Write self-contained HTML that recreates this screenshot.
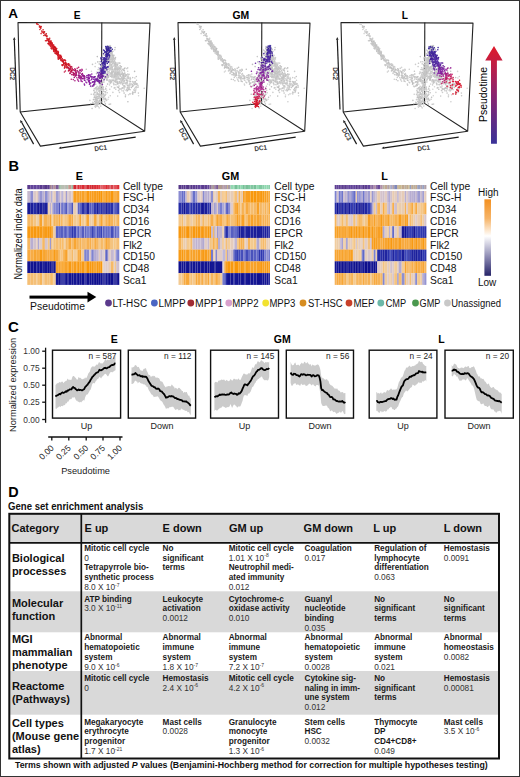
<!DOCTYPE html>
<html><head><meta charset="utf-8"><title>Figure</title>
<style>
html,body{margin:0;padding:0;background:#fff;width:520px;height:777px;overflow:hidden;}
svg{display:block;font-family:"Liberation Sans",sans-serif;}
</style></head>
<body>
<svg width="520" height="777" viewBox="0 0 520 777">
<rect x="0" y="0" width="520" height="777" fill="#fff"/>
<text x="8.3" y="18.2" font-size="13.5" fill="#000" font-weight="bold">A</text>
<text x="77.2" y="18.8" font-size="10.2" fill="#000" text-anchor="middle" font-weight="bold">E</text>
<text x="240.8" y="18.9" font-size="10.4" fill="#000" text-anchor="middle" font-weight="bold">GM</text>
<text x="404.8" y="18.9" font-size="10.2" fill="#000" text-anchor="middle" font-weight="bold">L</text>
<polyline points="20.2,112 18,22.5 150,23.1 144.7,131.3 40.4,146.1 20.2,112 101.5,103.4 144.7,131.3" fill="none" stroke="#222" stroke-width="1.1" stroke-linejoin="round"/>
<line x1="101.8" y1="22.5" x2="101.5" y2="103.4" stroke="#222" stroke-width="1.1"/>
<line x1="14.3" y1="39.9" x2="17" y2="109.4" stroke="#1a1a1a" stroke-width="1.2"/>
<polygon points="14.2,37.1 13,39.9 15.6,39.8" fill="#1a1a1a"/>
<text x="10.4" y="73.7" font-size="6.8" fill="#333" text-anchor="middle" font-weight="bold" textLength="13" lengthAdjust="spacingAndGlyphs" transform="rotate(90 10.4 73.7)">DC2</text>
<line x1="21.6" y1="122.3" x2="33.6" y2="144.1" stroke="#1a1a1a" stroke-width="1.2"/>
<polygon points="20.2,119.9 20.4,123 22.7,121.7" fill="#1a1a1a"/>
<text x="23.4" y="136.5" font-size="6.8" fill="#333" text-anchor="middle" font-weight="bold" textLength="13" lengthAdjust="spacingAndGlyphs" transform="rotate(61 23.4 134.5)">DC3</text>
<line x1="61.3" y1="147.8" x2="135.7" y2="137.2" stroke="#1a1a1a" stroke-width="1.2"/>
<polygon points="58.5,148.2 61.5,149.1 61.1,146.5" fill="#1a1a1a"/>
<text x="100.6" y="150.4" font-size="6.8" fill="#333" text-anchor="middle" font-weight="bold" textLength="12.6" lengthAdjust="spacingAndGlyphs" transform="rotate(-8 100.6 148)">DC1</text>
<polyline points="180.2,112 178,22.5 310,23.1 304.7,131.3 200.4,146.1 180.2,112 261.5,103.4 304.7,131.3" fill="none" stroke="#222" stroke-width="1.1" stroke-linejoin="round"/>
<line x1="261.8" y1="22.5" x2="261.5" y2="103.4" stroke="#222" stroke-width="1.1"/>
<line x1="174.3" y1="39.9" x2="177" y2="109.4" stroke="#1a1a1a" stroke-width="1.2"/>
<polygon points="174.2,37.1 173,39.9 175.6,39.8" fill="#1a1a1a"/>
<text x="170.4" y="73.7" font-size="6.8" fill="#333" text-anchor="middle" font-weight="bold" textLength="13" lengthAdjust="spacingAndGlyphs" transform="rotate(90 170.4 73.7)">DC2</text>
<line x1="181.6" y1="122.3" x2="193.6" y2="144.1" stroke="#1a1a1a" stroke-width="1.2"/>
<polygon points="180.2,119.9 180.4,123 182.7,121.7" fill="#1a1a1a"/>
<text x="183.4" y="136.5" font-size="6.8" fill="#333" text-anchor="middle" font-weight="bold" textLength="13" lengthAdjust="spacingAndGlyphs" transform="rotate(61 183.4 134.5)">DC3</text>
<line x1="221.3" y1="147.8" x2="295.7" y2="137.2" stroke="#1a1a1a" stroke-width="1.2"/>
<polygon points="218.5,148.2 221.5,149.1 221.1,146.5" fill="#1a1a1a"/>
<text x="260.6" y="150.4" font-size="6.8" fill="#333" text-anchor="middle" font-weight="bold" textLength="12.6" lengthAdjust="spacingAndGlyphs" transform="rotate(-8 260.6 148)">DC1</text>
<polyline points="343.2,112 341,22.5 473,23.1 467.7,131.3 363.4,146.1 343.2,112 424.5,103.4 467.7,131.3" fill="none" stroke="#222" stroke-width="1.1" stroke-linejoin="round"/>
<line x1="424.8" y1="22.5" x2="424.5" y2="103.4" stroke="#222" stroke-width="1.1"/>
<line x1="337.3" y1="39.9" x2="340" y2="109.4" stroke="#1a1a1a" stroke-width="1.2"/>
<polygon points="337.2,37.1 336,39.9 338.6,39.8" fill="#1a1a1a"/>
<text x="333.4" y="73.7" font-size="6.8" fill="#333" text-anchor="middle" font-weight="bold" textLength="13" lengthAdjust="spacingAndGlyphs" transform="rotate(90 333.4 73.7)">DC2</text>
<line x1="344.6" y1="122.3" x2="356.6" y2="144.1" stroke="#1a1a1a" stroke-width="1.2"/>
<polygon points="343.2,119.9 343.4,123 345.7,121.7" fill="#1a1a1a"/>
<text x="346.4" y="136.5" font-size="6.8" fill="#333" text-anchor="middle" font-weight="bold" textLength="13" lengthAdjust="spacingAndGlyphs" transform="rotate(61 346.4 134.5)">DC3</text>
<line x1="384.3" y1="147.8" x2="458.7" y2="137.2" stroke="#1a1a1a" stroke-width="1.2"/>
<polygon points="381.5,148.2 384.5,149.1 384.1,146.5" fill="#1a1a1a"/>
<text x="423.6" y="150.4" font-size="6.8" fill="#333" text-anchor="middle" font-weight="bold" textLength="12.6" lengthAdjust="spacingAndGlyphs" transform="rotate(-8 423.6 148)">DC1</text>
<path d="M258.2 94.6h0M428.9 58.7h0M110.3 57.4h0M265 62h0M108.4 51.3h0M108.4 46.1h0M263.2 71.9h0M284.1 70.5h0M272.2 79.3h0M108.2 50.1h0M117.5 70h0M268.8 52.6h0M433.8 67.7h0M96.8 89.5h0M240.3 70h0M97.4 88.5h0M425.7 89.2h0M432.2 65.8h0M430.9 80.2h0M110.5 56.6h0M274.1 72.2h0M296 83.4h0M99.7 92.5h0M108 67.1h0M418.1 78.7h0M379.9 52.8h0M211.8 44.7h0M377.9 52.9h0M91.2 94.3h0M421.2 98.1h0M448.5 83.7h0M277.6 71.5h0M422.3 77.4h0M425.8 63.2h0M430.8 57.5h0M119 86.1h0M115 64.9h0M386.1 61.3h0M403.7 70.5h0M287.2 77.5h0M283.4 91h0M105.1 95.5h0M424 75.3h0M138.2 87.1h0M428.8 67h0M426.8 69h0M426.5 58.2h0M223.1 61.3h0M220.5 56.9h0M266.4 48.1h0M267.2 54.8h0M119.9 67.5h0M417.2 97.2h0M225.6 62.4h0M276.6 77.4h0M431.6 46.8h0M287.2 82.3h0M294 81.8h0M101 84.4h0M425.5 71.7h0M236.3 74.9h0M379.2 52.4h0M385.7 61.6h0M133.6 83.4h0M392.7 69.9h0M98.6 89.7h0M260.1 99.6h0M433.1 65.3h0M437.7 68.1h0M407.7 77.2h0M284.5 71.1h0M412.5 84.3h0M425.5 71.7h0M377.4 49.5h0M437.6 77h0M446.3 78.8h0M98.5 89.3h0M120.9 68h0M436.4 80.5h0M123.8 80.7h0M423.9 73.8h0M115.6 71.1h0M458 92.4h0M427.3 66.2h0M435.4 69.4h0M422.7 78.1h0M115.1 77.1h0M425.8 82.3h0M123.2 81.9h0M230.6 68.6h0M287.3 83.7h0M420.6 96.9h0M103.5 71.1h0M272.8 58.1h0M111.6 82h0M428.9 68h0M249.9 100.4h0M109.5 51.8h0M94.9 97.4h0M433.4 53.7h0M273 75.8h0M413.7 103.8h0M431.9 68.6h0M120.9 76.5h0M113.8 57.2h0M117.3 87h0M437.9 63.5h0M264.7 60.9h0M283.2 85.5h0M415.1 76.9h0M273.1 58.6h0M119.2 74.8h0M283.9 87.4h0M209.7 38.2h0M435.5 80.6h0M271.8 74.6h0M223.6 62.5h0M110 57.4h0M266.7 90.2h0M433.7 50.9h0M424.5 74.3h0M267.6 53.6h0M114.3 81.2h0M415 78.7h0M420.5 98.6h0M269.6 79.7h0M379.7 48.5h0M228.4 63.8h0M430.7 55.8h0M126.7 84h0M231.7 66.7h0M134.2 90.4h0M274.3 81.2h0M283.8 77.2h0M432.7 80.2h0M434.1 80.2h0M133.1 82.7h0M103.3 91.4h0M112.1 55.9h0M217.8 52.7h0M410.2 75.5h0M217.9 51.2h0M287.4 85.7h0M423.1 74.1h0M449.9 68.6h0M129 85.8h0M236.4 72.3h0M272.7 61.2h0M269.3 61.1h0M114.9 80.9h0M268.2 53.5h0M442.4 89.6h0M273.9 84.8h0M427.9 73.1h0M267.1 67.7h0M122.9 77.8h0M284.7 82.7h0M105.7 76.4h0M394.6 74.6h0M264.8 71.5h0M221.5 60.5h0M271.8 52.7h0M119.6 70.7h0M271.5 65h0M297.9 85.3h0M104.6 59.5h0M270.2 48.3h0M438.5 74.7h0M422.1 75.3h0M201.1 33.6h0M135.9 84.4h0M98.5 94h0M279.7 74h0M225.3 63.9h0M264 67.8h0M450.7 90.4h0M372 41.8h0M118.5 76.5h0M437.9 80.9h0M97.1 103.3h0M104.9 71.7h0M411.6 81.3h0M203.8 32.9h0M417.7 80h0M203.9 35.5h0M276 65.9h0M107.2 77.5h0M426.8 97h0M268.7 48.1h0M445.4 84.2h0M230.2 73.2h0M250.7 76.7h0M421.4 80.4h0M368.5 40.8h0M420.2 92.5h0M95.8 84.3h0M104.9 91.5h0M108.7 49.7h0M376.9 47h0M423.1 78.3h0M105.3 63.1h0M117.6 71.5h0M101.3 90.6h0M387.9 67.6h0M426.4 62.5h0M261.5 71.7h0M284.3 80.4h0M112.7 71h0M420.9 94.2h0M444.3 74.5h0M259.2 72.4h0M107.1 60.2h0M273.9 77.9h0M232.8 72.2h0M427.4 95.2h0M130.1 77.5h0M216.8 51.7h0M427.7 60.1h0M95.7 87.8h0M216.9 54.2h0M251.8 74.1h0M421.6 74h0M107.2 67.9h0M397.7 70.6h0M281.8 73.2h0M276.2 79.5h0M113.6 66h0M272.1 55.9h0M384.3 57h0M436.9 77.9h0M286.1 90.5h0M236.3 73.2h0M115.8 89.3h0M99.4 96.5h0M133.7 83.6h0M398.6 70.6h0M422.6 81h0M264 68h0M423.9 94.4h0M380.4 53.8h0M287.7 80.9h0M239 77.4h0M115.8 69.7h0M435.4 71.1h0M242.4 73.5h0M275.8 69.7h0M98.3 89.8h0M263 94.3h0M275.9 76.2h0M113.8 63.1h0M422.9 88h0M425.7 68.2h0M269.5 62.9h0M120.1 74.3h0M107.8 49.7h0M230 73.4h0M127.3 83.7h0M403.7 78.9h0M380.7 53.8h0M413.7 76.7h0M107.4 68h0M102.6 101.7h0M400.6 79.2h0M108.9 68.6h0M442.7 74h0M384.3 56.9h0M430.5 50.1h0M426.9 98.4h0M102.6 72.4h0M104.9 78.2h0M389 63.9h0M372.5 39.8h0M436 75.8h0M261.4 72.2h0M110.1 48.6h0M267.8 66.9h0M423.5 97.9h0M380.3 53.7h0M380.8 53.3h0M110.7 62.4h0M258.5 82.9h0M225.6 64h0M111.3 51.8h0M257.7 61.9h0M220.1 58.4h0M271.1 50.9h0M222.5 65.1h0M265.3 64.1h0M432.2 50.9h0M430.6 76.4h0M263.6 71.4h0M437.1 72.2h0M428.8 52.8h0M261.7 64.3h0M410.2 79.7h0M435.5 63.2h0M262.6 71h0M266.2 47h0M106.3 55.6h0M238.6 81.2h0M112.5 71.3h0M118.5 71.8h0M112.6 54.6h0M117.2 81.2h0M102.7 89.2h0M424.6 74.8h0M426.8 65.4h0M98.4 80.4h0M261.1 71.6h0M417 94.1h0M98.1 104h0M252.1 76.9h0M432.6 64.6h0M113.8 77.4h0M227.1 64.4h0M272.2 73.9h0M98.9 97.9h0M122.5 78.7h0M136.1 87.4h0M115.9 80.5h0M271.1 73.3h0M250.5 86.1h0M407.8 78.2h0M92.8 102.3h0M275.7 66.5h0M219.7 58h0M123.7 70h0M127.2 88.8h0M248.7 77h0M439.4 65.5h0M389 64.7h0M226.8 64.2h0M418.1 66.6h0M270.5 56.6h0M290.1 89.8h0M117.2 67.8h0M433.6 81.8h0M417.7 101.6h0M429.4 48.1h0M269.1 54.7h0M422.4 100.8h0M116.6 76.4h0M119.8 72.6h0M126.4 75h0M271.2 73.3h0M121 82.9h0M267.8 58.2h0M428.7 52.2h0M428.7 51.7h0M419.5 87.6h0M383.5 56.9h0M415.4 82.2h0M433.2 83.2h0M274.3 73.2h0M244.4 78.8h0M97.7 103.7h0M114.9 87.6h0M292.8 92h0M257.5 80.8h0M442.1 74h0M426.8 63.8h0M292.7 81.5h0M430.3 72.7h0M123.4 91h0M123.2 77.7h0M261.8 69.5h0M219 58.7h0M437.6 65h0M102.3 95h0M111.2 73.3h0M293.9 89.5h0M133.2 85.5h0M278.1 77.7h0M264.9 72.6h0M417.7 81.7h0M436.8 71.8h0M430 61.6h0M435.4 72.5h0M424 84.4h0M137.1 83.8h0M425 83.4h0M101.7 83.5h0M270 53.6h0M430 67.3h0M110.3 81.6h0M446.8 80.7h0M256.7 100.4h0M266 54.7h0M280.4 66.1h0M98.2 98.1h0M223.2 65h0M270.6 81.8h0M425.5 72.3h0M404 77.2h0M268.3 59.5h0M121.5 80.5h0M112.3 66.8h0M109.3 59.1h0M263.3 91.4h0M216.8 53.3h0M422.3 82.5h0M103 97.7h0M257.3 56.6h0M223 61.8h0M96.3 105.2h0M273.8 58.8h0M97 104.6h0M98.1 69.6h0M106 74h0M293.6 83.4h0M390.6 67.5h0M378.6 50.4h0M423.5 76.6h0M279.2 79.2h0M115.2 84.6h0M261.3 61.4h0M438.1 72.3h0M266.7 63.4h0M427.5 59.3h0M95.6 97.9h0M278 78.4h0M277.9 76.3h0M208.7 40.1h0M268.9 52h0M243 75.2h0M125 68h0M431.6 56.4h0M378.5 47.3h0M118.1 77.7h0M124.3 80.4h0M448.4 96.8h0M419.1 99.4h0M266.6 53.2h0M259.3 82.5h0M106.2 47h0M425.4 67.3h0M271.9 58h0M110.6 104.1h0M279 73.4h0M105.7 88.3h0M266.3 73.8h0M435 52.2h0M270.4 80.2h0M105.5 66.8h0M423.8 86.7h0M227.6 67.5h0M121.7 78h0M428.4 65.1h0M427.7 101.9h0M262.6 101.7h0M434.6 82h0M253 81.7h0M275.1 47.6h0M423.3 84h0M433 45.5h0M268.7 61.7h0M144.2 88.3h0M425.4 65.7h0M109.3 58.6h0M95.2 99.3h0M110.1 65.3h0M268.7 59.6h0M254.7 81.7h0M110.5 53.6h0M393.9 67.8h0M108.1 56.5h0M389.3 66h0M418.1 81.2h0M233.3 73.1h0M432.1 57.8h0M378.6 49.4h0M103.2 88.1h0M263 72.4h0M276.2 73.4h0M392.7 65.2h0M118.8 73.2h0M381.5 54.6h0M270.7 62.4h0M280.9 76.5h0M101.7 95.2h0M263.8 97h0M379.8 51.7h0M243.4 77h0M266.9 48.6h0M380.2 53.2h0M108 50.2h0M248.5 78.8h0M131 83.5h0M424.1 59.1h0M388.4 71h0M110.9 61.8h0M432.5 59h0M399.3 73.2h0M437.4 75.3h0M121.2 88.9h0M117.9 76.3h0M387.9 60.6h0M374.8 46.2h0M429.3 73.8h0M445.2 80.2h0M203.1 29.7h0M416.5 94.2h0M280.1 75.3h0M217.4 53.8h0M374 44h0M431.7 75.4h0M431.2 57.9h0M124.3 73.3h0M264.7 60.1h0M107.9 54.8h0M273.8 57.2h0M439.6 77.4h0M233.9 74.8h0M123.2 85.5h0M97.3 100.4h0M99.2 81h0M257.5 79h0M434.1 74.4h0M225.8 63.2h0M427.9 72.6h0M107.1 69.1h0M269.7 80.2h0M117 82.1h0M367.5 31.9h0M272.3 67.9h0M123.4 73.7h0M431.6 76.9h0M106.3 73.8h0M420.1 86.4h0M425 88.1h0M219.6 58.2h0M430.9 50.4h0M427 57.7h0M427.2 77h0M434 76.5h0M126.5 89.6h0M399 75.7h0M229.7 65.2h0M115.4 59h0M119.8 81.8h0M278.1 67.1h0M424.3 90.6h0M393.1 66.7h0M434.1 51.5h0M267.6 55.3h0M97.1 89.4h0M263.7 73.1h0M110.1 73.5h0M386.2 65h0M270.4 59.8h0M120 82.1h0M425.1 92.9h0M392.6 68.7h0M262.4 76h0M229.7 69.9h0M430 55.3h0M422.9 101h0M293.3 92.7h0M424.3 81.1h0M417.4 77.2h0M103.7 75.5h0M272.8 61.8h0M107.2 54.5h0M283.5 81.4h0M423.5 88h0M125.2 76.2h0M424.6 74.5h0M231.5 70.6h0M119.6 88.5h0M262.6 72h0M431.7 48.5h0M373.1 41h0M115.5 74.7h0M108.7 48.5h0M108.1 48.3h0M108 55.9h0M275.7 70.9h0M389.8 64.2h0M430.1 69.1h0M118.5 90.6h0M264.5 64.2h0M260.8 86.7h0M230.4 68.5h0M277.6 65.1h0M244.8 76.6h0M422.6 75.7h0M122.8 75h0M258.5 81.5h0M247.2 77.7h0M442.4 88.6h0M211.1 48.3h0M417.6 83.9h0M424.9 96.4h0M289 88.3h0M431.2 62.3h0M435.5 71.3h0M107.2 92.7h0M381.3 52.7h0M283.4 79.4h0M228.5 70.9h0M278.4 74.1h0M111.5 61.2h0M129.5 89.3h0M432.1 68.5h0M268.5 57.1h0M100.8 106.1h0M218 53.5h0M265.8 52.8h0M222.7 60.2h0M273.9 79.9h0M121.6 77.4h0M428.1 78.1h0M422.6 93.1h0M115.1 72.3h0M368 34.3h0M435.5 72.3h0M108.4 50.6h0M98.7 87.4h0M116 79.3h0M112 72h0M109 81.7h0M134.9 78h0M417.3 95.3h0M121.7 82.6h0M258.2 75.9h0M433 47.2h0M108.5 60h0M111.3 47.8h0M421 96.5h0M427.2 78.8h0M129 78.7h0M366.1 31.5h0M261.9 96.4h0M419 105.9h0M234.7 73.8h0M436.9 70.8h0M426.1 71.9h0M279.9 67.5h0M434.8 77.2h0M420.4 104.2h0M272.6 62.9h0M261.1 59.1h0M136.8 87.6h0M391.4 67.5h0M421.5 89.3h0M444.7 78h0M234.3 77.4h0M459.3 84h0M282.8 75h0M267.2 92.7h0M273.5 69.2h0M116.2 68.2h0M274.8 72.6h0M427.7 60.9h0M275 65.8h0M429.2 63.2h0M99.2 63.9h0M229.6 65.1h0M392.5 70.1h0M211 42.7h0M137.9 85.3h0M199.5 27.1h0M284 83.5h0M114.1 63.1h0M110.4 53.7h0M434.4 61.5h0M429.4 54h0M432 68h0M102.5 88.2h0M271.9 75.7h0M138.4 93.1h0M99.7 94.4h0M420.9 77h0M126.9 79.6h0M248.8 75.6h0M107 75h0M116.1 64.2h0M281.1 69.1h0M113.6 57.6h0M98.5 103.4h0M276.6 76.4h0M224.4 68.1h0M431.4 46.1h0M294.2 90.4h0M427.4 99.7h0M276.7 74.3h0M417.2 82.1h0M251 76.3h0M446.5 81.4h0M416.9 90.4h0M393.4 71.9h0M423.7 83.9h0M112.5 72.3h0M279.4 82.6h0M249 81.8h0M440.9 75.2h0M431.1 49.7h0M117.5 76.8h0M100.9 94.4h0M296.3 84h0M382.1 55.9h0M240.7 70.5h0M98.2 98.1h0M288.8 87.1h0M110.7 48.6h0M285.4 96.8h0M296.1 87.4h0M206.8 36.6h0M107.3 59.5h0M257.7 72.8h0M431.3 57.5h0M425.4 84.5h0M119 73.4h0M381.1 56h0M249.5 84.3h0M277.7 83.9h0M136.5 80.3h0M361.1 24.5h0M292.7 92.4h0M132.7 77.6h0M114.7 68.1h0M424.2 85.5h0M121.5 70.8h0M434.9 68.2h0M105.2 71.4h0M210.6 43h0M426.9 73h0M274.8 74.2h0M109.2 52.8h0M290.5 78.8h0M430.5 49.7h0M93.9 103.4h0M449.3 82.9h0M373.2 44.4h0M259.8 91h0M278.5 72.7h0M421.2 103h0M425.6 101.7h0M116 66.9h0M268.1 46.9h0M258.6 89.7h0M96.5 87.6h0M261.6 74.5h0M425.3 78h0M440.7 83.9h0M118.5 73h0M264.6 52.1h0M100.4 86.4h0M418.2 100h0M118.5 67.3h0M389.1 65.7h0M103.9 58.9h0M235.8 72.1h0M373.9 42.2h0M109.1 68.5h0M233.3 79.6h0M406.4 77h0M274.2 88h0M439.6 76.4h0M429.3 49h0M279.1 78h0M96.3 99.1h0M226.1 65.7h0M268.3 52h0M431.1 75.6h0M126.9 68.6h0M445.8 83h0M97.2 92.5h0M418.3 79.8h0M111.3 66.3h0M429.1 56.7h0M247.2 79.7h0M110.3 55.3h0M103.2 68h0M111.2 54.7h0M421.5 76.2h0M391.8 70.3h0M261.9 67.8h0M376.7 51.5h0" stroke="#c9c9c9" stroke-width="1.6" stroke-linecap="round" fill="none"/>
<path d="M244.6 85.1h0M426.4 59.6h0M122.8 88.5h0M219.4 55.8h0M429.5 70.8h0M270.6 104.1h0M117.8 71.6h0M263.4 76.2h0M282.9 69.4h0M282.6 83.8h0M279.1 69.2h0M113.3 56.2h0M107.6 67.3h0M265.6 59.1h0M431.2 53.5h0M428.4 76.9h0M96.9 105.6h0M295.2 82.9h0M272.8 59.8h0M215.6 49.4h0M283.8 77.3h0M114.1 55.4h0M132.3 93.6h0M426.1 89.8h0M425.5 73.6h0M420.1 103.3h0M100.8 65.1h0M425.9 94h0M434.9 74.5h0M224.4 72h0M292.3 93.6h0M113.3 77.1h0M263.2 73.5h0M387 59.8h0M414 76.3h0M101.2 89h0M373.8 43.3h0M387.9 60h0M430 56.5h0M426 72.4h0M117.6 79.5h0M409.9 75.7h0M100.8 69.8h0M99.4 101.7h0M432.1 50.7h0M382.3 56.5h0M387.7 65.9h0M289.5 89.3h0M423 95.2h0M426.7 75.5h0M284.8 73.1h0M98.4 91.3h0M277.5 68.9h0M216.9 52.8h0M112.2 79.3h0M230.2 67.1h0M211.5 43.6h0M212.2 47.7h0M276.9 68.6h0M411.5 78.8h0M437.8 72.6h0M417.4 81.4h0M431 67.1h0M113.5 69.2h0M260.6 64.8h0M282.5 74h0M97.3 88.6h0M401.6 67.4h0M261.3 72.6h0M260.7 73.9h0M421.5 82.9h0M138.6 95.8h0M447.1 70.5h0M441.3 87.4h0M244.3 84.1h0M111.4 61.1h0M269.3 59.1h0M427.5 64.2h0M111.1 51.5h0M449.1 90.5h0M263.5 71.9h0M269.3 51.2h0M418.9 99.2h0M458.9 89.9h0M268.6 48.8h0M110.8 67.7h0M408.8 82h0M265.3 98.4h0M425.4 72.9h0M113.2 76.9h0M277.2 81.2h0M253.3 81.7h0M447.7 85.8h0M266.6 79.8h0M441.7 67.3h0M106.4 78.5h0M267.6 67.3h0M262.3 77.8h0M117.7 74.6h0M265.4 94.2h0M426.1 59.8h0M122.9 81.8h0M99.6 93.1h0M267.6 84.1h0M263.4 69.5h0M98.4 88.7h0M99.9 101h0M269.5 55.7h0M220.1 56.7h0M265 58.8h0M218.3 52.7h0M432.4 56.1h0M421.4 106.6h0M274.6 77h0M426.4 69.8h0M112.4 71.1h0M282.7 76.1h0M412.1 78.4h0M405.7 75.1h0M258.9 104.4h0M399.7 75.3h0M381.9 55.3h0M379.6 52.5h0M445.9 81.8h0M107.6 78.9h0M432.8 51.4h0M421.2 103.3h0M237.9 71.7h0M430 75h0M101.9 96.4h0M242.8 75.5h0M106 69.9h0M235.6 70.6h0M279.2 81.5h0M374.2 41.1h0M417.7 92h0M428.5 68.1h0M265.7 52.2h0M292.8 94.1h0M431.8 52.6h0M426.4 69.4h0M385.7 60.2h0M242 76.2h0M108.3 77.2h0M123.7 78.9h0M252.3 86.1h0M276.5 79.2h0M424.8 69.5h0M386.6 62.5h0M446.2 85.5h0M430.3 56.8h0M258.6 74h0M101.6 86.1h0M388.8 63.2h0M431.7 50.9h0M281.5 70.8h0M423.5 82.6h0M387.9 63h0M285.5 75.5h0M127.8 78.5h0M273.4 76.4h0M287.1 90.9h0M102.1 57.5h0M104.9 58.9h0M110.5 55.7h0M430.9 50h0M134 81.8h0M274.9 58.6h0M387.4 68.1h0M95.8 92.2h0M212.1 42.9h0M269.1 80.7h0M129.8 87h0M271.5 57.2h0M430.5 50.6h0M271.1 74.4h0M266.7 49.9h0M100 73.4h0M419.3 99.1h0M94.7 96.5h0M388.9 63.9h0M403.6 76.1h0M125.3 75.7h0M118.1 67.1h0M103.9 73h0M282.4 74h0M105.2 68.5h0M412 81.8h0M233.6 75.1h0M277 63h0M432.8 61h0M434.5 86.7h0M280.1 69.1h0M258.9 97.9h0M120.9 89.2h0M268.1 99.2h0M420.4 100.3h0M95.5 63.3h0M420.7 61.9h0M287.2 88.8h0M401 80.2h0M259.6 93.1h0M97.6 96.9h0M231 66.6h0M216.5 50.8h0M260.8 106.1h0M268.1 56.5h0M108.7 50.9h0M128.6 94.7h0M426.5 80.6h0M418.1 106.3h0M123.4 79.4h0M426.6 71.4h0M435.1 75.3h0M287.3 87.6h0M377.6 47h0M429.4 56.3h0M110.4 51.5h0M94.3 88.5h0M271.9 59.8h0M413 83.6h0M287.4 81h0M282.4 84.2h0M425.6 72h0M425.4 75.6h0M135.9 89.9h0M445.4 88.1h0M106.2 77.8h0M442.2 74.8h0M115.6 78.9h0M103.6 72.1h0M264.9 63.2h0M404.2 78.8h0M389.3 64.7h0M429.6 79.8h0M264.1 64h0M432.3 55.5h0M125.5 75.5h0M267.6 73.6h0M107.5 71.1h0M374.5 43.6h0M405.2 81.6h0M434.2 81.4h0M108.1 75.6h0M217.7 52.9h0M105.1 70.6h0M274.1 55.4h0M120.3 78.6h0M274.7 68.1h0M426.6 72.1h0M428.4 65.2h0M438.1 74.4h0M122.8 83h0M371.7 40.1h0M431.4 51.9h0M429.9 69.8h0M98.9 104.4h0M457.6 71.4h0M109.6 79.7h0M375.7 47.5h0M429 55.8h0M278.8 83.6h0M419.4 103.4h0M108.1 99.2h0M109.1 61.3h0M118.1 78.4h0M207.8 40.2h0M278.5 63h0M434.7 62.3h0M422.6 91.3h0M423.8 106.1h0M111.5 57.2h0M109.5 55.6h0M266.3 68h0M212.6 44.6h0M459.8 87.6h0M263.9 63.4h0M116.4 67.6h0M113.1 59.5h0M445.7 77.4h0M438.2 67h0M279.6 63h0M422.5 101.9h0M282.4 87.9h0M273.8 77.4h0M111.9 68.2h0M444.6 77.4h0M100.5 87.8h0M265.4 65.1h0M430.9 58.3h0M273.7 83.6h0M425.5 63.9h0M239.7 78.1h0M419.8 79.4h0M425.8 71.1h0M116.2 71.4h0M211 44h0M280.3 78.6h0M111.8 52.4h0M102.4 67.3h0M268.4 53.3h0M133.9 82.8h0M108.7 59.6h0M97.5 93.1h0M236.8 77.7h0M263.3 63h0M114.8 72.6h0M441.1 67.1h0M101.4 78h0M241.2 78.8h0M262.5 73.6h0M237.2 70.5h0M432.7 70.2h0M109.4 51.8h0M282.4 88.1h0M285.5 95h0M421.6 75.5h0M430.3 80h0M429.4 48.1h0M450.4 81h0M271.9 52h0M102.9 94h0M264.4 50.7h0M213.7 51.5h0M224 59.8h0M262.6 71.7h0M219.2 56.1h0M96 94.2h0M430.5 49.5h0M267.5 54.6h0M296.2 84.2h0M442.7 78.9h0M414.5 79.6h0M117.2 74.1h0M363.6 27.6h0M265.9 68h0M427 82.1h0M420.2 93.4h0M274.1 75h0M101.8 73.8h0M268.7 50.3h0M100.9 73.8h0M267 55.3h0M241.7 74.4h0M431.5 54.9h0M106.6 53.2h0M372.6 42h0M295.2 82.1h0M233.6 72.8h0M114.6 70h0M428.7 61.5h0M265.7 76.4h0M453.5 78.8h0M421 104.3h0M376.7 47.8h0M421.9 88.2h0M418.9 95.5h0M114.7 61.5h0M210.8 43.3h0M426.5 93.9h0M284.2 88.9h0M264.3 66.2h0M229.5 70.1h0M425.5 62.5h0M264 57.7h0M104.9 66.5h0M260 78.5h0M259.2 63.9h0M99 90.1h0M263.4 59.6h0M280.2 76.3h0M121.9 90.7h0M275.1 74.4h0M213.5 45.9h0M214.9 52.9h0M430.5 53.8h0M241.1 80.3h0M107.4 46.5h0M424.5 67h0M98.6 67.7h0M99.2 107.9h0M410.1 77.6h0M423.4 86h0M103.5 80.6h0M264.4 99.7h0M391.4 63.8h0M246.9 77.2h0M275.6 68.8h0M419.3 88.8h0M377.3 46.6h0M264.7 71.4h0M243.9 75.9h0M113 75.8h0M269.1 50.7h0M277.8 71.6h0M389.5 65.6h0M430.6 84.1h0M215.5 53.6h0M429.8 50.6h0M132.3 85.3h0M112.4 71.8h0M431.7 61.7h0M399.4 72.3h0M98.4 106.6h0M426.2 68h0M269.2 65.8h0M102.3 82.8h0M398.6 71.9h0M262.8 63.2h0M266.4 78.5h0M133.9 89.5h0M423.9 74.5h0M440.1 83h0M434.1 50.9h0M265.4 60.5h0M426.2 94.3h0M270.9 61.8h0M271.1 68.9h0M266.4 56.3h0M438.2 84.6h0M246.9 75.7h0M448.3 76h0M451.6 94.7h0M208 39.6h0M263.4 62.7h0M257.3 81.2h0M439.2 68.2h0M280.1 74.3h0M123.6 90.8h0M106.4 53.7h0M127.7 71.3h0M438.6 81.2h0M281.5 80.5h0M426.1 62.3h0M265.4 76.9h0M418.8 84.3h0M374.7 43.6h0M112.7 76.9h0M422.7 77.7h0M424.4 78h0M429.9 77.4h0M426.7 62.3h0M101.6 85.3h0M121.3 81.8h0M116 66.9h0M425 70.5h0M280.9 89.2h0M272.2 72.3h0M277.2 67.8h0M433.1 59.1h0M430.6 61.7h0M423 73.4h0M413.5 86.1h0M435.9 92.4h0M134.5 84.8h0M229.6 68.7h0M426.2 68.2h0M97.5 94.5h0M286.2 74.9h0M268.7 75.4h0M104.4 99.7h0M218.3 56.7h0M94.7 92h0M422.5 96.6h0M210.5 43.9h0M244.3 76h0M424.5 70.8h0M385.3 58.9h0M375.6 44.6h0M288.5 89.3h0M270.4 64h0M266.9 59.1h0M277.2 74.7h0M96 105.9h0M206.9 35.8h0M444.8 78.2h0M111.1 80.2h0M111 72.7h0M282.2 80.2h0M265.6 99.1h0M249.8 80.5h0M124.5 71.1h0M282.9 77.8h0M292.2 84.5h0M112.2 72.3h0M270.4 49.6h0M108.6 46.8h0M275.6 62.5h0M262.5 71.7h0M225.4 71h0M421.6 67.7h0M423.8 69.8h0M399.3 74.9h0M95.3 104.4h0M282.9 81.8h0M111.1 73.3h0M267.7 60.3h0M440.2 81.2h0M261.5 70.8h0M117.5 72.5h0M269.9 54.9h0M281.3 82h0M116.1 69.9h0M411.7 80.3h0M100.5 82.6h0M370.8 40.2h0M281.2 88.9h0M432.8 89.2h0M235.6 71.9h0M261.3 81.1h0M418.2 99.3h0M280 82.1h0M269.9 74.8h0M260.6 103.4h0M436.5 62.1h0M467.2 88.3h0M421.2 75.9h0M448 76.7h0M428.1 67.9h0M272.3 66.8h0M241 77.8h0M264.7 61.6h0M231.6 74.6h0M432.9 51.3h0M294.5 84.8h0M209.2 43.4h0M113.3 83h0M136.5 87.6h0M276.5 84.7h0M430.3 74.7h0M124.7 82.7h0M276.4 65.5h0M395.2 68.2h0M113.2 56.3h0M432.4 51.8h0M438.9 76.2h0M380.4 52.5h0M116.5 84.7h0M435.2 79.3h0M450.7 80.9h0M435.3 55.6h0M107.9 50.7h0M259.7 92.5h0M127.2 77.5h0M91.2 86.7h0M107.5 52.9h0M106.1 60.6h0M427 69.8h0M427.4 66.6h0M242.7 75.1h0M387 63.6h0M113.9 74.5h0M437.7 69h0M423.2 68.3h0M430.2 54.8h0M397.4 73.9h0M369.7 40.2h0M102.2 82h0M288.9 87.3h0M423.5 72.8h0M112.1 59h0M122.8 73.5h0M117.2 65.9h0M135.2 82.1h0M103.2 94.3h0M388.6 64h0M137.9 85.8h0M108.6 97.3h0M133.3 92.7h0M422.2 107.9h0M124 83.5h0M434 47.8h0M239.8 77.6h0M210.2 44.4h0M242.6 78.6h0M280.5 79.9h0M94.3 95.3h0M275.8 75.8h0M434.2 73.3h0M270.8 67.7h0M283.8 80.7h0M118 76.5h0M99.1 75.3h0M108.2 69.5h0M442.6 78.7h0M267.5 52.9h0M386.7 63.9h0M119.4 89.6h0M420.3 100.4h0M106.4 86.3h0M109.3 58.4h0M400.2 70.5h0M296.9 84.8h0M386 61.8h0M212.7 47.5h0M440.9 76.3h0M277.6 79.5h0M427.9 58.9h0M109.6 84.9h0M270 52.2h0M127.1 90.9h0M427.4 78.2h0M106.7 90.2h0M424.2 62.8h0M429.1 60.6h0M108.2 66.7h0M241.3 77.3h0M96.6 90.3h0M105.7 48.6h0M257.3 88.6h0M95.9 99.2h0M285 76.7h0M119.1 69.2h0M268.5 59h0M279.7 63.3h0M220.3 55.9h0M91.4 71.2h0M271.7 72.2h0M96.2 105.5h0M271.2 54.7h0M269.4 56.1h0M423.3 90h0M129.5 83.4h0M126 75.9h0M364.1 33.6h0M422.4 101.7h0M373.9 44.7h0M395.8 74.7h0M103.8 75.1h0M249.1 78.4h0M110.5 45.9h0M97.9 94.2h0M105.7 61.5h0M411.7 77h0M410.2 77.7h0M420.5 94.5h0M278.8 73.2h0M266.9 77.4h0M270.3 95.8h0M433.2 82.7h0M420.1 103.1h0M420.5 80.8h0M109.1 80.7h0M440.5 68.9h0M234.8 68.7h0M96.5 91h0M107.7 60.3h0M228.2 64.8h0M106.6 79.8h0M363.8 28.3h0M424.3 61.4h0M428.3 63.7h0M425.3 77.8h0M271.5 62.3h0M275.6 66.6h0M286.3 82.9h0M426.7 61.7h0M215.2 48.2h0M271.1 55h0M221.3 57h0M252.1 108.5h0M122.6 83.8h0M120.6 74.1h0M375.9 45.3h0M102.5 70h0M263.5 93.9h0M223.7 63.9h0M265.8 46.5h0M243.4 75.6h0M262.4 84.5h0M114.6 65h0M108.2 73.1h0M371 39.6h0M435 71.5h0M112.3 67.9h0M430.2 67.9h0M257.9 94.2h0M121.1 69.1h0M221.4 56.6h0M109.7 80.2h0M434.5 61.2h0M109 68h0M119.2 79.2h0M432.7 57.3h0M433.3 95.8h0M109.2 65.8h0M418.2 76.8h0M406 75.2h0M447.7 82.7h0M98.5 82.9h0M418.5 107.3h0M445.2 79.3h0M277.4 73.4h0M427.9 63.2h0M442.1 78h0M226.5 65.6h0M114.9 63.5h0M96.6 101.7h0M290.1 77.5h0M424.9 86.2h0M109.9 54.9h0M417.7 96.5h0M427.6 59.5h0M100.1 99.6h0M260.5 69h0M377.5 51.1h0M444.3 82h0M423.3 100.1h0M280.6 78.8h0M278.7 74.5h0M279.1 74h0M378.2 48.2h0M113 64.7h0M401.6 81.2h0M259.7 78.1h0M446.6 90.8h0M403.3 73h0M383.4 58.2h0M416.8 84.3h0M214.3 47.1h0M259.7 77.7h0M106 48.4h0M104.6 60.3h0M419.7 100.4h0M95.7 105.1h0M428.6 59.1h0M432.5 55.7h0M211.8 43.7h0M263.1 89.8h0M433 57.4h0M425.1 57.5h0M264.4 66.6h0M417.3 88.5h0M254.3 95.3h0M419 94.2h0M261.6 73.1h0M134.4 84.2h0M234.7 70.6h0M298.6 95.8h0M116.6 77.4h0M429.7 59.8h0M435.2 72.3h0M428.2 71.4h0M421.6 79.2h0M100.1 78h0M288.6 94.7h0M371.1 39.3h0M267.2 54.5h0M293.7 83.6h0M438.1 77.1h0M430 55.1h0M94.3 92.1h0M109.7 46.2h0M424.7 95.2h0M102.2 71.2h0M430.2 49.9h0M268.9 69.5h0" stroke="#d4d4d4" stroke-width="1.6" stroke-linecap="round" fill="none"/>
<path d="M99 88.4h0M275.7 73.2h0M265.7 89.1h0M413 74.8h0M235.4 75.4h0M249.7 83.8h0M296.8 87.6h0M427.5 66.1h0M420.2 77.9h0M101.9 67.8h0M387.9 66.6h0M285 68h0M437.8 74.2h0M115.3 82h0M210.1 41h0M429.4 86.3h0M112.4 59.6h0M267.5 49.7h0M119.7 74h0M118 68.9h0M270.6 81h0M123.3 78.8h0M111.6 53.4h0M100 95.2h0M431.7 48.1h0M226.4 67.6h0M423.5 87.8h0M430.6 67.3h0M407.5 80.2h0M425.2 74.7h0M421.1 98.8h0M426.4 60.1h0M126.3 80.6h0M273.5 62.1h0M418.8 103.3h0M112.5 56.4h0M362.5 26.1h0M445.6 83.8h0M423.9 101.8h0M431.2 49h0M428.4 103.9h0M123.4 75.3h0M128.7 89.3h0M273.8 71.8h0M265.8 67h0M118.7 74.5h0M278.5 90.6h0M101.1 66.1h0M136 83.4h0M420.5 79h0M223.5 60.2h0M216 50.3h0M394.3 71.1h0M420.1 105.9h0M394 66.6h0M372.1 43.7h0M397.7 73.8h0M419.3 79.9h0M108.5 57.1h0M233.7 73.6h0M204.5 31.9h0M115.8 72.3h0M93.9 90.4h0M262.3 78h0M418.8 92.2h0M130.6 81.6h0M122.4 87.9h0M270 47.2h0M135 92.4h0M263.2 68.2h0M117.1 83h0M255.7 87.8h0M435.4 71.8h0M276.2 71.4h0M259 90.1h0M271.5 86.7h0M427.6 58.8h0M254.2 82.1h0M434.5 65h0M110.1 53h0M98.9 76.5h0M269.8 64.8h0M419.6 90.3h0M283.7 70h0M215.6 50.4h0M282.3 72.3h0M375.7 47.1h0M109.5 59h0M431.6 97.3h0M411.9 80.3h0M210.7 41.6h0M295.4 91.3h0M100.3 100.1h0M277.1 82.3h0M426.2 71.9h0M265.6 99.8h0M418.6 97.9h0M116.9 69.3h0M255.1 66.6h0M259.3 77.4h0M421.6 89.7h0M117.3 82.2h0M375.6 45.3h0M111.1 74.4h0M105.7 99.3h0M100.7 102.4h0M119.7 63.3h0M113.1 55.5h0M102.2 75.6h0M421.2 94.6h0M422.8 69.8h0M296.5 87.6h0M398.2 75.9h0M430.5 61h0M107.5 61h0M266.9 53.2h0M406.4 75.6h0M135.2 81.7h0M432.2 52.8h0M283.4 75.3h0M268.8 49.9h0M428.4 92h0M103 67.1h0M412.5 82.6h0M130 93.9h0M393.4 68.5h0M107.7 76h0M93.4 99.8h0M242.3 70.1h0M268 55.9h0M275.3 82h0M433.1 50.3h0M102 83.4h0M100.8 86.7h0M432.4 51.1h0M273.3 83h0M397.8 68.7h0M433.5 53.6h0M427.6 60.3h0M425.6 67.8h0M427 75.9h0M101.6 74.8h0M425.5 70h0M402 73.9h0M113.6 71.4h0M285.3 75.7h0M267.9 50.4h0M260.7 77.4h0M266.8 50.6h0M420.2 96.6h0M98.1 98.8h0M443.4 75.4h0M124.1 70.5h0M275.6 81.8h0M424.6 72.8h0M282.8 73.7h0M263.7 62.5h0M109.2 104.3h0M217.3 54.5h0M260.7 102.4h0M272.8 60h0M421.6 87.6h0M430.7 60.3h0M392.4 69.9h0M279.6 88.5h0M273.4 80.5h0M429.6 52.1h0M374 42.9h0M251.2 94.3h0M432.3 58.6h0M424.9 57.4h0M372.8 43.4h0M412.1 81.5h0M445.8 73.7h0M446.8 77.2h0M371 39.2h0M123.8 75.3h0M422.6 86.1h0M206.3 33.9h0M430.1 60.2h0M441.9 83h0M110.1 59.1h0M379.6 51h0M263.1 59.8h0M273 64.7h0M110.5 53.1h0M264.7 101.9h0M122.2 80.2h0M430.8 47h0M123.1 77.2h0M376.5 45.9h0M421.5 103.4h0M278.5 73h0M429.5 76.2h0M424.1 71.6h0M266.6 50.8h0M293.9 82.8h0M429.7 49.9h0M252.5 64.4h0M106.6 61h0M273 61.3h0M224.9 67.6h0M426.4 76.2h0M273.1 59.5h0M433.3 81.6h0M424.3 72.6h0M258.1 94.2h0M93.5 94.2h0M378.1 47.9h0M221.2 57.6h0M371.1 40h0M132.7 92.4h0M379.4 49.2h0M94.8 92.7h0M239 73.9h0M440.5 76.8h0M382.6 55.2h0M417.3 92.1h0M106.7 59.9h0M451.5 89.3h0M452.8 87h0M254.4 77.2h0M371.5 41.7h0M244.8 78.2h0M104.3 55.2h0M216.3 48.7h0M132.8 94.1h0M118.3 87.4h0M376.6 50.7h0M420 72h0M127.9 101.7h0M424.7 64.3h0M109.6 64.6h0M414.8 77.1h0M277.5 64.2h0M428.7 70.6h0M109.8 52.9h0M432.3 52.1h0M395 69.9h0M427.9 57.9h0M261 70.8h0M369.8 36.6h0M128.4 77h0M275.8 63.7h0M269.1 49.3h0M424.1 66.1h0M420.4 102.1h0M261.6 97.2h0M102.8 82.3h0M381 53.5h0M264.5 66.1h0M423.1 78h0M217.7 53.8h0M268.6 97.3h0M256.7 79.9h0M270.8 67.6h0M417.8 82.3h0M396.7 73.6h0M384.5 60.5h0M270.9 82.7h0M269.5 55.6h0M382.4 55.8h0M233.6 69.9h0M272.4 72.5h0M447.5 71.1h0M428.5 91.9h0M398.4 75.4h0M274.8 49.7h0M112.2 73.9h0M379.8 53.3h0M430.9 54.8h0M282.7 77.4h0M112.6 61h0M285.2 76.2h0M366.8 32.9h0M270.2 82.7h0M95.1 106.3h0M277.5 72.5h0M231.5 71.9h0M422.9 70h0M96.1 99.4h0M115 69.3h0M261.8 73.8h0M266 55.8h0M374.1 48.3h0M271.9 74.5h0M274.7 72.5h0M117.2 64.7h0M426.7 73.1h0M419.3 97.2h0M425.3 82.8h0M430.6 78.9h0M263.4 62.5h0M276.4 67.6h0M116.9 68.4h0M229.8 69.7h0M281.4 80.6h0M269.3 47.1h0M213.6 50.7h0M432 49.4h0M258.6 75.5h0M206.7 40.2h0M110.2 59.1h0M222.3 58.9h0M225.9 63.9h0M109.2 50.9h0M86.3 69.3h0M269.8 51.4h0M244.7 77.2h0M267.3 74.7h0M103.7 89.6h0M283.8 76.1h0M389.9 67.8h0M272.1 57h0M426.5 71.1h0M430.2 53.7h0M380.7 55.4h0M277.7 83.8h0M112.9 51.3h0M99.6 86.1h0M450.3 83.7h0M441.1 78.4h0M292.7 86.3h0M391.3 68.5h0M263.2 67.4h0M430.5 60.2h0M205.5 40.8h0M253.6 79.3h0M364.2 26.6h0M419 101.3h0M97.1 103.1h0M110.7 68h0M404 77.8h0M390.5 67h0M402 71.9h0M267.4 46.5h0M272 67.8h0M108.5 53.2h0M107.6 84.1h0M246.3 69.3h0M98 96.5h0M371.7 41.6h0M270.2 56.1h0M426.9 63.3h0M275.6 81.2h0M381.3 59.2h0M265.2 71.4h0M122.3 79.7h0M429.1 59.6h0M123.8 76.1h0M266.6 52.2h0M247.1 77.6h0M426.4 69.5h0M428.6 99.8h0M96.3 97.2h0M430.2 47.3h0M378.6 51.3h0M268.8 52.1h0M421.1 94.2h0M111.2 81.4h0M286.7 84h0M395.8 72.2h0M271 76.5h0M268.2 66.7h0M441.1 68.7h0M265.5 91.9h0M122.7 76.1h0M260.1 82.6h0M109.6 61.7h0M258.7 80.6h0M94.7 101.6h0M237.2 68.2h0M455.2 84.5h0M214.6 47h0M424.6 86.1h0M265.8 94.3h0M428.8 56.8h0M113.2 57.1h0M203.4 33h0M275.6 71.1h0M426.5 53.7h0M416.7 84.8h0M272.6 61h0M267.2 67.9h0M381.4 52.1h0M116.5 68.4h0M112 67.8h0M430.6 75.9h0M424.2 89.5h0M109.6 59.7h0M123.8 78.8h0M256.2 95h0M211.9 49h0M112 52.2h0M257.4 79.1h0M109.3 47.1h0M420 104.6h0M219.1 55.9h0M425.2 70.1h0M270.1 50.3h0M262.6 67.8h0M289 85.8h0M269 81.7h0M118.4 73.3h0M269.1 57.8h0M127.4 85.7h0M379 50.3h0M284.8 73.6h0M108.3 52h0M295.2 90.3h0M432.9 68.5h0M266.6 61h0M210.9 46.7h0M418.9 102.4h0M432.8 50.6h0M426.5 71.9h0M117.7 83.8h0M109 49.4h0M266 48.4h0M396.9 74.8h0M285.5 83.7h0M113.1 61.7h0M277.1 83h0M289.8 87h0M376.7 45h0M390.4 67.2h0M277 82.1h0M100.6 103.4h0M269.3 58.4h0M111.7 62.3h0M214.3 46.6h0M429.8 61.5h0M260.5 97.9h0M444.2 88.9h0M417.9 97.4h0M425.7 70.3h0M105.4 65.2h0M431.1 48.3h0M117.1 82.3h0M125.4 96.8h0M111.8 74.6h0M425.2 82h0M283.7 78.9h0M208.7 41.6h0M96.2 102.6h0M121.4 66.8h0M100.3 90h0M422.3 94.5h0M426.7 62.5h0M278.7 67.3h0M366.9 35.5h0M401.8 77.7h0M426.1 65.6h0M263.7 96.1h0M366.4 33h0M362.5 27.1h0M212.9 45.8h0M272.5 56.4h0M427.8 71.5h0M112.3 55.6h0M123.9 78.5h0M210.4 46.1h0M282.3 79.7h0M114.8 74.2h0M228.3 68.5h0M266.7 57.9h0M277.3 87h0M100.5 97.9h0M266.3 55.6h0M453.7 84.9h0M272.7 71h0M431 71.5h0M271.9 68.2h0M107.6 73.6h0M281.8 78.2h0M423.8 65.1h0M112.5 63.2h0M278 76.5h0M253.9 99.2h0M122.8 73.7h0M275.7 71.3h0M421.7 87.4h0M265.1 59.8h0M128.9 87.3h0M216.4 49.2h0M395.5 69.9h0M400.9 71.7h0M383.1 56.7h0M421.8 101.3h0M241 77.2h0M381.3 56.7h0M120.1 75.3h0M112.5 63.4h0M106.4 52.4h0M426.2 67.4h0M262.7 68.2h0M101.9 86.2h0M429.2 54.6h0M128.8 87.1h0M394.5 71.9h0M422.2 72.4h0M445.4 87.9h0M105.5 91.9h0M104 69.8h0M266.8 55.7h0M274.7 69h0M421.1 69.6h0M427.7 71.4h0M298.4 93.1h0M271.5 64.6h0M267.6 78.9h0M114.6 77h0M444.5 80.5h0M97.3 56.6h0M108.6 76.9h0M274.1 63.1h0M412.7 83.8h0M123.9 74.4h0M111.3 73h0M376.9 49.4h0M437.6 70h0M270.2 59.1h0M426 97.7h0M278.1 68.7h0M429.8 61.2h0M224.9 63h0M446 83.7h0M452.5 89.3h0M427.3 96.1h0M294.9 78h0M277.5 76.8h0M134.6 71.4h0M263 99.8h0M426.2 73.5h0M115.6 65.2h0M428.8 94.3h0M125.5 95h0M266 52.1h0M104.5 59.3h0M212.6 45.3h0M432.1 54.7h0M438.8 89.3h0M231.5 70.8h0M102.1 92.9h0M266.6 52.1h0M423.7 73.9h0M218.5 54.6h0M436.2 76.9h0M199.9 29.5h0M207 38.6h0M440.5 72.5h0M216.3 52.3h0M421.2 98.1h0M428.3 98.4h0M393.4 68.7h0M255.1 81.2h0M294.8 88.5h0M423.7 77.5h0M102.1 64.7h0M270.5 55.7h0M100 98.1h0M385.1 64.9h0M435.2 73.9h0M262.2 70.1h0M405.8 75.5h0M283.8 77.8h0M429.9 48.6h0M208.5 41.7h0M260.7 77.5h0M228.4 67.5h0M429 54.7h0M417.2 76.8h0M437.9 87.6h0M282.5 73.3h0M114.8 76.8h0M269.6 54.4h0M132.2 84.5h0M380.9 52.1h0M226 63.9h0M422.8 80.5h0M127.2 82.3h0M428 62h0M272 72h0M428.1 66.6h0M109.5 52h0M251.5 79.6h0M416.3 81.7h0M221.4 60.1h0M373.1 42.3h0M271.8 77.2h0M216.1 50h0M215.1 47.9h0M428.3 69h0M284.4 68.6h0M277.2 65.9h0M216.7 48.5h0M96.5 73.6h0M131.5 87.4h0M372.1 44.7h0M127.7 90.4h0M279 86.1h0M385 60.6h0M419 79.8h0M259.8 80.5h0M114.7 69h0M248.9 80.3h0M287.7 71.3h0M406.2 78.8h0M212 47.7h0M272.5 63.4h0M272.3 49.2h0M262.4 72.9h0M271.6 82h0M422.2 81h0M404.7 74.4h0M438.9 80.5h0M106.8 79.9h0M419.7 79.9h0M209 41.8h0M260.6 76.1h0M426.2 88.1h0M105.3 63.7h0M279.2 74.8h0M432.3 72.1h0M277.2 74.1h0M124.4 68.6h0M427.9 91.5h0M256.3 79.9h0M104.2 77h0M267.1 53.3h0M388.6 62.4h0M373.7 41.6h0M129.1 85.1h0M261.5 74.3h0M100.1 82.6h0M435.3 49.2h0M281 82.9h0M275.9 80.5h0M96.8 79.4h0M117.5 68.9h0M117.5 64.2h0M217.8 53.3h0M253.8 77.5h0M262.4 63.4h0M100.5 72.8h0M113.5 62.1h0M107.5 53.8h0M431.2 61.7h0M113.8 58.8h0M425.4 63.4h0M427.1 79.7h0M95.9 102.4h0M449.4 75h0M293.2 85.5h0M438.8 75.8h0M226.3 64.7h0M432.2 104.3h0M117.4 72.9h0M109.3 61.1h0M273.2 76.9h0M433.5 68.5h0M117.7 83.9h0M119.7 68.5h0M93.9 99.2h0M94.3 85.4h0M425.8 97.3h0M431 50.2h0M449.3 80.6h0M100.7 68h0M427.5 62.8h0M113.8 71.8h0M430.7 52.6h0M259.5 96.6h0M258.8 101.3h0M391.5 65.5h0M278.3 87.4h0M426.1 68.4h0M111.8 52.7h0M428.3 52h0M268.7 49.7h0M257.2 92.5h0M375.2 44.5h0M372.9 45.1h0M108.2 55.2h0M443.4 66.1h0M401.8 72.8h0M125.3 76h0M279.8 71.7h0M258.2 103.3h0M112 58.6h0M279.4 89.6h0M260.8 58h0M402.7 78.1h0M94.2 97.2h0M424.6 85.3h0M107 53.4h0M215.5 47.3h0M265.1 67.9h0M421.9 97.9h0M379.1 50h0M200.3 26.6h0M258.5 103.4h0M99.4 100.8h0M261.9 57.4h0M215 47.7h0M118.1 68.7h0M276.2 68.2h0M375.1 43.6h0M438.6 66.6h0M425.7 69.7h0M243.2 78.8h0M107.7 59.6h0M260 95.2h0M447.2 78.3h0M265.7 48.6h0M222.1 64.9h0M257.3 79.2h0M136.3 84h0M429.8 79.9h0M124.1 93.1h0M231.3 71.1h0M431.9 69.5h0M455.3 85.3h0M132.7 86.3h0M116.7 74.3h0M426.1 67h0M434 72.7h0M448.6 74.5h0M271.3 47.8h0M419.2 95h0M287.7 67.9h0M256.3 99.1h0M433.5 76.3h0M110.4 64h0M385.4 65.6h0M248.7 80.3h0M122.9 69.4h0M259.2 107.9h0M414.8 74.1h0M425.6 72.4h0M98.2 103h0M454 83.5h0M217.9 51.8h0M261.5 67h0M115.8 63.7h0M98.6 79.2h0" stroke="#bdbdbd" stroke-width="1.6" stroke-linecap="round" fill="none"/>
<path d="M435.5 76.7h0M428.4 60.5h0M435 67.8h0M431.2 66.7h0M368.3 35.4h0M415.3 86.1h0M420.7 72.8h0M249.5 82.6h0M260.5 76.6h0M98.6 87.6h0M394.7 66.7h0M244.5 80.2h0M100.9 101.8h0M119.4 82.6h0M281.3 81.8h0M268 71.5h0M263.9 63.3h0M431.7 50.3h0M449.5 89.6h0M283.4 73.7h0M269.2 104.3h0M280.4 75.4h0M116.9 75.9h0M265.7 70.6h0M433.5 53.1h0M286.9 79.6h0M381.1 58.1h0M423.2 88.4h0M426.4 69.2h0M406.9 75.9h0M110.8 76.3h0M270.1 53h0M254.6 83.9h0M136.2 84.2h0M289.1 85.1h0M295.9 89.9h0M373.9 46.7h0M107.3 80h0M382.7 58h0M281.7 82.6h0M383.3 55.9h0M420.4 79.1h0M420.4 88.5h0M271.4 61.1h0M397.3 77.4h0M248.6 81.3h0M208.1 40h0M106.8 61.5h0M421.8 95.9h0M287.8 78.5h0M296.5 80.3h0M283.3 78.8h0M264.9 71.7h0M257.5 79.9h0M275.6 65.2h0M263.2 94.3h0M212.1 43.6h0M432.1 49.3h0M239.6 70.2h0M250 75.7h0M254.7 80h0M122.5 74h0M423.6 88.4h0M416.4 99.8h0M429.9 53.2h0M262.8 97.3h0M107.9 80.2h0M272.5 80.6h0M287.9 101.7h0M441.5 72.7h0M283.6 90.8h0M428.7 89.1h0M284.2 78.3h0M101.1 79h0M375 47.7h0M273.1 61.7h0M402.6 70.2h0M135.4 91.3h0M105.4 92h0M205 34.3h0M423 98.1h0M461.4 93.1h0M422.7 94.4h0M382.6 57.5h0M110.3 95.8h0M112.2 53.7h0M396.6 69.9h0M455.3 93.6h0M428.3 64.1h0M436.8 77.4h0M278.1 78.4h0M248.7 77.8h0M396.6 75.1h0M429.6 50.8h0M108.8 52.1h0M114.1 63.2h0M266.9 51.8h0M427.3 60h0M112.2 73.9h0M115.3 77.9h0M254.8 82.3h0M273.3 77.1h0M266.7 59.8h0M281.9 90.7h0M225.5 63.3h0M374.8 43.7h0M271.6 53.4h0M435.2 53.7h0M424.7 70.5h0M422.3 61.7h0M434.9 75.7h0M264.9 57.9h0M428.2 68.5h0M419.2 105.5h0M267.3 46.2h0M420.9 104h0M273.3 56.2h0M209.8 43.4h0M425.5 88.2h0M121.7 70.8h0M433.4 51.5h0M200.8 28.3h0M407.3 84.1h0M113.1 58.6h0M439.5 78.1h0M406.6 75.7h0M446.9 87.4h0M208 39.2h0M411.9 77.4h0M426.4 87h0M110.4 50.4h0M376.5 48.5h0M106.6 52.2h0M387.4 72h0M287.7 85.4h0M111.5 62.3h0M443.9 76.5h0M244.9 80.2h0M457.9 78h0M266.3 61.7h0M96.7 100.4h0M129.7 84.7h0M407.8 76.6h0M362.9 29.5h0M432.8 52.9h0M108.4 51.9h0M453.1 89.8h0M405.4 73.5h0M384 60.2h0M426.5 62.4h0M222 60.6h0M109.1 59.6h0M230 69.2h0M273.1 55.5h0M415.5 64.4h0M106.5 70.8h0M286.5 89.6h0M433.6 104.1h0M424.6 97.2h0M220.4 58.2h0M106.1 59.6h0M115.7 71.3h0M232 69.9h0M262.7 70.3h0M288.2 78.1h0M384.4 56.6h0M215.3 48.1h0M251.8 77.1h0M135.2 90.3h0M257.3 100.4h0M297.9 85.8h0M437.3 81.2h0M387 63.8h0M97.1 86.4h0M111.5 69.9h0M111.7 65.6h0M274.9 63.5h0M260.2 68.3h0M442.7 63.3h0M376 47.5h0M271.8 52.4h0M272.1 75.3h0M273.8 63.1h0M219.6 57.5h0M209.1 43.7h0M221 60.2h0M130.1 79.7h0M421.5 102.8h0M106.1 69.1h0M422.2 63.9h0M283.9 78.5h0M237.6 79.2h0M285 86.9h0M271.1 80.2h0M429.3 47.3h0M421.9 104.4h0M283.2 81.9h0M425.9 76h0M446.4 91h0M450.2 77.5h0M105.7 70.6h0M132.7 81.5h0M211.8 46.2h0M227.4 67.2h0M253.4 85h0M440 82.1h0M260.1 74.1h0M119.8 71.7h0M428.7 88.3h0M265.3 61.1h0M264.5 67h0M381.3 57.8h0M121.4 80.6h0M275.2 84.6h0M415.1 108.5h0M430.5 71.1h0M369.5 36.4h0M111.9 52h0M111.6 59h0M287.7 74h0M269.4 55.4h0M266.9 69.8h0M100.5 88h0M275 69.3h0M420.3 79.2h0M123.8 77.3h0M219.8 56.4h0M384.2 57.6h0M114.7 72.5h0M423.6 103.4h0M106.6 100.4h0M110.4 65.9h0M110.5 68.5h0M268.2 62.3h0M429 74h0M129.1 74.4h0M267.6 75.9h0M424.7 83.5h0M103.8 69h0M109.9 51.3h0M259.9 83.3h0M451.2 78.1h0M435 72h0M110.6 49.4h0M409.3 69.3h0M422 90.1h0M289.5 83.4h0M113.7 83.6h0M280.5 83.7h0M436.3 83h0M110.4 53.7h0M421.5 81.5h0M112.6 62.9h0M129.6 81.4h0M210.9 44.7h0M110.4 80.2h0M426 94.3h0M394.5 70.8h0M117 63h0M108.4 53.3h0M393 73.4h0M273.6 71.4h0M230.1 66.7h0M102.5 91.9h0M294.6 71.4h0M277.7 74.6h0M108.2 57.9h0M122.5 73.3h0M119.1 74h0M122.4 88.1h0M275.5 57.6h0M230.9 67.8h0M120 71.7h0M286.9 68.6h0M105.3 98.4h0M430.1 54.9h0M384.3 60.7h0M267.3 59.5h0M125.6 74.5h0M404.1 80.3h0M407.4 78.8h0M450.7 85.4h0M424.2 89h0M259.6 81h0M275.5 74.7h0M430.4 56.6h0M279.7 78.9h0M209.5 39.8h0M261.3 90.6h0M261.6 74.8h0M105.6 99.8h0M97 72h0M304.2 88.3h0M421.5 94h0M412.8 80.5h0M270.7 50.9h0M106.7 63.4h0M104.2 78.8h0M112.9 92.4h0M273.6 57.6h0M109.2 51.7h0M373.6 43h0M283.8 78.8h0M418.3 104.4h0M198.1 24.5h0M426.6 50.1h0M112.8 61.8h0M199.5 26.1h0M96.3 88.8h0M430.3 63.5h0M423.4 86.4h0M118.7 67.3h0M263.6 50.1h0M393.2 67.1h0M423.7 77.4h0M99.9 88h0M102.5 62.5h0M419.6 101.7h0M431.5 53.2h0M266.4 48.1h0M253.7 84.8h0M436.9 74.5h0M450.2 88.8h0M119.4 88.6h0M376.4 49.3h0M218.1 56h0M135.3 87.5h0M215.4 48h0M292.7 77.6h0M229.4 69.9h0M103.8 74.4h0M224.9 60.6h0M423.6 76.1h0M123.9 87.4h0M278.5 76.5h0M450.9 101.7h0M281.6 77.4h0M107.6 55.3h0M107.2 49.9h0M111.1 68.9h0M433.8 76.3h0M421.8 74.5h0M101.2 85.5h0M282.8 73.5h0M120.4 66.1h0M110 45.5h0M103.4 60.1h0M109.4 55.4h0M112.8 59.8h0M228.8 70.3h0M113.4 76.4h0M135.2 82.9h0M430.6 73.6h0M393.2 73.2h0M275.8 89.3h0M267.5 49.5h0M377.7 51.2h0M128.1 75.8h0M122.7 77.4h0M444.3 81.8h0M113.9 79.9h0M110.8 67.6h0M252 78.7h0M266.4 86.3h0M216.6 51h0M269.1 68.5h0M109.8 64.8h0M411.7 77.8h0M276.1 69.9h0M276 66.9h0M112.5 76.7h0M426.9 63.4h0M107 61.6h0M105.4 94.2h0M419.9 105.6h0M99.8 91h0M426.7 96.1h0M429.3 61.7h0M392.8 69.7h0M272.5 72.3h0M118.8 83.6h0M253.8 84.3h0M420.4 88.9h0M127.5 76.4h0M431.5 60h0M254.7 96.5h0M429.7 90.2h0M97.4 100.3h0M411.8 75.6h0M270.3 81.6h0M269.4 53h0M110.4 56.3h0M288.1 75.8h0M366.1 29.7h0M113.9 77.9h0M380.9 51.8h0M283.9 74.4h0M126.3 82.9h0M442.5 92.4h0M105.3 69h0M255.3 79.8h0M210.1 42.3h0M394.5 70.6h0M266.4 53.7h0M266.3 47.3h0M221.4 57.5h0M107.8 57.5h0M405.3 70.1h0M269.6 84.9h0M440.3 82.2h0M373.5 44.4h0M441.5 73h0M388.3 63.9h0M127.8 74.4h0M249.1 78.4h0M379.3 48.7h0M116 65.9h0M110.6 69.3h0M373.6 45.3h0M373.4 46.1h0M120.5 83.7h0M111.5 86.7h0M286.4 75h0M389.5 63.6h0M117.9 75.2h0M274.6 70h0M102.4 65.7h0M134.8 88.5h0M282.2 79.3h0M89.9 100.4h0M416.9 99.2h0M238 80.2h0M432.6 84.9h0M262.5 63.9h0M101.6 97.2h0M217.7 55.4h0M427.7 61.9h0M110.7 54.4h0M426.8 75.1h0M213 47.5h0M380.7 52.9h0M94.7 103.8h0M433.1 73.5h0M115.6 71h0M221.3 60.7h0M257.9 104h0M272.7 76.9h0M432 81.7h0M263.1 67h0M431.6 48.8h0M201.8 31.1h0M109.8 58.3h0M106.2 63.2h0M420.1 89.4h0M428.1 70.6h0M430.9 66.9h0M99.3 61.7h0M247.2 75.5h0M418.7 105.1h0M274.6 65h0M262 70.5h0M443.9 68h0M427.9 78.2h0M435.7 71h0M219.3 56.5h0M105.1 78.1h0M257.9 77h0M424.6 70.9h0M117.7 70.9h0M210.5 44.4h0M436.3 77.1h0M108.4 66.4h0M111.1 55h0M109.8 89.2h0M422.4 90.9h0M440.7 83.8h0M230.4 71.9h0M386.2 61.1h0M428.4 94.2h0M220.3 58.6h0M235.4 69.6h0M98.8 95.9h0M284.7 85.8h0M447.5 81.1h0M111.9 74.5h0M294.4 84.2h0M94 94.1h0M109.1 66.6h0M432.1 80.7h0M107.3 72.7h0M269.4 51.1h0M370.7 38.9h0M130.7 84.9h0M248.9 77.4h0M102.6 72h0M119.6 63h0M230.4 68.7h0M396.6 72.8h0M433.4 80.2h0M262.4 75.6h0M394.3 79.2h0M431.4 51.3h0M274.9 80.9h0M429.3 68h0M267.7 54.7h0M377.3 47.1h0M218 52.9h0M275.3 77.9h0M275.6 71h0M360.1 24.1h0M254.2 76.8h0M97.4 88.9h0M116.5 78.1h0M98.2 103.3h0M118.5 63h0M416.8 77.5h0M426.9 58.9h0M286.2 82.7h0M108.3 57.5h0M112.1 57h0M380.9 51.2h0M270.7 54.4h0M218.9 55.3h0M263.7 62.3h0M263 97.7h0M207.6 38.6h0M295 92.4h0M272.1 59h0M120.3 68.9h0M110.6 81.8h0M365.2 32.2h0M106.9 51.8h0M109.9 74.8h0M431.2 69.5h0M426.9 53.6h0M115.7 70.9h0M420.7 79.4h0M438.3 82h0M441 76.5h0M214.1 50.7h0M99.5 101.9h0M268.3 48.5h0M136.3 86.9h0M422.8 91h0M430.7 59.6h0M278.4 73.3h0M426 70.3h0M212.2 44.5h0M278.4 73.3h0M250 74.8h0M95.5 107.3h0M420.7 103.7h0M440.7 74.6h0M436.6 71.4h0M423.1 81.4h0M105.8 94.3h0M213.7 45h0M258.5 76.2h0M440.1 82.3h0M263.5 58.2h0M270.2 83.2h0M116.5 79.2h0M430.6 53.6h0M419.5 73.6h0M107.7 52.6h0M266.8 61.2h0M265.8 56.8h0M273.2 56.3h0M450.1 90.9h0M259.6 75.7h0M274.8 76.8h0M370 38.6h0M107.6 76.4h0M95.9 95.5h0M224.4 63.6h0M423.7 68h0M279.5 92.4h0M420.2 81.5h0M109.7 70.2h0M254.4 81.4h0M371 43.6h0M218.4 52.1h0M264.1 79.7h0M371.9 43.9h0M127.4 81h0M402.2 76.7h0M427.1 64h0M132.8 92h0M443.5 79.9h0M100.3 84h0M224 63.8h0M261.6 70.9h0M289.7 84.7h0M220.7 55.4h0M428.8 46.5h0M277.7 70.9h0M123.5 81.4h0M425.6 71.7h0M435.7 76.9h0M270.5 76.3h0M380.3 54.5h0M427.9 71.7h0M448 86.9h0M97.4 104.2h0M239.2 76.7h0M272.6 54.6h0M284.3 73.3h0M111.8 77.2h0M263.5 69h0M391.2 64.8h0M437.7 72.5h0M429.9 59.1h0M295.9 84.4h0M288.4 77h0M436.9 79.9h0M108.9 69.5h0M431.4 66.4h0M290 93.9h0M265.3 52h0M267 56.5h0M399.1 73.2h0M114.1 75h0M221.3 56.9h0M239.5 75.5h0M422 88.4h0M116.4 65.5h0M238.6 75.4h0M421.9 76.5h0M433.3 47.2h0M213.9 49.4h0M124.2 88.9h0M270.8 76.3h0M112.7 61.2h0M374 42.7h0M212.2 47.9h0M126.1 90.5h0M213.7 47.8h0M266.4 52.4h0M364.8 31.1h0M414.2 94.3h0M117.7 96.1h0M441.1 77.7h0M206.5 40.8h0M119.5 92.4h0M287.5 76.4h0M422.4 96.5h0M424 70.8h0M277.2 64.7h0M262.1 92.9h0M263.4 69.4h0M262.5 72.3h0M279.4 88.6h0M272.9 92.4h0M432.1 59.6h0M426.4 62.7h0M384.4 57.5h0M279.8 72.6h0M433.2 48.3h0M103.7 96.1h0M228.9 64.1h0M447 83.5h0M120.6 78.8h0M429.6 100.4h0M399.1 73.5h0M267.9 50h0M127.7 74h0M96.2 95h0M228.5 65.5h0M266.3 49h0M265.4 103.9h0M120.5 79.9h0M377.1 50.7h0M440.7 96.1h0M403.3 70h0M213.9 47h0M240.6 76.1h0M424.8 76.4h0M234.4 73.9h0M423.8 58h0M419.5 91h0M249.1 81.5h0M426.3 97.7h0M459.3 76.5h0M431.4 50.6h0M430.7 76h0M383.3 58.6h0M104 75.9h0M425.4 76h0M424.6 73.1h0M203.1 31.5h0M443.5 83.7h0M270.1 50.9h0M452.5 83.4h0M113.9 70.8h0M266.7 67.6h0M95.1 66.6h0M391.9 64.1h0M295.2 81.7h0M272.4 71.8h0M99.4 84h0M422.4 84h0M429 52.1h0M208.1 39.3h0M385.5 65.1h0M103.9 98.4h0M433.1 50.9h0M289.1 74.4h0M433.8 67.6h0M99.8 69.8h0M239.2 76.7h0M253 86.1h0M281.3 74.5h0M115.6 66.6h0M404.3 71.2h0M427.6 52.1h0M275.2 67h0M123.8 77.2h0M215.4 47.6h0M100.4 86h0M402.8 77.6h0M114.1 72.2h0M433.3 57.4h0M264.3 60h0M127.7 67.9h0M276.9 69.3h0M116.9 68.6h0M212.9 45.3h0M426.7 89.6h0M245.8 82h0M451.9 87.3h0M103.8 65.4h0M108.3 59.5h0M421.7 80.6h0M427.4 50.7h0M374.8 44.7h0" stroke="#cdcdcd" stroke-width="1.6" stroke-linecap="round" fill="none"/>
<path d="M416.4 85h0M99.3 94.5h0M275.1 72.3h0M214.4 49.5h0M267.3 56.8h0M423.5 69h0M267.2 77.5h0M102.1 77h0M455.7 77.6h0M209.6 42h0M111.4 61.5h0M207.7 38.9h0M431.2 73.1h0M252.4 82.2h0M427 68h0M121.3 82h0M97.2 93.4h0M430 53.4h0M431.3 77.2h0M416 81.7h0M412.9 100.4h0M420.3 56.6h0M107.6 61.7h0M208 43.6h0M427.8 61h0M271.6 59h0M277.9 75.2h0M211.4 45.3h0M275.4 59h0M383.7 55.4h0M451.7 89.3h0M401.6 75.4h0M284.1 86.4h0M106.5 76.2h0M97.4 102.1h0M90.7 103.8h0M286 75.9h0M402 77.4h0M267.7 55.8h0M424.1 79h0M265.7 51.7h0M378 47.7h0M296.3 76.5h0M236.1 73.2h0M97.2 77.9h0M232.5 69.9h0M447.2 88.9h0M267.8 47h0M124.7 85.8h0M239 71.9h0M127.3 87.6h0M375.2 47.7h0M115.6 62.5h0M433.3 55.3h0M398.8 72.1h0M114.6 60.9h0M261 75.3h0M218.3 57.8h0M275.1 77.1h0M114.1 59.1h0M432.2 51.7h0M359.7 23.6h0M110.2 56.1h0M217.3 53.7h0M105.4 103.9h0M291 83.5h0M236.1 73.5h0M447.3 80.4h0M293.1 82.7h0M111.5 65h0M95.8 99h0M402.2 76.7h0M420 106.1h0M429.1 69.1h0M267.5 50.6h0M119.6 78.7h0M241.9 69.3h0M442.2 81.5h0M292.3 85.3h0M213.5 48.5h0M436.7 83.6h0M426.8 74.4h0M211.2 41.1h0M108.2 61.7h0M433.7 48.6h0M423.1 82.6h0M433.9 82.7h0M431.2 50.1h0M107.1 54.9h0M222.7 61.6h0M434.1 73.3h0M122.2 79.3h0M405.6 78.6h0M263.7 61.7h0M425.2 71.2h0M407.6 85.1h0M276.9 75.9h0M104.4 95.2h0M107.6 75.9h0M217.2 53.2h0M261.8 76.4h0M430.2 55.4h0M423.8 85.1h0M424.9 67.8h0M384.4 60.1h0M120.1 69.1h0M267 55.1h0M260.3 100.1h0M113 61.3h0M433.4 56.3h0M414.4 71.2h0M102 88.1h0M270.7 68h0M272.9 51.3h0M269.3 52.1h0M265.5 68.1h0M431.1 46.9h0M419.5 79.2h0M413.8 83.1h0M209.1 44.7h0M421.3 89.8h0M103.9 53.6h0M98.9 88.2h0M437.8 76.8h0M111.5 64.6h0M114.2 88h0M236.3 74.3h0M274.4 75.3h0M96 97.1h0M106.9 77.4h0M111.7 72.2h0M400.2 68.2h0M97.5 94.1h0M290.6 81.6h0M124.8 73.6h0M253.4 77.5h0M424.4 72.2h0M431.5 59h0M101.2 89.5h0M431 50.2h0M285.6 74.5h0M219.6 55.2h0M274.1 63.2h0M250.7 103.8h0M214.7 51.2h0M217.2 52.3h0M390.1 64.4h0M201.2 26.6h0M281.7 78h0M121.8 73.2h0M404.9 69.3h0M290.7 84.9h0M213.4 49.3h0M211.7 43.6h0M423.1 99.6h0M98 104.3h0M264.9 73.1h0M210.9 42.2h0M450.7 74h0M417.7 103.8h0M418.1 88.9h0M274.7 64.5h0M369.5 40.8h0M108 71.5h0M422.7 92.5h0M114.9 58.6h0M250.8 83.1h0M111.9 59.8h0M114.4 75.3h0M398.5 75.1h0M421.4 91.3h0M113.9 84.8h0M405 76.2h0M412.1 78.4h0M419.7 100h0M271.5 69.9h0M276 66.9h0M282.8 83h0M107.5 50.1h0M270.5 68.5h0M298.2 87.1h0M269.7 70.2h0M103 94.3h0M92.1 108.5h0M263.8 69h0M120.1 65.7h0M423 78.5h0M118.3 69.8h0M122.4 74h0M261.7 70.5h0M263 70.3h0M127.7 85.4h0M248.5 74.8h0M260.9 74.5h0M441 78.4h0M119.1 78h0M97.1 105.9h0M279.6 70.7h0M389.4 67.6h0M99.4 90.9h0M438.6 81.8h0M397.9 80.7h0M392.6 65.1h0M224.7 65.9h0M130.5 78.8h0M255.9 102.4h0M242.2 81.6h0M272.2 73.9h0M426.5 69h0M255.9 95.5h0M407.9 80.2h0M280.6 74.1h0M217.9 52.1h0M264.3 55.2h0M126.2 74.9h0M297.1 83.8h0M115.7 66.5h0M112.4 69.4h0M260.1 81.4h0M419.6 79.4h0M278.5 71.8h0M111.9 75.7h0M267.2 55.4h0M278 68.9h0M110 52.2h0M383.9 59.3h0M115 65.8h0M375.1 42.9h0M267.2 51.1h0M267.9 66.9h0M109.7 57.3h0M430.9 50.7h0M378.4 48h0M409.7 82.7h0M95.8 103.3h0M372.7 38.2h0M100.2 88.4h0M100.8 85.1h0M430.7 54.7h0M108.9 52h0M375.9 45.8h0M263.1 68.4h0M208.9 43.9h0M103.4 87h0M393.6 68.6h0M268.1 49.7h0M373.5 43.9h0M425.3 95h0M407.3 76h0M419.2 102.6h0M211 42.9h0M231.3 79.2h0M268.3 58.5h0M119.7 78.9h0M109.5 62.9h0M232.2 68.2h0M226.3 66h0M277.4 72.9h0M136.9 84.8h0M425.6 71h0M429.7 67.6h0M262.8 71.1h0M373.1 43.9h0M115.9 76.2h0M445.8 88.5h0M443 82.1h0M269.3 55.5h0M432.6 61.7h0M263.5 53.7h0M382.6 58.2h0M272.4 69.4h0M393 69.2h0M423.6 64.8h0M258.5 102.8h0M254.7 92h0M266.5 70.8h0M101.7 64.3h0M224 63.6h0M432.1 66.6h0M271 47.8h0M439 79.3h0M272 58.6h0M284.5 81.1h0M380.8 52.7h0M96.7 100h0M269.6 59.7h0M224.9 60h0M440.3 87h0M225.5 60.6h0M107.4 56.6h0M404.3 77.3h0M212.7 47.1h0M114.7 64.5h0M236 75.7h0M432.4 59.8h0M448.5 95h0M399.3 74.3h0M117.2 74.7h0M294.6 84.1h0M256.5 79.2h0M271.7 65.6h0M379.3 52.3h0M240.7 78.9h0M425.2 75.6h0M266.4 54h0M428.3 63.1h0M266.6 100.4h0M426.3 63h0M282.5 78.7h0M261.2 85.5h0M422.9 83.3h0M109.9 68.5h0M262.9 76h0M260.9 101.8h0M120.2 76.3h0M409.9 77.2h0M258.2 98.1h0M372.2 43.4h0M434.7 72.2h0M107.9 58.3h0M114.9 65.9h0M103 99.8h0M126.2 82.7h0M424.8 73.8h0M109.3 72.1h0M430.4 68h0M278.3 69.8h0M264.5 62.8h0M120.4 75.4h0M232.8 74.7h0M265.7 62h0M134.6 84.1h0M423.7 102.4h0M289 78.7h0M440.2 74.1h0M424.6 72.5h0M427.9 66.5h0M427.7 61.6h0M375.2 47.9h0M117.6 65.1h0M369.3 33.9h0M272.5 76.7h0M240.3 73h0M102.2 74.7h0M118.5 72.7h0M256 79.8h0M417.8 92.7h0M243.6 75.7h0M114.7 63.4h0M104 82.1h0M103.1 89.8h0M265.1 66.6h0M259.4 77.7h0M428 58.8h0M210.1 43.9h0M433.5 45.9h0M115.6 81.2h0M431.3 48.5h0M262.7 69.7h0M112.5 80.6h0M109.4 53h0M263.1 71.9h0M222.4 65.6h0M443.9 89.2h0M109.4 59.8h0M440.2 74.7h0M396.3 73.1h0M107.2 53.7h0M382.2 56.1h0M288.7 89.3h0M115.7 73.2h0M279.7 68.5h0M106.1 56.7h0M287.8 74.4h0M279.6 78.7h0M259 88.4h0M101.6 72.5h0M256.6 79.4h0M110.2 82.7h0M420.6 103.5h0M220.9 59.3h0M102.8 97.3h0M438.3 77.9h0M206.5 36.4h0M287.7 90.4h0M436.9 84.8h0M414.2 86.7h0M281.4 66.8h0M98.1 94.2h0M420.3 81.2h0M274.7 63.4h0M452 85.8h0M268.2 55.2h0M449.7 84h0M369.9 35.8h0M216.2 52.4h0M418.8 99h0M104.3 96.1h0M103.8 97h0M378.3 48.1h0M439.5 79.2h0M107.9 47.6h0M108.7 75.4h0M96 101.3h0M269.5 52h0M447.3 73.3h0M117.4 73.4h0M289.6 81.4h0M97.5 98.6h0M432.7 46.2h0M103 72.4h0M124.2 78.3h0M107.2 47.3h0M264.4 95.2h0M234.9 80.7h0M262.5 71.7h0M108.3 58.5h0M105.6 99.1h0M427.5 67h0M256 94.2h0M282.8 88.5h0M404.2 81.2h0M424.5 71.7h0M271.4 61.5h0M98.5 102.8h0M274.7 61.5h0M456.9 82.8h0M278.9 83h0M432.7 47h0M276 79.3h0M104.7 101.9h0M238.8 77.7h0M280.3 68.9h0M402.5 75.5h0M271 72.7h0M100.7 83.9h0M268 50.2h0M269.8 89.2h0M264.7 61.9h0M268.9 68.6h0M118 78.4h0M269.1 52.4h0M98.8 101.3h0M101.2 62.8h0M363.3 26.6h0M422.4 77.7h0M110 53.6h0M107.5 54.6h0M224.9 66.6h0M92.5 64.4h0M269.8 58.3h0M270.4 65.9h0M125.9 78.9h0M95.1 88.9h0M125.5 83.7h0M241.2 81.2h0M112 71.5h0M444 82.9h0M109.1 52.4h0M439 66.9h0M197.1 24.1h0M378.5 53.6h0M380.2 52.3h0M116.2 73.4h0M285.9 78.9h0M260.1 78.3h0M396.3 79.6h0M114.8 49.7h0M430.8 66.9h0M267.3 80h0M108.5 51h0M218.3 59.2h0M109.8 61h0M274.1 59.1h0M442 86.1h0M261.7 95.2h0M426 67.1h0M430.3 46.2h0M291.5 87.4h0M110.4 59.8h0M276.1 64.2h0M275.8 72.3h0M212.4 46.6h0M235.2 75.9h0M115.8 75.8h0M441.5 90.6h0M97.9 104h0M375.4 46.6h0M416.6 79.3h0M418.5 63.3h0M226.5 63.6h0M265.3 69h0M383.1 58.4h0M461.6 95.8h0M284.1 93.1h0M110.4 49.6h0M435.2 73.9h0M433.6 49.4h0M223.2 61.1h0M430.2 51.1h0M270.4 53.7h0M388.5 60.6h0M283 83.7h0M273.6 66h0M112.8 58.1h0M429.7 57.9h0M253.4 99.8h0M103.5 93.9h0M202.2 32.2h0M374.9 49h0M419.8 89.5h0M430.2 77.5h0M370.6 38.6h0M124.8 73.1h0M264.8 61h0M97 106.1h0M97.7 61.9h0M112.4 72.5h0M278.5 67.3h0M417.3 85.4h0M250 83.6h0M419.3 105.2h0M128.5 89.3h0M426.3 91.4h0M246.7 82.7h0M268.2 49h0M381 52.9h0M273.9 70.8h0M118.4 73.3h0M116.2 79.5h0M115.6 68.8h0M419.9 100.5h0M267.7 76h0M273.2 57.1h0M136.3 76.5h0M205.3 35.4h0M257.7 103.7h0M101.5 67h0M100.6 88.4h0M110.2 83.2h0M420.3 88.6h0M272.4 59.6h0M226.9 67.8h0M416 86.1h0M215.6 51.3h0M99.9 70h0M99.7 78.1h0M428.1 59.8h0M270.1 73.5h0M263.8 63.8h0M429.4 78.5h0M226 64.7h0M269.8 50.6h0M437.2 88h0M443.3 78.6h0M236.7 75.3h0M218.1 58.1h0M265.7 99.3h0M446.8 78.8h0M421.4 88.7h0M430.2 92.7h0M386.5 60.2h0M433.6 81h0M99.6 91.3h0M266 74h0M110.6 81h0M428.7 62h0M267.4 68h0M438.7 70.9h0M285.3 76h0M435.3 67.9h0M124.5 81.1h0M447.1 93.1h0M379.9 54.2h0M438.6 78.9h0M107.5 60.2h0M276.9 68.4h0M110.3 47.2h0M271.3 73h0M455.7 92.4h0M415.8 102.3h0M425.5 91.9h0M429.2 77.8h0M275.6 78.9h0M217.4 52.5h0M214.5 51.1h0M427 67.8h0M115.6 81.8h0M421.1 104h0M442.4 82.6h0M105.7 89.1h0M275 64.9h0M96.9 100.5h0M130.1 89.8h0M277.3 82.2h0M277.7 96.1h0M265.9 58.7h0M107.1 67.7h0M129 88.3h0M108.6 56.4h0M273.9 74.5h0M276.5 78.1h0M109.3 51.2h0M115.1 47.6h0M290.1 79.7h0M97.2 96.6h0M277.5 70h0M391.5 70.9h0M267.9 47.6h0M276.5 68.4h0M269.5 51.8h0M296.3 86.9h0M261.6 72.8h0M265.1 95.5h0M200.6 27.6h0M112.8 60h0M279.8 81.8h0M210.6 45.3h0M430.1 53.3h0M280.1 65.7h0M127.7 80.9h0M263.1 62.3h0M283.8 75.3h0M103.4 69.8h0M235.5 75.1h0M115.5 57.6h0M124.1 86.4h0M444.9 90.7h0M431.8 49.9h0M122.4 84.2h0M106.8 55.7h0M283.2 77.7h0M442.8 72.6h0M263.1 65.6h0M428.6 99.1h0M429.7 59.9h0M258.8 74.5h0M125 86.9h0M387.4 63.6h0M399.8 77.7h0M411.5 74.8h0M439.7 74.3h0M118.9 83h0M111 76.5h0M107.8 58.2h0M416.9 103.4h0M439.5 84.7h0M271.3 66.3h0M274.9 87.6h0M382 58.7h0M123.8 77.8h0M398.4 69.6h0M118.4 74.1h0M418.7 87.8h0M98.2 94.6h0M430.1 67.7h0M271.2 81.4h0M241.3 71.2h0M260.8 65.1h0M263.4 69.2h0M269.3 72.1h0M274.6 60.9h0M268.5 51h0M255.2 76.8h0M121.8 78.2h0M425.1 64.7h0M454.5 87.4h0M109.7 47h0M264.6 58.8h0M431.1 99.2h0M439.2 71.4h0M238.8 72.8h0M413 75.7h0M436.4 76.4h0M109.6 54.4h0M442.6 88.5h0M432.9 74.8h0M95.2 100h0M270.1 48.6h0M433.4 50.4h0M209.9 45.1h0M280.9 68h0M428.3 61.1h0M388.5 63.3h0M450.7 71.3h0M420.5 93.1h0M107 67.3h0M112.1 75.3h0M419 97.1h0M104.4 78.2h0M121.3 74.5h0M457.4 84.2h0M111.9 58h0M420.5 94.1h0M196.7 23.6h0M96.4 103.4h0M99.5 96.6h0M263.9 98.4h0M113.4 80.5h0M429 69.9h0M216.6 52.5h0M425.1 77h0M125 76.7h0M269.1 61.3h0M103.3 97.7h0M128.2 78.1h0M420.5 79.9h0M438 69.3h0M238.6 67.4h0M286.3 80.6h0M257.7 79.4h0M123 83.7h0M97.6 103.5h0M268.5 54.9h0M430.8 49.7h0M416.4 77.5h0M457.8 88.5h0M114.3 73.2h0M443.6 74.1h0M271.3 51.8h0M255.1 78.7h0M451.8 87.1h0M432.6 79.7h0M281.7 70.8h0M428.5 66.8h0M115.1 74.4h0M378.4 47.6h0M267.6 76.4h0M263.2 88.1h0M428.7 99.3h0M434.8 74.6h0M374.4 45.3h0M97.2 81.5h0M283.1 77.2h0M103.5 62.4h0M295.3 87.5h0M119.2 81.5h0M267.3 63.5h0M122.3 72.3h0M428.1 95.5h0M280 71.7h0M110.5 76.3h0M274.9 65.9h0M115.2 67h0M266.2 54.6h0M428.7 76.4h0M426 99.8h0M379.5 50.8h0M382.8 56.4h0M110.9 82.7h0M227.5 67h0M433.6 69.3h0M267.5 71.1h0" stroke="#c4c4c4" stroke-width="1.6" stroke-linecap="round" fill="none"/>
<path d="M105.3 61.1h0M104.7 61.9h0M103.9 63.3h0M429.9 51.8h0" stroke="#4c36a8" stroke-width="1.6" stroke-linecap="round" fill="none"/>
<path d="M81.3 77.3h0" stroke="#8f1787" stroke-width="1.6" stroke-linecap="round" fill="none"/>
<path d="M109.4 56.1h0M107.2 54.8h0" stroke="#4b37a9" stroke-width="1.6" stroke-linecap="round" fill="none"/>
<path d="M50.1 42.3h0M55.5 47.3h0M52.1 42.9h0M49.5 39.8h0" stroke="#db2730" stroke-width="1.6" stroke-linecap="round" fill="none"/>
<path d="M106.6 50.8h0" stroke="#4533a4" stroke-width="1.6" stroke-linecap="round" fill="none"/>
<path d="M58.5 54.6h0" stroke="#c6121c" stroke-width="1.6" stroke-linecap="round" fill="none"/>
<path d="M94.4 81.4h0" stroke="#7c1e9a" stroke-width="1.6" stroke-linecap="round" fill="none"/>
<path d="M88.7 80.3h0" stroke="#801795" stroke-width="1.6" stroke-linecap="round" fill="none"/>
<path d="M99.6 75.7h0" stroke="#7b33ab" stroke-width="1.6" stroke-linecap="round" fill="none"/>
<path d="M55.4 48h0M52.4 46.6h0M50.5 43.9h0M52.7 47.5h0M51.5 43.6h0M53.5 48.5h0M54.7 51.2h0M54.3 46.6h0" stroke="#c9151e" stroke-width="1.6" stroke-linecap="round" fill="none"/>
<path d="M108.5 59h0M103.5 58.2h0M106.2 54.6h0" stroke="#4733a5" stroke-width="1.6" stroke-linecap="round" fill="none"/>
<path d="M41.2 26.6h0M36.7 23.6h0" stroke="#d62228" stroke-width="1.6" stroke-linecap="round" fill="none"/>
<path d="M99.7 77.7h0M102.4 75.6h0" stroke="#6b239b" stroke-width="1.6" stroke-linecap="round" fill="none"/>
<path d="M49.2 43.4h0M53.7 51.5h0M53.6 50.7h0M55.3 48.1h0M50.5 44.4h0M50.9 44.7h0" stroke="#d8242d" stroke-width="1.6" stroke-linecap="round" fill="none"/>
<path d="M62.4 65.6h0M65.8 63.2h0M62.7 60.2h0M64.9 60.6h0" stroke="#d6222e" stroke-width="1.6" stroke-linecap="round" fill="none"/>
<path d="M67.4 67.2h0M66.3 66h0" stroke="#d11d29" stroke-width="1.6" stroke-linecap="round" fill="none"/>
<path d="M104 57.7h0M104.9 57.9h0" stroke="#402c9e" stroke-width="1.6" stroke-linecap="round" fill="none"/>
<path d="M55.6 49.4h0M48.1 39.3h0M49.7 38.2h0M54.6 47h0M52.9 45.8h0" stroke="#cc1821" stroke-width="1.6" stroke-linecap="round" fill="none"/>
<path d="M53.7 47.8h0M51.8 44.7h0M53.5 45.9h0M51.4 45.3h0" stroke="#cd1922" stroke-width="1.6" stroke-linecap="round" fill="none"/>
<path d="M55 47.7h0M52.1 43.6h0M47.7 38.9h0" stroke="#d01c25" stroke-width="1.6" stroke-linecap="round" fill="none"/>
<path d="M103.4 69.4h0M102.7 69.7h0M103.7 73.1h0M102.5 71.7h0M102.8 71.1h0" stroke="#462398" stroke-width="1.6" stroke-linecap="round" fill="none"/>
<path d="M42.2 32.2h0M41.1 33.6h0" stroke="#da262d" stroke-width="1.6" stroke-linecap="round" fill="none"/>
<path d="M64.7 65.9h0" stroke="#ce1a26" stroke-width="1.6" stroke-linecap="round" fill="none"/>
<path d="M60.5 56.9h0M60.4 58.2h0M58.9 55.3h0" stroke="#d8242f" stroke-width="1.6" stroke-linecap="round" fill="none"/>
<path d="M91.8 77.1h0M90.5 86.1h0" stroke="#8426a2" stroke-width="1.6" stroke-linecap="round" fill="none"/>
<path d="M104.5 62.8h0M104.7 60.1h0M108.7 61.7h0" stroke="#3b2597" stroke-width="1.6" stroke-linecap="round" fill="none"/>
<path d="M46.5 36.4h0" stroke="#d31f27" stroke-width="1.6" stroke-linecap="round" fill="none"/>
<path d="M104.7 61.6h0M105.1 59.8h0" stroke="#3e289a" stroke-width="1.6" stroke-linecap="round" fill="none"/>
<path d="M101.9 57.4h0" stroke="#4630a2" stroke-width="1.6" stroke-linecap="round" fill="none"/>
<path d="M105.8 56.8h0M109.1 54.7h0M269 49.4h0M268.1 48.3h0" stroke="#422ea0" stroke-width="1.6" stroke-linecap="round" fill="none"/>
<path d="M101.3 61.4h0M103.9 63.4h0M108.2 62.3h0M103.1 62.3h0M103.7 61.7h0" stroke="#372193" stroke-width="1.6" stroke-linecap="round" fill="none"/>
<path d="M106.9 48.6h0M107.5 50.6h0M109.4 51.1h0" stroke="#3b299a" stroke-width="1.6" stroke-linecap="round" fill="none"/>
<path d="M66 64.7h0M63 61.8h0M63.2 65h0M65.5 63.3h0" stroke="#ca1622" stroke-width="1.6" stroke-linecap="round" fill="none"/>
<path d="M61.3 56.9h0M59.6 58.2h0M59.3 56.5h0" stroke="#d5212c" stroke-width="1.6" stroke-linecap="round" fill="none"/>
<path d="M78 80.2h0M82.3 70.1h0M79 71.9h0" stroke="#ab2284" stroke-width="1.6" stroke-linecap="round" fill="none"/>
<path d="M45 34.3h0" stroke="#ce1a22" stroke-width="1.6" stroke-linecap="round" fill="none"/>
<path d="M48 39.2h0M53.7 45h0M56.7 48.5h0" stroke="#d7232c" stroke-width="1.6" stroke-linecap="round" fill="none"/>
<path d="M103.1 68.4h0M101.5 71.7h0M102.2 70.1h0" stroke="#5734a9" stroke-width="1.6" stroke-linecap="round" fill="none"/>
<path d="M81.2 81.2h0M79.7 78.1h0" stroke="#a12999" stroke-width="1.6" stroke-linecap="round" fill="none"/>
<path d="M69.6 65.1h0M69.4 69.9h0M68.4 67.5h0" stroke="#ca234d" stroke-width="1.6" stroke-linecap="round" fill="none"/>
<path d="M58.1 58.1h0M58.3 59.2h0" stroke="#d6222d" stroke-width="1.6" stroke-linecap="round" fill="none"/>
<path d="M93 86.1h0M89.7 83.8h0M95.1 81.2h0" stroke="#8729a5" stroke-width="1.6" stroke-linecap="round" fill="none"/>
<path d="M106.8 61.2h0M104.6 58.8h0M105.9 58.7h0" stroke="#412b9d" stroke-width="1.6" stroke-linecap="round" fill="none"/>
<path d="M58.4 52.1h0M57.9 51.8h0" stroke="#d9252f" stroke-width="1.6" stroke-linecap="round" fill="none"/>
<path d="M107.8 47h0" stroke="#302090" stroke-width="1.6" stroke-linecap="round" fill="none"/>
<path d="M49.9 45.1h0M50.9 42.2h0M48.9 43.9h0" stroke="#dc2831" stroke-width="1.6" stroke-linecap="round" fill="none"/>
<path d="M102.3 77.8h0M100.7 77.4h0M100.1 74.1h0M103.4 76.2h0M105.4 76.9h0" stroke="#752da5" stroke-width="1.6" stroke-linecap="round" fill="none"/>
<path d="M90 75.7h0M88.9 80.3h0" stroke="#962dab" stroke-width="1.6" stroke-linecap="round" fill="none"/>
<path d="M78.6 75.4h0M80.6 76.1h0M79 73.9h0" stroke="#9e1577" stroke-width="1.6" stroke-linecap="round" fill="none"/>
<path d="M39.5 26.1h0M37.1 24.1h0" stroke="#c9151b" stroke-width="1.6" stroke-linecap="round" fill="none"/>
<path d="M76.3 74.3h0M76 75.7h0M76.1 73.2h0M74.3 77.4h0" stroke="#a31a7c" stroke-width="1.6" stroke-linecap="round" fill="none"/>
<path d="M75.4 75.4h0M81.9 69.3h0" stroke="#b32a8c" stroke-width="1.6" stroke-linecap="round" fill="none"/>
<path d="M78.6 81.2h0M82.2 81.6h0" stroke="#a22a9a" stroke-width="1.6" stroke-linecap="round" fill="none"/>
<path d="M74.9 80.7h0" stroke="#a01779" stroke-width="1.6" stroke-linecap="round" fill="none"/>
<path d="M104.9 73.1h0" stroke="#421f94" stroke-width="1.6" stroke-linecap="round" fill="none"/>
<path d="M68.2 64.8h0M61.4 60.1h0M64 59.8h0M66.3 64.7h0" stroke="#d31f2b" stroke-width="1.6" stroke-linecap="round" fill="none"/>
<path d="M63.7 63.9h0M65.9 63.9h0M62 60.6h0" stroke="#c91521" stroke-width="1.6" stroke-linecap="round" fill="none"/>
<path d="M48 43.6h0M50.4 46.1h0M56.1 50h0M49.1 43.7h0" stroke="#c5111a" stroke-width="1.6" stroke-linecap="round" fill="none"/>
<path d="M57.9 52.1h0" stroke="#d6222c" stroke-width="1.6" stroke-linecap="round" fill="none"/>
<path d="M99.4 77.7h0" stroke="#6c249c" stroke-width="1.6" stroke-linecap="round" fill="none"/>
<path d="M88.7 77h0M89.5 82.6h0M90.7 76.7h0" stroke="#8a219f" stroke-width="1.6" stroke-linecap="round" fill="none"/>
<path d="M47.6 38.6h0M51.8 43.7h0M50.2 44.4h0M52 47.7h0M56.3 48.7h0" stroke="#d11d26" stroke-width="1.6" stroke-linecap="round" fill="none"/>
<path d="M99.2 72.4h0M102.5 72.3h0" stroke="#48259a" stroke-width="1.6" stroke-linecap="round" fill="none"/>
<path d="M52.9 45.3h0M53 47.5h0M49 41.8h0M50.9 46.7h0M50.6 43h0M52.7 47.1h0M47.8 40.2h0" stroke="#d42029" stroke-width="1.6" stroke-linecap="round" fill="none"/>
<path d="M89.8 80.5h0M89.1 78.4h0" stroke="#871e9c" stroke-width="1.6" stroke-linecap="round" fill="none"/>
<path d="M60.7 55.4h0M59.7 58h0" stroke="#d92530" stroke-width="1.6" stroke-linecap="round" fill="none"/>
<path d="M95.2 76.8h0M100.1 81.4h0" stroke="#74219b" stroke-width="1.6" stroke-linecap="round" fill="none"/>
<path d="M106.7 59.8h0" stroke="#402a9c" stroke-width="1.6" stroke-linecap="round" fill="none"/>
<path d="M103.1 67h0" stroke="#3c2497" stroke-width="1.6" stroke-linecap="round" fill="none"/>
<path d="M102.9 76h0" stroke="#7129a1" stroke-width="1.6" stroke-linecap="round" fill="none"/>
<path d="M108.1 46.9h0M105.8 46.5h0" stroke="#382898" stroke-width="1.6" stroke-linecap="round" fill="none"/>
<path d="M84.7 77.2h0M81.7 74.4h0M79.5 75.5h0" stroke="#982090" stroke-width="1.6" stroke-linecap="round" fill="none"/>
<path d="M55.5 53.6h0M56.8 53.3h0" stroke="#cf1b25" stroke-width="1.6" stroke-linecap="round" fill="none"/>
<path d="M48.1 40h0M51 44h0" stroke="#cf1b24" stroke-width="1.6" stroke-linecap="round" fill="none"/>
<path d="M99.3 82.5h0M96.6 79.4h0" stroke="#711e98" stroke-width="1.6" stroke-linecap="round" fill="none"/>
<path d="M62.7 61.6h0M66.8 64.2h0" stroke="#c4101c" stroke-width="1.6" stroke-linecap="round" fill="none"/>
<path d="M68.5 65.5h0M64 63.8h0M65.5 60.6h0M61.5 60.5h0M64.4 63.6h0M66.1 65.7h0" stroke="#d4202c" stroke-width="1.6" stroke-linecap="round" fill="none"/>
<path d="M86.9 77.2h0M89 81.8h0M89.5 84.3h0" stroke="#881f9d" stroke-width="1.6" stroke-linecap="round" fill="none"/>
<path d="M94.4 77.2h0M94.7 81.7h0" stroke="#802da7" stroke-width="1.6" stroke-linecap="round" fill="none"/>
<path d="M82 76.2h0" stroke="#9c2494" stroke-width="1.6" stroke-linecap="round" fill="none"/>
<path d="M91.5 79.6h0" stroke="#8b2da9" stroke-width="1.6" stroke-linecap="round" fill="none"/>
<path d="M80.3 73h0M75.5 75.1h0M76.4 72.3h0" stroke="#9c1375" stroke-width="1.6" stroke-linecap="round" fill="none"/>
<path d="M53.9 49.4h0M50.6 45.3h0" stroke="#d9252e" stroke-width="1.6" stroke-linecap="round" fill="none"/>
<path d="M70.4 68.5h0M69.6 68.7h0M70 69.2h0" stroke="#bf1842" stroke-width="1.6" stroke-linecap="round" fill="none"/>
<path d="M69.5 70.1h0M72 69.9h0" stroke="#ba133d" stroke-width="1.6" stroke-linecap="round" fill="none"/>
<path d="M57.9 51.2h0M56.2 52.4h0" stroke="#d4202a" stroke-width="1.6" stroke-linecap="round" fill="none"/>
<path d="M52.2 47.9h0M52.2 44.5h0M50.7 41.6h0M48.7 41.6h0M55.4 47.6h0" stroke="#d31f28" stroke-width="1.6" stroke-linecap="round" fill="none"/>
<path d="M96.3 79.9h0" stroke="#822fa9" stroke-width="1.6" stroke-linecap="round" fill="none"/>
<path d="M68.5 70.9h0M68.8 70.3h0" stroke="#be1741" stroke-width="1.6" stroke-linecap="round" fill="none"/>
<path d="M106.9 53.2h0M106.7 49.9h0M108.7 50.3h0M108.8 49.9h0" stroke="#362495" stroke-width="1.6" stroke-linecap="round" fill="none"/>
<path d="M103.1 65.6h0M104 67.8h0M102.5 63.9h0" stroke="#3b2396" stroke-width="1.6" stroke-linecap="round" fill="none"/>
<path d="M93.7 84.8h0" stroke="#8628a4" stroke-width="1.6" stroke-linecap="round" fill="none"/>
<path d="M66 63.9h0M64 63.6h0" stroke="#c7131f" stroke-width="1.6" stroke-linecap="round" fill="none"/>
<path d="M84.5 80.2h0M89.1 78.4h0" stroke="#7f1694" stroke-width="1.6" stroke-linecap="round" fill="none"/>
<path d="M48.5 41.7h0M54.3 47.1h0M51.9 49h0M52.6 45.3h0" stroke="#ca161f" stroke-width="1.6" stroke-linecap="round" fill="none"/>
<path d="M78.6 67.4h0" stroke="#bd256f" stroke-width="1.6" stroke-linecap="round" fill="none"/>
<path d="M104.3 60h0M102.8 63.2h0" stroke="#4731a3" stroke-width="1.6" stroke-linecap="round" fill="none"/>
<path d="M52.2 47.7h0M51.8 46.2h0M49.1 44.7h0" stroke="#da262f" stroke-width="1.6" stroke-linecap="round" fill="none"/>
<path d="M41.8 31.1h0" stroke="#cc181f" stroke-width="1.6" stroke-linecap="round" fill="none"/>
<path d="M93 81.7h0M94.6 83.9h0" stroke="#892ba7" stroke-width="1.6" stroke-linecap="round" fill="none"/>
<path d="M88.6 81.3h0M89.1 81.5h0M86.9 75.7h0M86.7 82.7h0" stroke="#8b22a0" stroke-width="1.6" stroke-linecap="round" fill="none"/>
<path d="M51.7 43.6h0M51 42.7h0M49.8 43.4h0M52.6 44.6h0" stroke="#d5212a" stroke-width="1.6" stroke-linecap="round" fill="none"/>
<path d="M107.8 66.9h0M104.5 67h0" stroke="#3a2295" stroke-width="1.6" stroke-linecap="round" fill="none"/>
<path d="M107.2 51.1h0M107.5 49.5h0" stroke="#322091" stroke-width="1.6" stroke-linecap="round" fill="none"/>
<path d="M109.8 51.4h0M105.7 51.7h0M108.1 49.7h0" stroke="#382697" stroke-width="1.6" stroke-linecap="round" fill="none"/>
<path d="M98.7 80.6h0M99.6 81h0M102.4 84.5h0" stroke="#7f2ca6" stroke-width="1.6" stroke-linecap="round" fill="none"/>
<path d="M100.5 76.6h0" stroke="#6d259d" stroke-width="1.6" stroke-linecap="round" fill="none"/>
<path d="M105 62h0M103.4 62.7h0M106.3 61.7h0M431.5 51h0M432.3 51.2h0" stroke="#382294" stroke-width="1.6" stroke-linecap="round" fill="none"/>
<path d="M47 38.6h0M46.7 40.2h0M48 39.6h0M51.2 41.1h0M50.1 43.9h0" stroke="#dd2932" stroke-width="1.6" stroke-linecap="round" fill="none"/>
<path d="M107.2 55.4h0M109.3 55.5h0" stroke="#372395" stroke-width="1.6" stroke-linecap="round" fill="none"/>
<path d="M78.8 77.7h0" stroke="#aa2183" stroke-width="1.6" stroke-linecap="round" fill="none"/>
<path d="M56.6 51h0" stroke="#cb1721" stroke-width="1.6" stroke-linecap="round" fill="none"/>
<path d="M40.3 26.6h0" stroke="#d8242a" stroke-width="1.6" stroke-linecap="round" fill="none"/>
<path d="M102 70.5h0M101.1 71.6h0" stroke="#4a279c" stroke-width="1.6" stroke-linecap="round" fill="none"/>
<path d="M80.3 70h0" stroke="#a41b7d" stroke-width="1.6" stroke-linecap="round" fill="none"/>
<path d="M97.7 72.8h0" stroke="#7028a0" stroke-width="1.6" stroke-linecap="round" fill="none"/>
<path d="M103.5 69h0M103.4 69.2h0M105.5 68.1h0M106.9 69.8h0" stroke="#452297" stroke-width="1.6" stroke-linecap="round" fill="none"/>
<path d="M87.2 75.5h0" stroke="#942ba9" stroke-width="1.6" stroke-linecap="round" fill="none"/>
<path d="M104.8 71.5h0M103.2 71.9h0" stroke="#4f2ca1" stroke-width="1.6" stroke-linecap="round" fill="none"/>
<path d="M110.2 48.3h0" stroke="#372797" stroke-width="1.6" stroke-linecap="round" fill="none"/>
<path d="M106.7 67.6h0M100.6 64.8h0" stroke="#452da0" stroke-width="1.6" stroke-linecap="round" fill="none"/>
<path d="M104.4 50.7h0M107.9 50h0M107.5 49.7h0M109.1 50.7h0" stroke="#372596" stroke-width="1.6" stroke-linecap="round" fill="none"/>
<path d="M94.2 82.1h0M93.4 85h0M92 78.7h0" stroke="#7e209c" stroke-width="1.6" stroke-linecap="round" fill="none"/>
<path d="M106.3 68h0M104.5 66.1h0M104.3 66.2h0M103.3 63h0" stroke="#4c34a7" stroke-width="1.6" stroke-linecap="round" fill="none"/>
<path d="M95.1 78.7h0M96.5 79.2h0" stroke="#812ea8" stroke-width="1.6" stroke-linecap="round" fill="none"/>
<path d="M101.4 72.2h0M102.6 71.7h0M101.5 70.8h0" stroke="#522fa4" stroke-width="1.6" stroke-linecap="round" fill="none"/>
<path d="M72.5 69.9h0" stroke="#d02953" stroke-width="1.6" stroke-linecap="round" fill="none"/>
<path d="M98.6 74h0M107.3 74.7h0" stroke="#7a32aa" stroke-width="1.6" stroke-linecap="round" fill="none"/>
<path d="M109.1 49.3h0" stroke="#4838a8" stroke-width="1.6" stroke-linecap="round" fill="none"/>
<path d="M49.6 42h0M53.9 47h0M54.1 50.7h0" stroke="#cb1720" stroke-width="1.6" stroke-linecap="round" fill="none"/>
<path d="M103.8 63.8h0M104.9 63.2h0" stroke="#472fa2" stroke-width="1.6" stroke-linecap="round" fill="none"/>
<path d="M106 54.7h0" stroke="#392597" stroke-width="1.6" stroke-linecap="round" fill="none"/>
<path d="M81 77.8h0" stroke="#921a8a" stroke-width="1.6" stroke-linecap="round" fill="none"/>
<path d="M68.4 63.8h0M62.1 64.9h0M62.3 58.9h0M64.9 67.6h0" stroke="#c81420" stroke-width="1.6" stroke-linecap="round" fill="none"/>
<path d="M100.2 68.3h0" stroke="#4d2a9f" stroke-width="1.6" stroke-linecap="round" fill="none"/>
<path d="M109.1 57.8h0M107.7 55.8h0" stroke="#4a36a8" stroke-width="1.6" stroke-linecap="round" fill="none"/>
<path d="M104.1 79.7h0M100.9 74.5h0" stroke="#6e269e" stroke-width="1.6" stroke-linecap="round" fill="none"/>
<path d="M75.6 70.6h0M71.6 74.6h0" stroke="#be2670" stroke-width="1.6" stroke-linecap="round" fill="none"/>
<path d="M73.6 69.9h0" stroke="#b11963" stroke-width="1.6" stroke-linecap="round" fill="none"/>
<path d="M43.4 33h0M44.5 31.9h0" stroke="#c8141b" stroke-width="1.6" stroke-linecap="round" fill="none"/>
<path d="M78.8 72.8h0M76.1 73.5h0M80.7 70.5h0" stroke="#ae2587" stroke-width="1.6" stroke-linecap="round" fill="none"/>
<path d="M76.7 75.3h0" stroke="#ac2385" stroke-width="1.6" stroke-linecap="round" fill="none"/>
<path d="M98.6 75.5h0M101.8 76.4h0" stroke="#641c94" stroke-width="1.6" stroke-linecap="round" fill="none"/>
<path d="M75.2 75.9h0M71.5 71.9h0" stroke="#aa125c" stroke-width="1.6" stroke-linecap="round" fill="none"/>
<path d="M107.9 66.9h0" stroke="#4d35a8" stroke-width="1.6" stroke-linecap="round" fill="none"/>
<path d="M103.7 62.3h0M104.7 60.9h0" stroke="#4832a4" stroke-width="1.6" stroke-linecap="round" fill="none"/>
<path d="M98.8 74.5h0M100.7 77.5h0" stroke="#772fa7" stroke-width="1.6" stroke-linecap="round" fill="none"/>
<path d="M82.7 75.1h0" stroke="#a52d9d" stroke-width="1.6" stroke-linecap="round" fill="none"/>
<path d="M48.7 40.1h0M53.4 49.3h0M50.1 41h0" stroke="#c7131c" stroke-width="1.6" stroke-linecap="round" fill="none"/>
<path d="M92.1 76.9h0" stroke="#791b97" stroke-width="1.6" stroke-linecap="round" fill="none"/>
<path d="M103.4 69.5h0" stroke="#5a37ac" stroke-width="1.6" stroke-linecap="round" fill="none"/>
<path d="M104.5 64.2h0M103.2 67.4h0" stroke="#432b9e" stroke-width="1.6" stroke-linecap="round" fill="none"/>
<path d="M102.7 70.3h0M104.7 71.4h0" stroke="#49269b" stroke-width="1.6" stroke-linecap="round" fill="none"/>
<path d="M76.3 74.9h0" stroke="#a92082" stroke-width="1.6" stroke-linecap="round" fill="none"/>
<path d="M72.8 74.7h0M73.6 72.8h0" stroke="#ba226c" stroke-width="1.6" stroke-linecap="round" fill="none"/>
<path d="M40.8 28.3h0" stroke="#d01c22" stroke-width="1.6" stroke-linecap="round" fill="none"/>
<path d="M59.6 57.5h0" stroke="#cf1b26" stroke-width="1.6" stroke-linecap="round" fill="none"/>
<path d="M108 50.2h0M105.3 52h0M103.6 50.1h0" stroke="#3e2c9d" stroke-width="1.6" stroke-linecap="round" fill="none"/>
<path d="M109.3 52.1h0" stroke="#4432a3" stroke-width="1.6" stroke-linecap="round" fill="none"/>
<path d="M101.1 59.1h0" stroke="#432d9f" stroke-width="1.6" stroke-linecap="round" fill="none"/>
<path d="M45.5 40.8h0M56.4 49.2h0" stroke="#d6222b" stroke-width="1.6" stroke-linecap="round" fill="none"/>
<path d="M98.5 76.2h0M97.3 81.2h0M96 79.8h0" stroke="#8532ac" stroke-width="1.6" stroke-linecap="round" fill="none"/>
<path d="M81.3 71.2h0" stroke="#ad2486" stroke-width="1.6" stroke-linecap="round" fill="none"/>
<path d="M73.3 79.6h0M79 77.4h0M77.6 79.2h0" stroke="#b2298b" stroke-width="1.6" stroke-linecap="round" fill="none"/>
<path d="M91.8 74.1h0" stroke="#8a2ca8" stroke-width="1.6" stroke-linecap="round" fill="none"/>
<path d="M73.9 74.8h0M70 73.4h0M75.4 69.6h0" stroke="#ab135d" stroke-width="1.6" stroke-linecap="round" fill="none"/>
<path d="M45.3 35.4h0" stroke="#cb171f" stroke-width="1.6" stroke-linecap="round" fill="none"/>
<path d="M43.8 32.9h0" stroke="#cb171e" stroke-width="1.6" stroke-linecap="round" fill="none"/>
<path d="M73.3 73.1h0M76.3 73.2h0" stroke="#bc246e" stroke-width="1.6" stroke-linecap="round" fill="none"/>
<path d="M71 66.6h0" stroke="#c61f49" stroke-width="1.6" stroke-linecap="round" fill="none"/>
<path d="M40.6 27.6h0" stroke="#cd191f" stroke-width="1.6" stroke-linecap="round" fill="none"/>
<path d="M88.8 75.6h0M87.2 77.7h0" stroke="#8c23a1" stroke-width="1.6" stroke-linecap="round" fill="none"/>
<path d="M61.3 57h0M61.4 57.5h0" stroke="#cb1722" stroke-width="1.6" stroke-linecap="round" fill="none"/>
<path d="M71.3 71.1h0M72.8 72.2h0M74.7 73.8h0M71.3 79.2h0" stroke="#c12973" stroke-width="1.6" stroke-linecap="round" fill="none"/>
<path d="M105.4 65.1h0" stroke="#4e36a9" stroke-width="1.6" stroke-linecap="round" fill="none"/>
<path d="M65.6 62.4h0M60.9 59.3h0M65.6 64h0" stroke="#c6121e" stroke-width="1.6" stroke-linecap="round" fill="none"/>
<path d="M84.4 78.8h0M88.7 77.8h0" stroke="#8e25a3" stroke-width="1.6" stroke-linecap="round" fill="none"/>
<path d="M106.8 50.6h0" stroke="#3f2d9e" stroke-width="1.6" stroke-linecap="round" fill="none"/>
<path d="M55.6 51.3h0" stroke="#d21e28" stroke-width="1.6" stroke-linecap="round" fill="none"/>
<path d="M103.2 68.2h0M102.6 67.8h0M105.3 64.1h0M102.4 63.4h0" stroke="#40289b" stroke-width="1.6" stroke-linecap="round" fill="none"/>
<path d="M99.3 77.4h0" stroke="#76239d" stroke-width="1.6" stroke-linecap="round" fill="none"/>
<path d="M46.5 40.8h0M51.1 48.3h0M55.2 48.2h0" stroke="#d21e27" stroke-width="1.6" stroke-linecap="round" fill="none"/>
<path d="M54.5 51.1h0" stroke="#dc2832" stroke-width="1.6" stroke-linecap="round" fill="none"/>
<path d="M71.5 70.8h0" stroke="#c01943" stroke-width="1.6" stroke-linecap="round" fill="none"/>
<path d="M106.4 48.1h0" stroke="#4836a7" stroke-width="1.6" stroke-linecap="round" fill="none"/>
<path d="M46.8 36.6h0" stroke="#da262e" stroke-width="1.6" stroke-linecap="round" fill="none"/>
<path d="M51 42.9h0M54.4 49.5h0M50.8 43.3h0" stroke="#c6121b" stroke-width="1.6" stroke-linecap="round" fill="none"/>
<path d="M57.7 53.8h0M54.9 52.9h0M56.6 52.5h0" stroke="#d31f29" stroke-width="1.6" stroke-linecap="round" fill="none"/>
<path d="M101 75.3h0M100 78.5h0" stroke="#732ba3" stroke-width="1.6" stroke-linecap="round" fill="none"/>
<path d="M71.5 70.6h0M72.2 68.2h0M70.2 67.1h0" stroke="#b8113b" stroke-width="1.6" stroke-linecap="round" fill="none"/>
<path d="M107 55.1h0M106.4 56.3h0" stroke="#432fa1" stroke-width="1.6" stroke-linecap="round" fill="none"/>
<path d="M43.9 35.5h0" stroke="#ca161e" stroke-width="1.6" stroke-linecap="round" fill="none"/>
<path d="M58 52.9h0" stroke="#ce1a24" stroke-width="1.6" stroke-linecap="round" fill="none"/>
<path d="M83.4 75.6h0" stroke="#961e8e" stroke-width="1.6" stroke-linecap="round" fill="none"/>
<path d="M58.3 56.7h0M58.3 57.8h0M60.1 58.4h0M59.1 55.9h0M61.2 57.6h0" stroke="#c7131e" stroke-width="1.6" stroke-linecap="round" fill="none"/>
<path d="M92.4 82.2h0M92.3 86.1h0" stroke="#8527a3" stroke-width="1.6" stroke-linecap="round" fill="none"/>
<path d="M108.2 49h0M111.1 50.9h0M106 52.1h0M107.6 53.6h0M110.1 50.9h0M107.1 53.3h0" stroke="#412fa0" stroke-width="1.6" stroke-linecap="round" fill="none"/>
<path d="M56.5 50.8h0M57.8 53.3h0M57.7 52.9h0" stroke="#ca1620" stroke-width="1.6" stroke-linecap="round" fill="none"/>
<path d="M87.2 79.7h0" stroke="#8d24a2" stroke-width="1.6" stroke-linecap="round" fill="none"/>
<path d="M101.7 70.5h0M102.4 72.9h0M103 70.3h0M101.8 69.5h0" stroke="#502da2" stroke-width="1.6" stroke-linecap="round" fill="none"/>
<path d="M56.8 51.7h0M57.2 53.2h0M56 50.3h0" stroke="#d01c26" stroke-width="1.6" stroke-linecap="round" fill="none"/>
<path d="M103.4 62.5h0M105.4 60.5h0M105.7 62h0M103.1 59.8h0" stroke="#452fa1" stroke-width="1.6" stroke-linecap="round" fill="none"/>
<path d="M59.6 55.2h0M59 58.7h0" stroke="#cc1823" stroke-width="1.6" stroke-linecap="round" fill="none"/>
<path d="M70.9 67.8h0" stroke="#c8214b" stroke-width="1.6" stroke-linecap="round" fill="none"/>
<path d="M59.4 55.8h0M60.3 58.6h0" stroke="#ce1a25" stroke-width="1.6" stroke-linecap="round" fill="none"/>
<path d="M88.9 77.4h0M85.8 82h0" stroke="#9229a7" stroke-width="1.6" stroke-linecap="round" fill="none"/>
<path d="M64.9 66.6h0M63.2 61.1h0M66.5 65.6h0" stroke="#d21e2a" stroke-width="1.6" stroke-linecap="round" fill="none"/>
<path d="M104.9 72.6h0" stroke="#5633a8" stroke-width="1.6" stroke-linecap="round" fill="none"/>
<path d="M91 76.3h0M93.8 84.3h0" stroke="#781a96" stroke-width="1.6" stroke-linecap="round" fill="none"/>
<path d="M43.1 29.7h0" stroke="#d11d24" stroke-width="1.6" stroke-linecap="round" fill="none"/>
<path d="M73.7 73.6h0M74.7 70.6h0" stroke="#b31b65" stroke-width="1.6" stroke-linecap="round" fill="none"/>
<path d="M70.1 66.7h0" stroke="#bc153f" stroke-width="1.6" stroke-linecap="round" fill="none"/>
<path d="M67.1 64.4h0" stroke="#cf1b27" stroke-width="1.6" stroke-linecap="round" fill="none"/>
<path d="M43.1 31.5h0" stroke="#d01c23" stroke-width="1.6" stroke-linecap="round" fill="none"/>
<path d="M102.5 73.6h0M102.6 71h0M103.5 71.9h0" stroke="#4c299e" stroke-width="1.6" stroke-linecap="round" fill="none"/>
<path d="M58.1 56h0M61.4 56.6h0" stroke="#db2732" stroke-width="1.6" stroke-linecap="round" fill="none"/>
<path d="M60.1 56.7h0" stroke="#d11d28" stroke-width="1.6" stroke-linecap="round" fill="none"/>
<path d="M57.3 54.5h0M58 53.5h0M57.8 52.7h0" stroke="#d8242e" stroke-width="1.6" stroke-linecap="round" fill="none"/>
<path d="M96.7 79.9h0" stroke="#6d1a94" stroke-width="1.6" stroke-linecap="round" fill="none"/>
<path d="M56.9 54.2h0" stroke="#cc1822" stroke-width="1.6" stroke-linecap="round" fill="none"/>
<path d="M102.5 71.7h0" stroke="#4e2ba0" stroke-width="1.6" stroke-linecap="round" fill="none"/>
<path d="M56.3 52.3h0" stroke="#d5212b" stroke-width="1.6" stroke-linecap="round" fill="none"/>
<path d="M107.7 54.7h0" stroke="#352193" stroke-width="1.6" stroke-linecap="round" fill="none"/>
<path d="M83.4 77h0M80.7 78.9h0" stroke="#9f2797" stroke-width="1.6" stroke-linecap="round" fill="none"/>
<path d="M101.3 81.1h0M101.5 74.3h0" stroke="#651d95" stroke-width="1.6" stroke-linecap="round" fill="none"/>
<path d="M102.3 78h0M100.7 73.9h0M102.4 76h0" stroke="#682098" stroke-width="1.6" stroke-linecap="round" fill="none"/>
<path d="M70.2 73.2h0" stroke="#bb236d" stroke-width="1.6" stroke-linecap="round" fill="none"/>
<path d="M104 68h0M105.8 67h0" stroke="#4a32a5" stroke-width="1.6" stroke-linecap="round" fill="none"/>
<path d="M108.6 48.8h0" stroke="#342293" stroke-width="1.6" stroke-linecap="round" fill="none"/>
<path d="M93.8 77.5h0" stroke="#8d2fab" stroke-width="1.6" stroke-linecap="round" fill="none"/>
<path d="M75.8 72.1h0" stroke="#b71f69" stroke-width="1.6" stroke-linecap="round" fill="none"/>
<path d="M106.4 48.1h0" stroke="#392999" stroke-width="1.6" stroke-linecap="round" fill="none"/>
<path d="M108.5 54.9h0" stroke="#4430a2" stroke-width="1.6" stroke-linecap="round" fill="none"/>
<path d="M104.6 52.1h0M109.8 50.6h0M106.6 52.1h0" stroke="#392798" stroke-width="1.6" stroke-linecap="round" fill="none"/>
<path d="M68.9 64.1h0M67.5 67h0" stroke="#cb1723" stroke-width="1.6" stroke-linecap="round" fill="none"/>
<path d="M66.5 63.6h0" stroke="#db2733" stroke-width="1.6" stroke-linecap="round" fill="none"/>
<path d="M55.1 47.9h0" stroke="#c8141d" stroke-width="1.6" stroke-linecap="round" fill="none"/>
<path d="M60.3 55.9h0" stroke="#c6121d" stroke-width="1.6" stroke-linecap="round" fill="none"/>
<path d="M100.5 69h0M103.1 71.9h0" stroke="#5835aa" stroke-width="1.6" stroke-linecap="round" fill="none"/>
<path d="M65.3 63.9h0M61.3 60.7h0M64.4 68.1h0" stroke="#cc1824" stroke-width="1.6" stroke-linecap="round" fill="none"/>
<path d="M70.4 68.7h0" stroke="#bb143e" stroke-width="1.6" stroke-linecap="round" fill="none"/>
<path d="M83.6 75.7h0" stroke="#901888" stroke-width="1.6" stroke-linecap="round" fill="none"/>
<path d="M108.3 48.5h0" stroke="#352595" stroke-width="1.6" stroke-linecap="round" fill="none"/>
<path d="M90 74.8h0" stroke="#851c9a" stroke-width="1.6" stroke-linecap="round" fill="none"/>
<path d="M97.3 79.2h0" stroke="#701d97" stroke-width="1.6" stroke-linecap="round" fill="none"/>
<path d="M105.1 67.9h0" stroke="#4f37aa" stroke-width="1.6" stroke-linecap="round" fill="none"/>
<path d="M108.8 52.6h0" stroke="#4937a8" stroke-width="1.6" stroke-linecap="round" fill="none"/>
<path d="M111 47.8h0M430.4 46.5h0" stroke="#4030a0" stroke-width="1.6" stroke-linecap="round" fill="none"/>
<path d="M101.6 72.8h0M103.6 71.4h0M102.7 68.2h0" stroke="#5532a7" stroke-width="1.6" stroke-linecap="round" fill="none"/>
<path d="M82.4 73.5h0M77.9 71.7h0" stroke="#9f1678" stroke-width="1.6" stroke-linecap="round" fill="none"/>
<path d="M62.5 65.1h0M63.1 61.3h0" stroke="#cd1925" stroke-width="1.6" stroke-linecap="round" fill="none"/>
<path d="M108.7 48.1h0M112.3 49.2h0" stroke="#312191" stroke-width="1.6" stroke-linecap="round" fill="none"/>
<path d="M107.3 56.8h0M267.8 49.7h0" stroke="#3c289a" stroke-width="1.6" stroke-linecap="round" fill="none"/>
<path d="M79.2 76.7h0" stroke="#a1187a" stroke-width="1.6" stroke-linecap="round" fill="none"/>
<path d="M106.9 59.1h0M433.4 49.6h0" stroke="#3d2799" stroke-width="1.6" stroke-linecap="round" fill="none"/>
<path d="M106.7 57.9h0M270.7 48.6h0" stroke="#4834a6" stroke-width="1.6" stroke-linecap="round" fill="none"/>
<path d="M73.6 75.1h0" stroke="#ae1660" stroke-width="1.6" stroke-linecap="round" fill="none"/>
<path d="M46.9 35.8h0" stroke="#c51119" stroke-width="1.6" stroke-linecap="round" fill="none"/>
<path d="M104.8 61h0" stroke="#3f299b" stroke-width="1.6" stroke-linecap="round" fill="none"/>
<path d="M101.6 70.9h0M103.2 73.5h0" stroke="#4b289d" stroke-width="1.6" stroke-linecap="round" fill="none"/>
<path d="M79.6 70.2h0M79.2 76.7h0" stroke="#a61d7f" stroke-width="1.6" stroke-linecap="round" fill="none"/>
<path d="M83.2 78.8h0M83.9 75.9h0M83 75.2h0" stroke="#941c8c" stroke-width="1.6" stroke-linecap="round" fill="none"/>
<path d="M64.9 63h0" stroke="#dc2834" stroke-width="1.6" stroke-linecap="round" fill="none"/>
<path d="M88.5 78.8h0M88.5 74.8h0" stroke="#821997" stroke-width="1.6" stroke-linecap="round" fill="none"/>
<path d="M84.9 80.2h0" stroke="#831a98" stroke-width="1.6" stroke-linecap="round" fill="none"/>
<path d="M84.6 85.1h0" stroke="#8f26a4" stroke-width="1.6" stroke-linecap="round" fill="none"/>
<path d="M74.4 73.9h0M77.2 70.5h0" stroke="#b01862" stroke-width="1.6" stroke-linecap="round" fill="none"/>
<path d="M94.8 82.3h0M93.3 81.7h0" stroke="#80229e" stroke-width="1.6" stroke-linecap="round" fill="none"/>
<path d="M81.1 80.3h0M84.8 76.6h0" stroke="#9d2595" stroke-width="1.6" stroke-linecap="round" fill="none"/>
<path d="M99.9 83.3h0M97.5 80.8h0" stroke="#7926a0" stroke-width="1.6" stroke-linecap="round" fill="none"/>
<path d="M105.1 66.6h0" stroke="#5038ab" stroke-width="1.6" stroke-linecap="round" fill="none"/>
<path d="M64.4 72h0M66.9 67.8h0" stroke="#cb244e" stroke-width="1.6" stroke-linecap="round" fill="none"/>
<path d="M107.3 63.5h0M103.7 62.5h0" stroke="#392395" stroke-width="1.6" stroke-linecap="round" fill="none"/>
<path d="M110 47.2h0M106.3 49h0" stroke="#322292" stroke-width="1.6" stroke-linecap="round" fill="none"/>
<path d="M94.2 76.8h0M97.4 79.1h0" stroke="#6f1c96" stroke-width="1.6" stroke-linecap="round" fill="none"/>
<path d="M104.1 64h0" stroke="#3f279a" stroke-width="1.6" stroke-linecap="round" fill="none"/>
<path d="M108.2 53.5h0M105.8 52.8h0" stroke="#332192" stroke-width="1.6" stroke-linecap="round" fill="none"/>
<path d="M101.3 72.6h0" stroke="#7830a8" stroke-width="1.6" stroke-linecap="round" fill="none"/>
<path d="M105.6 59.1h0M105 58.8h0" stroke="#422c9e" stroke-width="1.6" stroke-linecap="round" fill="none"/>
<path d="M69.7 65.2h0" stroke="#da2632" stroke-width="1.6" stroke-linecap="round" fill="none"/>
<path d="M39.5 27.1h0" stroke="#d72329" stroke-width="1.6" stroke-linecap="round" fill="none"/>
<path d="M93.4 77.5h0M93.6 79.3h0" stroke="#882aa6" stroke-width="1.6" stroke-linecap="round" fill="none"/>
<path d="M110.1 50.3h0" stroke="#3c2a9b" stroke-width="1.6" stroke-linecap="round" fill="none"/>
<path d="M101 70.8h0M101.6 73.1h0" stroke="#442196" stroke-width="1.6" stroke-linecap="round" fill="none"/>
<path d="M103.5 53.7h0M107 55.3h0M100.8 58h0" stroke="#3e2a9c" stroke-width="1.6" stroke-linecap="round" fill="none"/>
<path d="M57.3 53.7h0" stroke="#db2731" stroke-width="1.6" stroke-linecap="round" fill="none"/>
<path d="M104.4 66.6h0" stroke="#392194" stroke-width="1.6" stroke-linecap="round" fill="none"/>
<path d="M98.5 81.5h0" stroke="#75229c" stroke-width="1.6" stroke-linecap="round" fill="none"/>
<path d="M66.4 67.6h0" stroke="#d82430" stroke-width="1.6" stroke-linecap="round" fill="none"/>
<path d="M84.8 78.2h0" stroke="#971f8f" stroke-width="1.6" stroke-linecap="round" fill="none"/>
<path d="M106.3 47.3h0" stroke="#3b2b9b" stroke-width="1.6" stroke-linecap="round" fill="none"/>
<path d="M59.8 56.4h0" stroke="#d7232e" stroke-width="1.6" stroke-linecap="round" fill="none"/>
<path d="M97.9 77h0M94.7 80h0" stroke="#7c29a3" stroke-width="1.6" stroke-linecap="round" fill="none"/>
<path d="M57.2 52.3h0M57.4 53.8h0" stroke="#c8141e" stroke-width="1.6" stroke-linecap="round" fill="none"/>
<path d="M82.8 75.5h0" stroke="#931b8b" stroke-width="1.6" stroke-linecap="round" fill="none"/>
<path d="M55.6 50.4h0M56.9 52.8h0" stroke="#c5111b" stroke-width="1.6" stroke-linecap="round" fill="none"/>
<path d="M58.3 52.7h0" stroke="#c9151f" stroke-width="1.6" stroke-linecap="round" fill="none"/>
<path d="M87.1 77.6h0" stroke="#972eac" stroke-width="1.6" stroke-linecap="round" fill="none"/>
<path d="M82.6 78.6h0M84.3 76h0" stroke="#8d1585" stroke-width="1.6" stroke-linecap="round" fill="none"/>
<path d="M46.3 33.9h0" stroke="#c7131b" stroke-width="1.6" stroke-linecap="round" fill="none"/>
<path d="M67.6 67.5h0" stroke="#bd1640" stroke-width="1.6" stroke-linecap="round" fill="none"/>
<path d="M106.4 54h0M107.9 50.4h0" stroke="#352394" stroke-width="1.6" stroke-linecap="round" fill="none"/>
<path d="M59.2 56.1h0" stroke="#dc2833" stroke-width="1.6" stroke-linecap="round" fill="none"/>
<path d="M57.7 55.4h0" stroke="#d4202b" stroke-width="1.6" stroke-linecap="round" fill="none"/>
<path d="M101.6 74.5h0" stroke="#661e96" stroke-width="1.6" stroke-linecap="round" fill="none"/>
<path d="M69.7 69.9h0M70.4 71.9h0M65.4 71h0" stroke="#c11a44" stroke-width="1.6" stroke-linecap="round" fill="none"/>
<path d="M79.8 77.6h0" stroke="#a42c9c" stroke-width="1.6" stroke-linecap="round" fill="none"/>
<path d="M95.3 79.8h0M100.1 78.3h0" stroke="#7e2ba5" stroke-width="1.6" stroke-linecap="round" fill="none"/>
<path d="M38.1 24.5h0" stroke="#d21e24" stroke-width="1.6" stroke-linecap="round" fill="none"/>
<path d="M100.6 76.1h0M99.8 80.5h0" stroke="#6f279f" stroke-width="1.6" stroke-linecap="round" fill="none"/>
<path d="M71.7 66.7h0" stroke="#c31c46" stroke-width="1.6" stroke-linecap="round" fill="none"/>
<path d="M61 60.2h0" stroke="#d92531" stroke-width="1.6" stroke-linecap="round" fill="none"/>
<path d="M90.8 83.1h0" stroke="#8325a1" stroke-width="1.6" stroke-linecap="round" fill="none"/>
<path d="M81.2 78.8h0" stroke="#9b2393" stroke-width="1.6" stroke-linecap="round" fill="none"/>
<path d="M63.6 62.5h0M64.9 60h0" stroke="#d01c28" stroke-width="1.6" stroke-linecap="round" fill="none"/>
<path d="M98.2 75.9h0" stroke="#692199" stroke-width="1.6" stroke-linecap="round" fill="none"/>
<path d="M97.5 79h0" stroke="#8330aa" stroke-width="1.6" stroke-linecap="round" fill="none"/>
<path d="M69.8 69.7h0" stroke="#c21b45" stroke-width="1.6" stroke-linecap="round" fill="none"/>
<path d="M110.7 50.9h0" stroke="#3a2899" stroke-width="1.6" stroke-linecap="round" fill="none"/>
<path d="M63.5 60.2h0" stroke="#d5212d" stroke-width="1.6" stroke-linecap="round" fill="none"/>
<path d="M105.7 52.2h0" stroke="#4a38a9" stroke-width="1.6" stroke-linecap="round" fill="none"/>
<path d="M107.3 46.2h0" stroke="#3f2f9f" stroke-width="1.6" stroke-linecap="round" fill="none"/>
<path d="M76.8 77.7h0" stroke="#b1288a" stroke-width="1.6" stroke-linecap="round" fill="none"/>
<path d="M103.4 59.6h0" stroke="#4a34a6" stroke-width="1.6" stroke-linecap="round" fill="none"/>
<path d="M107 56.5h0" stroke="#3d299b" stroke-width="1.6" stroke-linecap="round" fill="none"/>
<path d="M84.3 84.1h0" stroke="#89209e" stroke-width="1.6" stroke-linecap="round" fill="none"/>
<path d="M97.7 79.4h0" stroke="#7b28a2" stroke-width="1.6" stroke-linecap="round" fill="none"/>
<path d="M68.3 68.5h0M70.6 68.6h0" stroke="#c41d47" stroke-width="1.6" stroke-linecap="round" fill="none"/>
<path d="M75.6 71.9h0" stroke="#b51d67" stroke-width="1.6" stroke-linecap="round" fill="none"/>
<path d="M39.9 29.5h0" stroke="#db272d" stroke-width="1.6" stroke-linecap="round" fill="none"/>
<path d="M57.4 52.5h0" stroke="#d7232d" stroke-width="1.6" stroke-linecap="round" fill="none"/>
<path d="M106 55.8h0M109.5 55.7h0" stroke="#3a2698" stroke-width="1.6" stroke-linecap="round" fill="none"/>
<path d="M77.2 68.2h0" stroke="#b21a64" stroke-width="1.6" stroke-linecap="round" fill="none"/>
<path d="M81 77.2h0" stroke="#9d1476" stroke-width="1.6" stroke-linecap="round" fill="none"/>
<path d="M90 83.6h0" stroke="#932aa8" stroke-width="1.6" stroke-linecap="round" fill="none"/>
<path d="M74.8 68.7h0" stroke="#c02872" stroke-width="1.6" stroke-linecap="round" fill="none"/>
<path d="M105.9 68h0" stroke="#4830a3" stroke-width="1.6" stroke-linecap="round" fill="none"/>
<path d="M97.5 79.9h0" stroke="#78259f" stroke-width="1.6" stroke-linecap="round" fill="none"/>
<path d="M268 67.1h0" stroke="#692ca4" stroke-width="1.6" stroke-linecap="round" fill="none"/>
<path d="M259.7 94.4h0M260.9 94.4h0" stroke="#c52b6d" stroke-width="1.6" stroke-linecap="round" fill="none"/>
<path d="M258.6 79.2h0M260.1 78h0" stroke="#912999" stroke-width="1.6" stroke-linecap="round" fill="none"/>
<path d="M268.1 75.6h0M257 72h0" stroke="#8a2ea6" stroke-width="1.6" stroke-linecap="round" fill="none"/>
<path d="M269.2 51.7h0" stroke="#4c34a6" stroke-width="1.6" stroke-linecap="round" fill="none"/>
<path d="M266.1 69.1h0" stroke="#732ca4" stroke-width="1.6" stroke-linecap="round" fill="none"/>
<path d="M266.1 56.7h0" stroke="#3f1f95" stroke-width="1.6" stroke-linecap="round" fill="none"/>
<path d="M268.6 76.9h0M263.7 75.5h0" stroke="#9533a7" stroke-width="1.6" stroke-linecap="round" fill="none"/>
<path d="M255.8 99h0M254.2 97.2h0" stroke="#c41338" stroke-width="1.6" stroke-linecap="round" fill="none"/>
<path d="M263.8 75.1h0M263.8 74.4h0" stroke="#781c94" stroke-width="1.6" stroke-linecap="round" fill="none"/>
<path d="M264.2 77h0" stroke="#832195" stroke-width="1.6" stroke-linecap="round" fill="none"/>
<path d="M267.9 54.8h0M267.5 53.8h0M269.8 52.9h0M433.7 54.4h0" stroke="#472b9f" stroke-width="1.6" stroke-linecap="round" fill="none"/>
<path d="M262.1 77h0M268.3 77.2h0" stroke="#89279b" stroke-width="1.6" stroke-linecap="round" fill="none"/>
<path d="M258.5 94h0M264.3 96.1h0" stroke="#c62c6e" stroke-width="1.6" stroke-linecap="round" fill="none"/>
<path d="M267.1 60.2h0M263.4 60.1h0M269.8 61h0" stroke="#482098" stroke-width="1.6" stroke-linecap="round" fill="none"/>
<path d="M263.4 69.8h0" stroke="#672098" stroke-width="1.6" stroke-linecap="round" fill="none"/>
<path d="M255.2 100h0" stroke="#d12045" stroke-width="1.6" stroke-linecap="round" fill="none"/>
<path d="M254.8 92.7h0" stroke="#be2466" stroke-width="1.6" stroke-linecap="round" fill="none"/>
<path d="M272.5 63.2h0M264.5 59.3h0" stroke="#4f279f" stroke-width="1.6" stroke-linecap="round" fill="none"/>
<path d="M258.7 87.4h0" stroke="#b73394" stroke-width="1.6" stroke-linecap="round" fill="none"/>
<path d="M263.3 97.7h0M258.8 95.9h0" stroke="#ce3476" stroke-width="1.6" stroke-linecap="round" fill="none"/>
<path d="M263.5 71.1h0" stroke="#8432aa" stroke-width="1.6" stroke-linecap="round" fill="none"/>
<path d="M266.8 61.5h0M268.2 61.7h0M266.1 60.6h0M266.1 59.6h0" stroke="#5931a9" stroke-width="1.6" stroke-linecap="round" fill="none"/>
<path d="M267.1 54.9h0" stroke="#3c2094" stroke-width="1.6" stroke-linecap="round" fill="none"/>
<path d="M255.5 63.3h0" stroke="#6629a1" stroke-width="1.6" stroke-linecap="round" fill="none"/>
<path d="M266.5 76.2h0" stroke="#9634a8" stroke-width="1.6" stroke-linecap="round" fill="none"/>
<path d="M259.6 91.3h0" stroke="#c43587" stroke-width="1.6" stroke-linecap="round" fill="none"/>
<path d="M262.3 95h0" stroke="#bb2163" stroke-width="1.6" stroke-linecap="round" fill="none"/>
<path d="M262.4 65.7h0" stroke="#682ba3" stroke-width="1.6" stroke-linecap="round" fill="none"/>
<path d="M272.2 53.7h0M429.8 55.7h0M432.4 55.4h0" stroke="#4d31a5" stroke-width="1.6" stroke-linecap="round" fill="none"/>
<path d="M256 101.3h0M259.9 101h0" stroke="#ce1128" stroke-width="1.6" stroke-linecap="round" fill="none"/>
<path d="M268.2 73.1h0" stroke="#6e1c94" stroke-width="1.6" stroke-linecap="round" fill="none"/>
<path d="M260 98.1h0" stroke="#cd1c41" stroke-width="1.6" stroke-linecap="round" fill="none"/>
<path d="M270.5 53.1h0M432.9 54.9h0" stroke="#3e2296" stroke-width="1.6" stroke-linecap="round" fill="none"/>
<path d="M265.7 61.5h0" stroke="#492199" stroke-width="1.6" stroke-linecap="round" fill="none"/>
<path d="M259.9 88h0" stroke="#b73ba1" stroke-width="1.6" stroke-linecap="round" fill="none"/>
<path d="M265.7 88.3h0M254.3 85.4h0" stroke="#a2268c" stroke-width="1.6" stroke-linecap="round" fill="none"/>
<path d="M260.8 69.8h0M267.3 72.7h0" stroke="#8634ac" stroke-width="1.6" stroke-linecap="round" fill="none"/>
<path d="M264 82.1h0" stroke="#932391" stroke-width="1.6" stroke-linecap="round" fill="none"/>
<path d="M269.7 47h0M268.4 46.1h0" stroke="#4737a7" stroke-width="1.6" stroke-linecap="round" fill="none"/>
<path d="M259.9 70h0" stroke="#812fa7" stroke-width="1.6" stroke-linecap="round" fill="none"/>
<path d="M265.5 66.8h0M268.4 66.4h0" stroke="#62259d" stroke-width="1.6" stroke-linecap="round" fill="none"/>
<path d="M270.1 65.3h0M263.5 62.4h0" stroke="#4e1c94" stroke-width="1.6" stroke-linecap="round" fill="none"/>
<path d="M263.7 89.6h0" stroke="#ac2889" stroke-width="1.6" stroke-linecap="round" fill="none"/>
<path d="M262 88.1h0M261.9 86.2h0" stroke="#b83ca2" stroke-width="1.6" stroke-linecap="round" fill="none"/>
<path d="M270 57.4h0M268.6 56.4h0" stroke="#46269c" stroke-width="1.6" stroke-linecap="round" fill="none"/>
<path d="M255.2 99.3h0" stroke="#ce1d42" stroke-width="1.6" stroke-linecap="round" fill="none"/>
<path d="M272.4 71.1h0" stroke="#6d269e" stroke-width="1.6" stroke-linecap="round" fill="none"/>
<path d="M268.3 57.5h0M429.7 63.4h0" stroke="#411d93" stroke-width="1.6" stroke-linecap="round" fill="none"/>
<path d="M272 52.2h0M432.4 53h0M431.4 53.3h0" stroke="#392193" stroke-width="1.6" stroke-linecap="round" fill="none"/>
<path d="M257.4 102.1h0" stroke="#e0233a" stroke-width="1.6" stroke-linecap="round" fill="none"/>
<path d="M269.9 51.3h0M435.9 51.3h0" stroke="#4a32a4" stroke-width="1.6" stroke-linecap="round" fill="none"/>
<path d="M260.4 86h0" stroke="#aa2e94" stroke-width="1.6" stroke-linecap="round" fill="none"/>
<path d="M264.4 78.2h0M261.4 78h0" stroke="#932b9b" stroke-width="1.6" stroke-linecap="round" fill="none"/>
<path d="M257.1 105.9h0M256.2 105.5h0" stroke="#dc1c31" stroke-width="1.6" stroke-linecap="round" fill="none"/>
<path d="M262.5 88.2h0" stroke="#ab2f95" stroke-width="1.6" stroke-linecap="round" fill="none"/>
<path d="M264.9 91.5h0M258.4 88.7h0M447.8 73.1h0M440.6 79.5h0" stroke="#b02c8d" stroke-width="1.6" stroke-linecap="round" fill="none"/>
<path d="M262.1 64.7h0" stroke="#6528a0" stroke-width="1.6" stroke-linecap="round" fill="none"/>
<path d="M262.2 82h0M259.2 81h0" stroke="#9c2c9a" stroke-width="1.6" stroke-linecap="round" fill="none"/>
<path d="M264 69.8h0" stroke="#6a239b" stroke-width="1.6" stroke-linecap="round" fill="none"/>
<path d="M261.2 62.8h0" stroke="#54229a" stroke-width="1.6" stroke-linecap="round" fill="none"/>
<path d="M256.9 105.6h0" stroke="#e02035" stroke-width="1.6" stroke-linecap="round" fill="none"/>
<path d="M257.4 104.2h0" stroke="#d7172c" stroke-width="1.6" stroke-linecap="round" fill="none"/>
<path d="M265.3 63.1h0" stroke="#602ea6" stroke-width="1.6" stroke-linecap="round" fill="none"/>
<path d="M270.6 69.3h0" stroke="#672aa2" stroke-width="1.6" stroke-linecap="round" fill="none"/>
<path d="M256.1 99.4h0" stroke="#d32247" stroke-width="1.6" stroke-linecap="round" fill="none"/>
<path d="M255.3 104.4h0M256.2 102.6h0" stroke="#e12136" stroke-width="1.6" stroke-linecap="round" fill="none"/>
<path d="M262.1 57.5h0M269.4 59.8h0" stroke="#452197" stroke-width="1.6" stroke-linecap="round" fill="none"/>
<path d="M269.4 51.8h0M267 53.4h0M267.2 53.7h0M430.6 55.3h0" stroke="#492da1" stroke-width="1.6" stroke-linecap="round" fill="none"/>
<path d="M262.5 62.5h0" stroke="#4b239b" stroke-width="1.6" stroke-linecap="round" fill="none"/>
<path d="M260.5 72.8h0M263.9 73h0" stroke="#7b1f97" stroke-width="1.6" stroke-linecap="round" fill="none"/>
<path d="M270.3 55.3h0M263.9 53.6h0" stroke="#49299f" stroke-width="1.6" stroke-linecap="round" fill="none"/>
<path d="M263.5 80.6h0" stroke="#902898" stroke-width="1.6" stroke-linecap="round" fill="none"/>
<path d="M254.7 101.6h0M258.2 103h0M259.5 101.9h0" stroke="#d71a31" stroke-width="1.6" stroke-linecap="round" fill="none"/>
<path d="M261.6 85.3h0" stroke="#b03aa4" stroke-width="1.6" stroke-linecap="round" fill="none"/>
<path d="M267 61.6h0" stroke="#5c34ac" stroke-width="1.6" stroke-linecap="round" fill="none"/>
<path d="M260.5 88h0" stroke="#ac3096" stroke-width="1.6" stroke-linecap="round" fill="none"/>
<path d="M270.4 53.7h0" stroke="#5034a8" stroke-width="1.6" stroke-linecap="round" fill="none"/>
<path d="M260.5 87.8h0M258.5 89.3h0" stroke="#ad298a" stroke-width="1.6" stroke-linecap="round" fill="none"/>
<path d="M262.4 67.3h0" stroke="#6a2da5" stroke-width="1.6" stroke-linecap="round" fill="none"/>
<path d="M266.8 79.9h0" stroke="#942c9c" stroke-width="1.6" stroke-linecap="round" fill="none"/>
<path d="M267 67.3h0" stroke="#5e2199" stroke-width="1.6" stroke-linecap="round" fill="none"/>
<path d="M259.1 75.3h0" stroke="#801e92" stroke-width="1.6" stroke-linecap="round" fill="none"/>
<path d="M262.8 82.3h0" stroke="#9b2b99" stroke-width="1.6" stroke-linecap="round" fill="none"/>
<path d="M257.2 93.4h0" stroke="#c72d6f" stroke-width="1.6" stroke-linecap="round" fill="none"/>
<path d="M256.5 91h0" stroke="#bb2c7e" stroke-width="1.6" stroke-linecap="round" fill="none"/>
<path d="M260.2 88.4h0" stroke="#c13d9e" stroke-width="1.6" stroke-linecap="round" fill="none"/>
<path d="M267.2 49.9h0" stroke="#40289a" stroke-width="1.6" stroke-linecap="round" fill="none"/>
<path d="M269.7 46.2h0M270.3 47.2h0" stroke="#3e2e9e" stroke-width="1.6" stroke-linecap="round" fill="none"/>
<path d="M261.6 72.5h0" stroke="#81259d" stroke-width="1.6" stroke-linecap="round" fill="none"/>
<path d="M268.7 48.5h0" stroke="#331f91" stroke-width="1.6" stroke-linecap="round" fill="none"/>
<path d="M261.1 66.1h0" stroke="#6f32aa" stroke-width="1.6" stroke-linecap="round" fill="none"/>
<path d="M266.7 59.9h0" stroke="#4c289e" stroke-width="1.6" stroke-linecap="round" fill="none"/>
<path d="M267.9 80.2h0" stroke="#882090" stroke-width="1.6" stroke-linecap="round" fill="none"/>
<path d="M257.1 89.4h0M261.2 89.5h0" stroke="#be3a9b" stroke-width="1.6" stroke-linecap="round" fill="none"/>
<path d="M264.2 78.8h0" stroke="#8a289c" stroke-width="1.6" stroke-linecap="round" fill="none"/>
<path d="M255.1 106.3h0" stroke="#cc0a1e" stroke-width="1.6" stroke-linecap="round" fill="none"/>
<path d="M257.1 86.4h0" stroke="#a5298f" stroke-width="1.6" stroke-linecap="round" fill="none"/>
<path d="M264.9 66.5h0" stroke="#6b2ea6" stroke-width="1.6" stroke-linecap="round" fill="none"/>
<path d="M256.6 90.3h0" stroke="#c8398b" stroke-width="1.6" stroke-linecap="round" fill="none"/>
<path d="M267.9 58.3h0M270.1 59.1h0M434.5 62.3h0" stroke="#5733a9" stroke-width="1.6" stroke-linecap="round" fill="none"/>
<path d="M256.5 87.6h0" stroke="#b83495" stroke-width="1.6" stroke-linecap="round" fill="none"/>
<path d="M253.9 103.4h0M255.8 103.3h0" stroke="#e22237" stroke-width="1.6" stroke-linecap="round" fill="none"/>
<path d="M269.5 59h0" stroke="#522ea4" stroke-width="1.6" stroke-linecap="round" fill="none"/>
<path d="M260.3 90h0M257.4 88.5h0M447.8 73.6h0" stroke="#ae2a8b" stroke-width="1.6" stroke-linecap="round" fill="none"/>
<path d="M259.4 84h0" stroke="#a6309a" stroke-width="1.6" stroke-linecap="round" fill="none"/>
<path d="M267 75h0" stroke="#82269e" stroke-width="1.6" stroke-linecap="round" fill="none"/>
<path d="M267.4 56.6h0" stroke="#4c2ca2" stroke-width="1.6" stroke-linecap="round" fill="none"/>
<path d="M257.5 94.5h0M259.3 94.5h0" stroke="#c92f71" stroke-width="1.6" stroke-linecap="round" fill="none"/>
<path d="M251.2 86.7h0M262.7 89.2h0M260.6 88.4h0M258.3 89.8h0" stroke="#c03c9d" stroke-width="1.6" stroke-linecap="round" fill="none"/>
<path d="M263.2 68h0" stroke="#7a33ab" stroke-width="1.6" stroke-linecap="round" fill="none"/>
<path d="M270.5 45.9h0M270 45.5h0" stroke="#3a2a9a" stroke-width="1.6" stroke-linecap="round" fill="none"/>
<path d="M265.4 65.2h0" stroke="#7134ac" stroke-width="1.6" stroke-linecap="round" fill="none"/>
<path d="M264 75.9h0" stroke="#862498" stroke-width="1.6" stroke-linecap="round" fill="none"/>
<path d="M258.6 67.7h0" stroke="#6f28a0" stroke-width="1.6" stroke-linecap="round" fill="none"/>
<path d="M268.5 53.2h0M269.2 52.8h0M429.6 53.2h0" stroke="#4f33a7" stroke-width="1.6" stroke-linecap="round" fill="none"/>
<path d="M256.3 88.8h0M254.3 88.5h0" stroke="#b53192" stroke-width="1.6" stroke-linecap="round" fill="none"/>
<path d="M256.8 89.5h0" stroke="#a92586" stroke-width="1.6" stroke-linecap="round" fill="none"/>
<path d="M261.2 89h0" stroke="#bf3b9c" stroke-width="1.6" stroke-linecap="round" fill="none"/>
<path d="M270.4 51.5h0M431.9 52h0" stroke="#4e36a8" stroke-width="1.6" stroke-linecap="round" fill="none"/>
<path d="M271.5 61.2h0M267.8 57.5h0" stroke="#5935ab" stroke-width="1.6" stroke-linecap="round" fill="none"/>
<path d="M262.5 91.9h0" stroke="#b32476" stroke-width="1.6" stroke-linecap="round" fill="none"/>
<path d="M256 105.9h0" stroke="#d6162b" stroke-width="1.6" stroke-linecap="round" fill="none"/>
<path d="M256.4 103.4h0" stroke="#d5182f" stroke-width="1.6" stroke-linecap="round" fill="none"/>
<path d="M268.6 46.8h0" stroke="#4333a3" stroke-width="1.6" stroke-linecap="round" fill="none"/>
<path d="M264.9 78.2h0" stroke="#811f93" stroke-width="1.6" stroke-linecap="round" fill="none"/>
<path d="M256.9 100.5h0" stroke="#dc2b50" stroke-width="1.6" stroke-linecap="round" fill="none"/>
<path d="M259.4 96.5h0" stroke="#cf2a5d" stroke-width="1.6" stroke-linecap="round" fill="none"/>
<path d="M260.5 82.6h0" stroke="#9a2a98" stroke-width="1.6" stroke-linecap="round" fill="none"/>
<path d="M265.3 63.7h0" stroke="#5e2ca4" stroke-width="1.6" stroke-linecap="round" fill="none"/>
<path d="M253.9 90.4h0" stroke="#b22375" stroke-width="1.6" stroke-linecap="round" fill="none"/>
<path d="M270.5 53.6h0" stroke="#4c30a4" stroke-width="1.6" stroke-linecap="round" fill="none"/>
<path d="M258.1 69.6h0" stroke="#74229a" stroke-width="1.6" stroke-linecap="round" fill="none"/>
<path d="M269.2 50.9h0" stroke="#422a9c" stroke-width="1.6" stroke-linecap="round" fill="none"/>
<path d="M256 97.1h0" stroke="#d53063" stroke-width="1.6" stroke-linecap="round" fill="none"/>
<path d="M257.5 93.1h0" stroke="#c7388a" stroke-width="1.6" stroke-linecap="round" fill="none"/>
<path d="M257.2 81.5h0" stroke="#922290" stroke-width="1.6" stroke-linecap="round" fill="none"/>
<path d="M255.1 88.9h0M445.7 76.1h0" stroke="#b63293" stroke-width="1.6" stroke-linecap="round" fill="none"/>
<path d="M259.4 100.8h0M255.6 97.9h0" stroke="#d7264b" stroke-width="1.6" stroke-linecap="round" fill="none"/>
<path d="M263.8 65.4h0M263 67.1h0" stroke="#5f229a" stroke-width="1.6" stroke-linecap="round" fill="none"/>
<path d="M257 106.1h0" stroke="#db192d" stroke-width="1.6" stroke-linecap="round" fill="none"/>
<path d="M258.4 106.6h0" stroke="#ce0c20" stroke-width="1.6" stroke-linecap="round" fill="none"/>
<path d="M267.6 61.7h0" stroke="#5b33ab" stroke-width="1.6" stroke-linecap="round" fill="none"/>
<path d="M252.8 102.3h0" stroke="#d0132a" stroke-width="1.6" stroke-linecap="round" fill="none"/>
<path d="M254.3 92.1h0M257.5 94.1h0" stroke="#ca3072" stroke-width="1.6" stroke-linecap="round" fill="none"/>
<path d="M257.6 96.9h0M256.3 97.2h0" stroke="#cd285b" stroke-width="1.6" stroke-linecap="round" fill="none"/>
<path d="M272.5 71.3h0" stroke="#712aa2" stroke-width="1.6" stroke-linecap="round" fill="none"/>
<path d="M255.8 84.3h0" stroke="#b1359b" stroke-width="1.6" stroke-linecap="round" fill="none"/>
<path d="M259.8 69.8h0" stroke="#79279f" stroke-width="1.6" stroke-linecap="round" fill="none"/>
<path d="M267.5 60.2h0M435.4 59.6h0M436.1 59.5h0" stroke="#502ca2" stroke-width="1.6" stroke-linecap="round" fill="none"/>
<path d="M263.6 72.1h0M251.4 71.2h0" stroke="#8529a1" stroke-width="1.6" stroke-linecap="round" fill="none"/>
<path d="M258.4 91.3h0" stroke="#bf3082" stroke-width="1.6" stroke-linecap="round" fill="none"/>
<path d="M258.9 88.2h0M257.4 88.9h0" stroke="#bd399a" stroke-width="1.6" stroke-linecap="round" fill="none"/>
<path d="M257 104.6h0M254.7 103.8h0M255.7 105.1h0" stroke="#d11126" stroke-width="1.6" stroke-linecap="round" fill="none"/>
<path d="M267.5 50.1h0M433 52.2h0M431.8 52.1h0" stroke="#3c2496" stroke-width="1.6" stroke-linecap="round" fill="none"/>
<path d="M262.2 75.6h0" stroke="#872599" stroke-width="1.6" stroke-linecap="round" fill="none"/>
<path d="M266.2 63.2h0" stroke="#6634ac" stroke-width="1.6" stroke-linecap="round" fill="none"/>
<path d="M262.5 70h0" stroke="#6f1d95" stroke-width="1.6" stroke-linecap="round" fill="none"/>
<path d="M267.2 47.3h0M270.6 49.4h0" stroke="#4632a4" stroke-width="1.6" stroke-linecap="round" fill="none"/>
<path d="M263.4 87h0" stroke="#b3379d" stroke-width="1.6" stroke-linecap="round" fill="none"/>
<path d="M268.4 51.9h0" stroke="#4b33a5" stroke-width="1.6" stroke-linecap="round" fill="none"/>
<path d="M258.1 98.8h0" stroke="#c82356" stroke-width="1.6" stroke-linecap="round" fill="none"/>
<path d="M265.2 68.5h0" stroke="#6c259d" stroke-width="1.6" stroke-linecap="round" fill="none"/>
<path d="M267.1 69.1h0" stroke="#762fa7" stroke-width="1.6" stroke-linecap="round" fill="none"/>
<path d="M264.6 59.5h0M434.9 59.8h0" stroke="#472399" stroke-width="1.6" stroke-linecap="round" fill="none"/>
<path d="M268.2 69.5h0M266 69.9h0" stroke="#6e279f" stroke-width="1.6" stroke-linecap="round" fill="none"/>
<path d="M264.6 60.3h0M267.5 61h0" stroke="#562ea6" stroke-width="1.6" stroke-linecap="round" fill="none"/>
<path d="M262.2 74.7h0" stroke="#9735a9" stroke-width="1.6" stroke-linecap="round" fill="none"/>
<path d="M268.4 50.6h0" stroke="#3a2294" stroke-width="1.6" stroke-linecap="round" fill="none"/>
<path d="M257.1 103.3h0" stroke="#d2152c" stroke-width="1.6" stroke-linecap="round" fill="none"/>
<path d="M257.2 77.9h0" stroke="#982896" stroke-width="1.6" stroke-linecap="round" fill="none"/>
<path d="M270.4 50.4h0M429.6 52.2h0M434.8 52.4h0" stroke="#371f91" stroke-width="1.6" stroke-linecap="round" fill="none"/>
<path d="M267.9 50.7h0M268.2 50.1h0M430.5 52.9h0" stroke="#472fa1" stroke-width="1.6" stroke-linecap="round" fill="none"/>
<path d="M268.5 60h0" stroke="#431f95" stroke-width="1.6" stroke-linecap="round" fill="none"/>
<path d="M256.5 73.6h0" stroke="#9432a6" stroke-width="1.6" stroke-linecap="round" fill="none"/>
<path d="M260.8 85.1h0" stroke="#a82c92" stroke-width="1.6" stroke-linecap="round" fill="none"/>
<path d="M261.1 79h0" stroke="#a038a8" stroke-width="1.6" stroke-linecap="round" fill="none"/>
<path d="M261.7 83.5h0" stroke="#ae38a2" stroke-width="1.6" stroke-linecap="round" fill="none"/>
<path d="M265.4 92h0M259.4 90.9h0" stroke="#bc2d7f" stroke-width="1.6" stroke-linecap="round" fill="none"/>
<path d="M256.7 100h0" stroke="#d91c33" stroke-width="1.6" stroke-linecap="round" fill="none"/>
<path d="M271.1 51.5h0" stroke="#432b9d" stroke-width="1.6" stroke-linecap="round" fill="none"/>
<path d="M262.6 72.4h0" stroke="#8428a0" stroke-width="1.6" stroke-linecap="round" fill="none"/>
<path d="M258.1 104h0M257.6 103.5h0" stroke="#d8182d" stroke-width="1.6" stroke-linecap="round" fill="none"/>
<path d="M260.3 84h0" stroke="#a42e98" stroke-width="1.6" stroke-linecap="round" fill="none"/>
<path d="M258.4 80.4h0" stroke="#972795" stroke-width="1.6" stroke-linecap="round" fill="none"/>
<path d="M255.9 99.2h0" stroke="#c51439" stroke-width="1.6" stroke-linecap="round" fill="none"/>
<path d="M258 104.3h0" stroke="#cf0f24" stroke-width="1.6" stroke-linecap="round" fill="none"/>
<path d="M256.6 101.7h0" stroke="#cc0f26" stroke-width="1.6" stroke-linecap="round" fill="none"/>
<path d="M269.6 64.6h0" stroke="#5f2da5" stroke-width="1.6" stroke-linecap="round" fill="none"/>
<path d="M265.1 78.1h0" stroke="#9830a0" stroke-width="1.6" stroke-linecap="round" fill="none"/>
<path d="M261.6 86.1h0M258.6 87.6h0" stroke="#b5399f" stroke-width="1.6" stroke-linecap="round" fill="none"/>
<path d="M256.8 79.4h0" stroke="#a232a0" stroke-width="1.6" stroke-linecap="round" fill="none"/>
<path d="M256.3 105.2h0" stroke="#d31328" stroke-width="1.6" stroke-linecap="round" fill="none"/>
<path d="M269.7 57.3h0" stroke="#5535ab" stroke-width="1.6" stroke-linecap="round" fill="none"/>
<path d="M259.6 86.1h0" stroke="#b0349a" stroke-width="1.6" stroke-linecap="round" fill="none"/>
<path d="M263.9 58.9h0M435.6 61h0" stroke="#49259b" stroke-width="1.6" stroke-linecap="round" fill="none"/>
<path d="M257.4 100.3h0" stroke="#cd1027" stroke-width="1.6" stroke-linecap="round" fill="none"/>
<path d="M255.8 92.2h0" stroke="#c03183" stroke-width="1.6" stroke-linecap="round" fill="none"/>
<path d="M267.7 59.6h0M269.1 59.6h0" stroke="#5531a7" stroke-width="1.6" stroke-linecap="round" fill="none"/>
<path d="M262.2 71.2h0" stroke="#7e2ca4" stroke-width="1.6" stroke-linecap="round" fill="none"/>
<path d="M270.3 57.4h0" stroke="#5434aa" stroke-width="1.6" stroke-linecap="round" fill="none"/>
<path d="M258 96.5h0" stroke="#d32e61" stroke-width="1.6" stroke-linecap="round" fill="none"/>
<path d="M269.6 61.7h0" stroke="#441c94" stroke-width="1.6" stroke-linecap="round" fill="none"/>
<path d="M254.9 97.4h0" stroke="#d63164" stroke-width="1.6" stroke-linecap="round" fill="none"/>
<path d="M268 50.2h0" stroke="#4d35a7" stroke-width="1.6" stroke-linecap="round" fill="none"/>
<path d="M255.5 107.3h0" stroke="#d21024" stroke-width="1.6" stroke-linecap="round" fill="none"/>
<path d="M270.4 56.3h0" stroke="#422298" stroke-width="1.6" stroke-linecap="round" fill="none"/>
<path d="M269.1 66.6h0" stroke="#5a1d95" stroke-width="1.6" stroke-linecap="round" fill="none"/>
<path d="M268.4 51.3h0M432.5 52h0" stroke="#4830a2" stroke-width="1.6" stroke-linecap="round" fill="none"/>
<path d="M261 84.4h0" stroke="#9a248e" stroke-width="1.6" stroke-linecap="round" fill="none"/>
<path d="M269.9 68.5h0" stroke="#63269e" stroke-width="1.6" stroke-linecap="round" fill="none"/>
<path d="M257.1 103.1h0" stroke="#e1243b" stroke-width="1.6" stroke-linecap="round" fill="none"/>
<path d="M260.7 68h0" stroke="#6b249c" stroke-width="1.6" stroke-linecap="round" fill="none"/>
<path d="M268.2 57.9h0M436 61.3h0M435.8 59.8h0" stroke="#5834aa" stroke-width="1.6" stroke-linecap="round" fill="none"/>
<path d="M260.7 83.9h0" stroke="#9f2993" stroke-width="1.6" stroke-linecap="round" fill="none"/>
<path d="M259.4 101.7h0" stroke="#d61930" stroke-width="1.6" stroke-linecap="round" fill="none"/>
<path d="M260.4 86.4h0" stroke="#a72b91" stroke-width="1.6" stroke-linecap="round" fill="none"/>
<path d="M253.5 94.2h0" stroke="#bf1a4d" stroke-width="1.6" stroke-linecap="round" fill="none"/>
<path d="M262 83.4h0" stroke="#9b258f" stroke-width="1.6" stroke-linecap="round" fill="none"/>
<path d="M258.9 76.5h0" stroke="#912fa3" stroke-width="1.6" stroke-linecap="round" fill="none"/>
<path d="M266.2 77.8h0" stroke="#9a32a2" stroke-width="1.6" stroke-linecap="round" fill="none"/>
<path d="M260 73.4h0" stroke="#9034ac" stroke-width="1.6" stroke-linecap="round" fill="none"/>
<path d="M272 71.5h0" stroke="#742da5" stroke-width="1.6" stroke-linecap="round" fill="none"/>
<path d="M259.3 61.7h0" stroke="#5b29a1" stroke-width="1.6" stroke-linecap="round" fill="none"/>
<path d="M265.1 70.6h0" stroke="#7029a1" stroke-width="1.6" stroke-linecap="round" fill="none"/>
<path d="M268.7 50.9h0M434.6 53.4h0M433.4 53.7h0" stroke="#4931a3" stroke-width="1.6" stroke-linecap="round" fill="none"/>
<path d="M257.2 96.6h0" stroke="#cb2659" stroke-width="1.6" stroke-linecap="round" fill="none"/>
<path d="M269 68h0" stroke="#64279f" stroke-width="1.6" stroke-linecap="round" fill="none"/>
<path d="M262.3 82.8h0" stroke="#a434a2" stroke-width="1.6" stroke-linecap="round" fill="none"/>
<path d="M272.3 55.6h0M430.2 54.5h0" stroke="#3f2397" stroke-width="1.6" stroke-linecap="round" fill="none"/>
<path d="M267.7 52.6h0" stroke="#3a1e92" stroke-width="1.6" stroke-linecap="round" fill="none"/>
<path d="M260.9 73.8h0" stroke="#8b2fa7" stroke-width="1.6" stroke-linecap="round" fill="none"/>
<path d="M258.2 98.1h0" stroke="#c9183d" stroke-width="1.6" stroke-linecap="round" fill="none"/>
<path d="M269.3 58.6h0M435.7 61.2h0" stroke="#4e2aa0" stroke-width="1.6" stroke-linecap="round" fill="none"/>
<path d="M257.5 98.6h0" stroke="#d6254a" stroke-width="1.6" stroke-linecap="round" fill="none"/>
<path d="M264.9 58.9h0" stroke="#4a269c" stroke-width="1.6" stroke-linecap="round" fill="none"/>
<path d="M262.9 94h0" stroke="#b62779" stroke-width="1.6" stroke-linecap="round" fill="none"/>
<path d="M254 94.1h0" stroke="#bf2567" stroke-width="1.6" stroke-linecap="round" fill="none"/>
<path d="M271.7 62.3h0" stroke="#471f97" stroke-width="1.6" stroke-linecap="round" fill="none"/>
<path d="M452 78.7h0" stroke="#d92a5f" stroke-width="1.6" stroke-linecap="round" fill="none"/>
<path d="M460.1 83.8h0" stroke="#cf162d" stroke-width="1.6" stroke-linecap="round" fill="none"/>
<path d="M457.5 84.8h0M459 83.4h0" stroke="#d01630" stroke-width="1.6" stroke-linecap="round" fill="none"/>
<path d="M435.3 66.8h0" stroke="#54249c" stroke-width="1.6" stroke-linecap="round" fill="none"/>
<path d="M431.3 52h0" stroke="#3d2597" stroke-width="1.6" stroke-linecap="round" fill="none"/>
<path d="M446.7 78.9h0" stroke="#c01e61" stroke-width="1.6" stroke-linecap="round" fill="none"/>
<path d="M450.3 87.6h0M452.6 81.4h0" stroke="#de2142" stroke-width="1.6" stroke-linecap="round" fill="none"/>
<path d="M427.3 55.2h0M432.6 54.4h0" stroke="#43279b" stroke-width="1.6" stroke-linecap="round" fill="none"/>
<path d="M442.6 63h0" stroke="#682ba4" stroke-width="1.6" stroke-linecap="round" fill="none"/>
<path d="M437.7 61.5h0M433.4 65.9h0" stroke="#4d269e" stroke-width="1.6" stroke-linecap="round" fill="none"/>
<path d="M443.6 78.8h0M446.8 76.1h0" stroke="#bf2b7d" stroke-width="1.6" stroke-linecap="round" fill="none"/>
<path d="M435.6 62.9h0" stroke="#5a33ab" stroke-width="1.6" stroke-linecap="round" fill="none"/>
<path d="M460.9 85.8h0" stroke="#de263a" stroke-width="1.6" stroke-linecap="round" fill="none"/>
<path d="M446.8 77.3h0" stroke="#c43082" stroke-width="1.6" stroke-linecap="round" fill="none"/>
<path d="M434.5 69.9h0M438.6 68.8h0M441.5 67.3h0" stroke="#7228a2" stroke-width="1.6" stroke-linecap="round" fill="none"/>
<path d="M444.4 80.6h0M446.4 79.4h0" stroke="#cc2a6d" stroke-width="1.6" stroke-linecap="round" fill="none"/>
<path d="M455.7 81.5h0" stroke="#da1e3c" stroke-width="1.6" stroke-linecap="round" fill="none"/>
<path d="M458.3 87.5h0" stroke="#ce162a" stroke-width="1.6" stroke-linecap="round" fill="none"/>
<path d="M435.6 54.6h0" stroke="#47299d" stroke-width="1.6" stroke-linecap="round" fill="none"/>
<path d="M432.1 61.3h0M433.9 61.8h0" stroke="#48249a" stroke-width="1.6" stroke-linecap="round" fill="none"/>
<path d="M430.5 54.6h0" stroke="#45299d" stroke-width="1.6" stroke-linecap="round" fill="none"/>
<path d="M437.9 58.6h0" stroke="#422197" stroke-width="1.6" stroke-linecap="round" fill="none"/>
<path d="M446.1 77.2h0M445.3 79.7h0" stroke="#ba2678" stroke-width="1.6" stroke-linecap="round" fill="none"/>
<path d="M445.9 69.4h0" stroke="#922da9" stroke-width="1.6" stroke-linecap="round" fill="none"/>
<path d="M446.2 81.9h0" stroke="#cc1d52" stroke-width="1.6" stroke-linecap="round" fill="none"/>
<path d="M441.5 71.8h0" stroke="#78209b" stroke-width="1.6" stroke-linecap="round" fill="none"/>
<path d="M451.4 77h0" stroke="#c22063" stroke-width="1.6" stroke-linecap="round" fill="none"/>
<path d="M434.5 64.6h0" stroke="#53239b" stroke-width="1.6" stroke-linecap="round" fill="none"/>
<path d="M432.3 58.4h0" stroke="#4b2aa0" stroke-width="1.6" stroke-linecap="round" fill="none"/>
<path d="M433.7 68h0M439.4 67.6h0" stroke="#6a2da6" stroke-width="1.6" stroke-linecap="round" fill="none"/>
<path d="M449 75.9h0" stroke="#b11d6f" stroke-width="1.6" stroke-linecap="round" fill="none"/>
<path d="M437.6 60.9h0M437.1 63.1h0" stroke="#5b34ac" stroke-width="1.6" stroke-linecap="round" fill="none"/>
<path d="M444.1 69.1h0M438.7 71.3h0" stroke="#741c97" stroke-width="1.6" stroke-linecap="round" fill="none"/>
<path d="M436 64.7h0" stroke="#451e96" stroke-width="1.6" stroke-linecap="round" fill="none"/>
<path d="M434.3 47.8h0" stroke="#392797" stroke-width="1.6" stroke-linecap="round" fill="none"/>
<path d="M448.5 75.5h0M446.8 75.3h0" stroke="#be2a7c" stroke-width="1.6" stroke-linecap="round" fill="none"/>
<path d="M436.1 58.6h0" stroke="#502fa5" stroke-width="1.6" stroke-linecap="round" fill="none"/>
<path d="M440.4 73.4h0" stroke="#8d28a4" stroke-width="1.6" stroke-linecap="round" fill="none"/>
<path d="M432.3 59.1h0M435.8 58.1h0" stroke="#45249a" stroke-width="1.6" stroke-linecap="round" fill="none"/>
<path d="M437.1 75h0" stroke="#8924a0" stroke-width="1.6" stroke-linecap="round" fill="none"/>
<path d="M448.3 75.7h0" stroke="#c63284" stroke-width="1.6" stroke-linecap="round" fill="none"/>
<path d="M446.4 75.3h0M445.4 74h0" stroke="#b22e8f" stroke-width="1.6" stroke-linecap="round" fill="none"/>
<path d="M451.1 75.8h0M448.2 76.2h0M452.1 74.4h0" stroke="#d23073" stroke-width="1.6" stroke-linecap="round" fill="none"/>
<path d="M450.5 76.4h0" stroke="#c52366" stroke-width="1.6" stroke-linecap="round" fill="none"/>
<path d="M458.2 90.3h0" stroke="#dc2438" stroke-width="1.6" stroke-linecap="round" fill="none"/>
<path d="M436.3 56.2h0M430.8 58.2h0" stroke="#412397" stroke-width="1.6" stroke-linecap="round" fill="none"/>
<path d="M434.3 66.3h0" stroke="#57279f" stroke-width="1.6" stroke-linecap="round" fill="none"/>
<path d="M456.9 89.5h0" stroke="#d1182f" stroke-width="1.6" stroke-linecap="round" fill="none"/>
<path d="M436.8 57.2h0M437.1 55.4h0" stroke="#3e2094" stroke-width="1.6" stroke-linecap="round" fill="none"/>
<path d="M439 66.9h0M440.6 65.1h0" stroke="#591c95" stroke-width="1.6" stroke-linecap="round" fill="none"/>
<path d="M444.4 66.8h0" stroke="#8830ab" stroke-width="1.6" stroke-linecap="round" fill="none"/>
<path d="M455.8 92h0M458.4 91.3h0" stroke="#d71f33" stroke-width="1.6" stroke-linecap="round" fill="none"/>
<path d="M429.6 61h0M431.3 59.5h0" stroke="#5635ab" stroke-width="1.6" stroke-linecap="round" fill="none"/>
<path d="M459.5 80.3h0M457.6 84.1h0" stroke="#d31933" stroke-width="1.6" stroke-linecap="round" fill="none"/>
<path d="M438.6 71h0" stroke="#7127a1" stroke-width="1.6" stroke-linecap="round" fill="none"/>
<path d="M449.9 79.6h0" stroke="#d32459" stroke-width="1.6" stroke-linecap="round" fill="none"/>
<path d="M447.4 68.6h0M445.3 72.3h0" stroke="#a531a1" stroke-width="1.6" stroke-linecap="round" fill="none"/>
<path d="M450.8 78.5h0" stroke="#c7184d" stroke-width="1.6" stroke-linecap="round" fill="none"/>
<path d="M443.1 69.1h0" stroke="#872faa" stroke-width="1.6" stroke-linecap="round" fill="none"/>
<path d="M434.5 57.2h0M432.8 58.3h0M433.2 59.1h0" stroke="#48279d" stroke-width="1.6" stroke-linecap="round" fill="none"/>
<path d="M455.8 94.1h0" stroke="#d1192d" stroke-width="1.6" stroke-linecap="round" fill="none"/>
<path d="M448 68h0" stroke="#8e1a8a" stroke-width="1.6" stroke-linecap="round" fill="none"/>
<path d="M429.3 55.6h0M434.1 55h0" stroke="#402498" stroke-width="1.6" stroke-linecap="round" fill="none"/>
<path d="M429.4 53.7h0M434.8 52.7h0" stroke="#452d9f" stroke-width="1.6" stroke-linecap="round" fill="none"/>
<path d="M428.7 48.6h0" stroke="#4432a2" stroke-width="1.6" stroke-linecap="round" fill="none"/>
<path d="M437.7 64.5h0M440 63h0" stroke="#6333ab" stroke-width="1.6" stroke-linecap="round" fill="none"/>
<path d="M446.8 77.8h0" stroke="#c53183" stroke-width="1.6" stroke-linecap="round" fill="none"/>
<path d="M439 65.9h0M438 65.8h0" stroke="#5b1e97" stroke-width="1.6" stroke-linecap="round" fill="none"/>
<path d="M452.7 84.7h0" stroke="#dc1f40" stroke-width="1.6" stroke-linecap="round" fill="none"/>
<path d="M456.7 83.6h0" stroke="#cc102e" stroke-width="1.6" stroke-linecap="round" fill="none"/>
<path d="M436.5 69.2h0" stroke="#6f32ab" stroke-width="1.6" stroke-linecap="round" fill="none"/>
<path d="M438.7 73.2h0M443 71.7h0M442.8 71.7h0" stroke="#942fab" stroke-width="1.6" stroke-linecap="round" fill="none"/>
<path d="M439.2 79.5h0M442.2 79.2h0" stroke="#a82485" stroke-width="1.6" stroke-linecap="round" fill="none"/>
<path d="M438.6 65.2h0M434.1 68.9h0" stroke="#5f229b" stroke-width="1.6" stroke-linecap="round" fill="none"/>
<path d="M435.1 55.9h0M433.2 56.1h0" stroke="#482a9e" stroke-width="1.6" stroke-linecap="round" fill="none"/>
<path d="M458.2 82.1h0" stroke="#de243e" stroke-width="1.6" stroke-linecap="round" fill="none"/>
<path d="M441.8 83.6h0" stroke="#c82669" stroke-width="1.6" stroke-linecap="round" fill="none"/>
<path d="M434.9 58h0M436.2 57.1h0" stroke="#45279b" stroke-width="1.6" stroke-linecap="round" fill="none"/>
<path d="M450.8 74.4h0" stroke="#bc287a" stroke-width="1.6" stroke-linecap="round" fill="none"/>
<path d="M443.2 76.3h0M445.5 74h0" stroke="#af2b8c" stroke-width="1.6" stroke-linecap="round" fill="none"/>
<path d="M442.8 81.8h0M446.2 77.7h0" stroke="#c22e80" stroke-width="1.6" stroke-linecap="round" fill="none"/>
<path d="M432.5 62.9h0" stroke="#442096" stroke-width="1.6" stroke-linecap="round" fill="none"/>
<path d="M461.2 87.1h0" stroke="#e22a3e" stroke-width="1.6" stroke-linecap="round" fill="none"/>
<path d="M457 81.8h0" stroke="#dd213f" stroke-width="1.6" stroke-linecap="round" fill="none"/>
<path d="M443.1 65.7h0" stroke="#6d239d" stroke-width="1.6" stroke-linecap="round" fill="none"/>
<path d="M431 55.9h0" stroke="#4a2ca0" stroke-width="1.6" stroke-linecap="round" fill="none"/>
<path d="M440.5 64.2h0" stroke="#6e31aa" stroke-width="1.6" stroke-linecap="round" fill="none"/>
<path d="M432.6 59.7h0M431.7 59.6h0" stroke="#4c2ba1" stroke-width="1.6" stroke-linecap="round" fill="none"/>
<path d="M433.7 62.4h0" stroke="#4f2ba1" stroke-width="1.6" stroke-linecap="round" fill="none"/>
<path d="M442.9 67.5h0M439.1 69.9h0" stroke="#7a229d" stroke-width="1.6" stroke-linecap="round" fill="none"/>
<path d="M433.5 56.6h0M433.5 55.7h0" stroke="#402296" stroke-width="1.6" stroke-linecap="round" fill="none"/>
<path d="M455.7 86.3h0" stroke="#e12741" stroke-width="1.6" stroke-linecap="round" fill="none"/>
<path d="M433.1 48.6h0" stroke="#4230a0" stroke-width="1.6" stroke-linecap="round" fill="none"/>
<path d="M434.6 59h0M435.1 59h0" stroke="#4e2da3" stroke-width="1.6" stroke-linecap="round" fill="none"/>
<path d="M431.5 57.1h0" stroke="#4c2ea2" stroke-width="1.6" stroke-linecap="round" fill="none"/>
<path d="M457.2 90.4h0M458.2 82.9h0M459.1 87.4h0M456.3 92.7h0" stroke="#d61d34" stroke-width="1.6" stroke-linecap="round" fill="none"/>
<path d="M437.9 65.9h0" stroke="#6427a0" stroke-width="1.6" stroke-linecap="round" fill="none"/>
<path d="M458.9 84.4h0" stroke="#e0273e" stroke-width="1.6" stroke-linecap="round" fill="none"/>
<path d="M440.7 70.9h0" stroke="#9530ac" stroke-width="1.6" stroke-linecap="round" fill="none"/>
<path d="M431.7 49.7h0" stroke="#4933a5" stroke-width="1.6" stroke-linecap="round" fill="none"/>
<path d="M441.4 73.3h0M439.2 73.4h0" stroke="#841f9b" stroke-width="1.6" stroke-linecap="round" fill="none"/>
<path d="M444.7 70.8h0" stroke="#7d1894" stroke-width="1.6" stroke-linecap="round" fill="none"/>
<path d="M445.8 75h0" stroke="#a62283" stroke-width="1.6" stroke-linecap="round" fill="none"/>
<path d="M429.2 47h0" stroke="#3c2c9c" stroke-width="1.6" stroke-linecap="round" fill="none"/>
<path d="M447.1 86.4h0" stroke="#dd2148" stroke-width="1.6" stroke-linecap="round" fill="none"/>
<path d="M458.2 81.7h0" stroke="#d21832" stroke-width="1.6" stroke-linecap="round" fill="none"/>
<path d="M437.1 63.2h0" stroke="#56269e" stroke-width="1.6" stroke-linecap="round" fill="none"/>
<path d="M442.6 70.7h0" stroke="#8a25a1" stroke-width="1.6" stroke-linecap="round" fill="none"/>
<path d="M449.2 74.9h0" stroke="#af1b6d" stroke-width="1.6" stroke-linecap="round" fill="none"/>
<path d="M441.5 76.5h0" stroke="#aa2687" stroke-width="1.6" stroke-linecap="round" fill="none"/>
<path d="M438.8 63.7h0" stroke="#502098" stroke-width="1.6" stroke-linecap="round" fill="none"/>
<path d="M430.3 59.5h0" stroke="#3d1f93" stroke-width="1.6" stroke-linecap="round" fill="none"/>
<path d="M443.3 68.9h0" stroke="#8129a4" stroke-width="1.6" stroke-linecap="round" fill="none"/>
<path d="M432.1 52.4h0" stroke="#462ea0" stroke-width="1.6" stroke-linecap="round" fill="none"/>
<path d="M446.9 78.5h0" stroke="#bd1b5e" stroke-width="1.6" stroke-linecap="round" fill="none"/>
<path d="M441.4 73.3h0" stroke="#85209c" stroke-width="1.6" stroke-linecap="round" fill="none"/>
<path d="M435.5 56.4h0M431.1 56.5h0" stroke="#46289c" stroke-width="1.6" stroke-linecap="round" fill="none"/>
<path d="M459.9 84.8h0" stroke="#e22940" stroke-width="1.6" stroke-linecap="round" fill="none"/>
<path d="M432.8 64.8h0M436.1 61.7h0" stroke="#5831a9" stroke-width="1.6" stroke-linecap="round" fill="none"/>
<path d="M433.4 59.8h0" stroke="#4a299f" stroke-width="1.6" stroke-linecap="round" fill="none"/>
<path d="M440.2 67.8h0" stroke="#681e98" stroke-width="1.6" stroke-linecap="round" fill="none"/>
<path d="M442.7 68.5h0M437.3 73.2h0" stroke="#862ea9" stroke-width="1.6" stroke-linecap="round" fill="none"/>
<path d="M434.7 65.6h0" stroke="#5e2ea6" stroke-width="1.6" stroke-linecap="round" fill="none"/>
<path d="M448.9 78.9h0" stroke="#ce2c6f" stroke-width="1.6" stroke-linecap="round" fill="none"/>
<path d="M429.4 52.4h0M432.5 51.8h0" stroke="#4f37a9" stroke-width="1.6" stroke-linecap="round" fill="none"/>
<path d="M450.7 67.9h0" stroke="#9d2999" stroke-width="1.6" stroke-linecap="round" fill="none"/>
<path d="M439.9 69.3h0M442.1 69.2h0" stroke="#7f27a2" stroke-width="1.6" stroke-linecap="round" fill="none"/>
<path d="M435.5 63.4h0M438.6 62.5h0" stroke="#4e279f" stroke-width="1.6" stroke-linecap="round" fill="none"/>
<path d="M444.7 82.6h0" stroke="#c32164" stroke-width="1.6" stroke-linecap="round" fill="none"/>
<path d="M432.3 61.1h0M437.1 59.1h0" stroke="#5430a6" stroke-width="1.6" stroke-linecap="round" fill="none"/>
<path d="M453.1 77.5h0" stroke="#c5164b" stroke-width="1.6" stroke-linecap="round" fill="none"/>
<path d="M439.5 68.4h0M439.9 68.6h0" stroke="#671d97" stroke-width="1.6" stroke-linecap="round" fill="none"/>
<path d="M441.3 69.8h0M440.5 70h0" stroke="#852da8" stroke-width="1.6" stroke-linecap="round" fill="none"/>
<path d="M446.9 74.4h0" stroke="#ab2788" stroke-width="1.6" stroke-linecap="round" fill="none"/>
<path d="M436.8 63.1h0" stroke="#461f97" stroke-width="1.6" stroke-linecap="round" fill="none"/>
<path d="M442 73.4h0" stroke="#831e9a" stroke-width="1.6" stroke-linecap="round" fill="none"/>
<path d="M456.6 83.4h0" stroke="#d81e38" stroke-width="1.6" stroke-linecap="round" fill="none"/>
<path d="M432.5 55.6h0" stroke="#4e32a6" stroke-width="1.6" stroke-linecap="round" fill="none"/>
<path d="M459.5 87.6h0" stroke="#dd2539" stroke-width="1.6" stroke-linecap="round" fill="none"/>
<path d="M456.1 82.7h0" stroke="#d61a38" stroke-width="1.6" stroke-linecap="round" fill="none"/>
<path d="M453.6 81.6h0" stroke="#d6193a" stroke-width="1.6" stroke-linecap="round" fill="none"/>
<path d="M445.9 77.8h0" stroke="#b52173" stroke-width="1.6" stroke-linecap="round" fill="none"/>
<path d="M452.1 85.1h0" stroke="#d81b3c" stroke-width="1.6" stroke-linecap="round" fill="none"/>
<path d="M436.8 58.8h0" stroke="#442399" stroke-width="1.6" stroke-linecap="round" fill="none"/>
<path d="M440.2 64.7h0" stroke="#6232aa" stroke-width="1.6" stroke-linecap="round" fill="none"/>
<path d="M441.8 73.2h0M441.4 74.1h0" stroke="#821d99" stroke-width="1.6" stroke-linecap="round" fill="none"/>
<path d="M436.6 57.6h0" stroke="#47269c" stroke-width="1.6" stroke-linecap="round" fill="none"/>
<path d="M438.5 57.6h0" stroke="#412096" stroke-width="1.6" stroke-linecap="round" fill="none"/>
<path d="M437.7 63.4h0M433.4 64h0" stroke="#562fa7" stroke-width="1.6" stroke-linecap="round" fill="none"/>
<path d="M445.5 73.3h0" stroke="#992595" stroke-width="1.6" stroke-linecap="round" fill="none"/>
<path d="M443.1 75.3h0" stroke="#a22e9e" stroke-width="1.6" stroke-linecap="round" fill="none"/>
<path d="M434.2 54.7h0M431.2 55.2h0" stroke="#462a9e" stroke-width="1.6" stroke-linecap="round" fill="none"/>
<path d="M449.2 82.7h0" stroke="#dc2047" stroke-width="1.6" stroke-linecap="round" fill="none"/>
<path d="M438.8 69.7h0M439.9 68.4h0" stroke="#792fa9" stroke-width="1.6" stroke-linecap="round" fill="none"/>
<path d="M441.5 63h0" stroke="#5929a1" stroke-width="1.6" stroke-linecap="round" fill="none"/>
<path d="M441 68.9h0M438.6 71.1h0" stroke="#7d25a0" stroke-width="1.6" stroke-linecap="round" fill="none"/>
<path d="M446.4 73.7h0" stroke="#a52182" stroke-width="1.6" stroke-linecap="round" fill="none"/>
<path d="M433 53.6h0" stroke="#412599" stroke-width="1.6" stroke-linecap="round" fill="none"/>
<path d="M436.6 66h0" stroke="#6131a9" stroke-width="1.6" stroke-linecap="round" fill="none"/>
<path d="M443.1 74.3h0" stroke="#9b2797" stroke-width="1.6" stroke-linecap="round" fill="none"/>
<path d="M437.8 49.7h0" stroke="#442ea0" stroke-width="1.6" stroke-linecap="round" fill="none"/>
<path d="M445.5 78.7h0" stroke="#c42265" stroke-width="1.6" stroke-linecap="round" fill="none"/>
<path d="M441.7 74.5h0" stroke="#a12d9d" stroke-width="1.6" stroke-linecap="round" fill="none"/>
<path d="M450.4 85.7h0" stroke="#da1d3e" stroke-width="1.6" stroke-linecap="round" fill="none"/>
<path d="M438.8 72.3h0M440.8 71.6h0" stroke="#822aa5" stroke-width="1.6" stroke-linecap="round" fill="none"/>
<path d="M438.4 59h0M435.8 60h0M435.8 61.8h0" stroke="#512da3" stroke-width="1.6" stroke-linecap="round" fill="none"/>
<path d="M436.2 56.3h0" stroke="#44269a" stroke-width="1.6" stroke-linecap="round" fill="none"/>
<path d="M434.4 61.1h0" stroke="#5632a8" stroke-width="1.6" stroke-linecap="round" fill="none"/>
<path d="M431.3 58.5h0" stroke="#401f95" stroke-width="1.6" stroke-linecap="round" fill="none"/>
<path d="M446.7 70h0" stroke="#a02c9c" stroke-width="1.6" stroke-linecap="round" fill="none"/>
<path d="M430.9 47.6h0" stroke="#3e2c9c" stroke-width="1.6" stroke-linecap="round" fill="none"/>
<path d="M429 48.4h0" stroke="#402e9e" stroke-width="1.6" stroke-linecap="round" fill="none"/>
<path d="M432.3 47.1h0" stroke="#362696" stroke-width="1.6" stroke-linecap="round" fill="none"/>
<path d="M433.1 53h0" stroke="#3b2395" stroke-width="1.6" stroke-linecap="round" fill="none"/>
<path d="M435.1 57h0" stroke="#4e30a4" stroke-width="1.6" stroke-linecap="round" fill="none"/>
<path d="M444.5 70.8h0" stroke="#88239f" stroke-width="1.6" stroke-linecap="round" fill="none"/>
<path d="M460.9 85.3h0" stroke="#d71e35" stroke-width="1.6" stroke-linecap="round" fill="none"/>
<path d="M435 58.6h0" stroke="#5332a8" stroke-width="1.6" stroke-linecap="round" fill="none"/>
<path d="M440.4 72.9h0" stroke="#87229e" stroke-width="1.6" stroke-linecap="round" fill="none"/>
<path d="M453 93.9h0" stroke="#e1283f" stroke-width="1.6" stroke-linecap="round" fill="none"/>
<path d="M450.2 82.3h0" stroke="#d71b42" stroke-width="1.6" stroke-linecap="round" fill="none"/>
<path d="M453.1 79.7h0" stroke="#d81c43" stroke-width="1.6" stroke-linecap="round" fill="none"/>
<path d="M436.1 55.5h0" stroke="#492b9f" stroke-width="1.6" stroke-linecap="round" fill="none"/>
<path d="M440.6 71.5h0" stroke="#86219d" stroke-width="1.6" stroke-linecap="round" fill="none"/>
<path d="M439.9 75.9h0" stroke="#921e8e" stroke-width="1.6" stroke-linecap="round" fill="none"/>
<path d="M459.2 84.2h0" stroke="#cc132a" stroke-width="1.6" stroke-linecap="round" fill="none"/>
<path d="M444.8 73.2h0" stroke="#9c2898" stroke-width="1.6" stroke-linecap="round" fill="none"/>
<path d="M438 64.9h0" stroke="#5b2ba3" stroke-width="1.6" stroke-linecap="round" fill="none"/>
<path d="M440.2 65.9h0" stroke="#6528a1" stroke-width="1.6" stroke-linecap="round" fill="none"/>
<path d="M445.8 73.5h0" stroke="#a42081" stroke-width="1.6" stroke-linecap="round" fill="none"/>
<path d="M434.9 52h0M434.3 51.8h0" stroke="#3e2698" stroke-width="1.6" stroke-linecap="round" fill="none"/>
<path d="M434.3 73h0" stroke="#762ca6" stroke-width="1.6" stroke-linecap="round" fill="none"/>
<path d="M456.2 85.5h0" stroke="#e02640" stroke-width="1.6" stroke-linecap="round" fill="none"/>
<path d="M459.3 86.9h0" stroke="#db2239" stroke-width="1.6" stroke-linecap="round" fill="none"/>
<path d="M452 88.3h0" stroke="#d51937" stroke-width="1.6" stroke-linecap="round" fill="none"/>
<path d="M438.7 66.5h0" stroke="#7026a0" stroke-width="1.6" stroke-linecap="round" fill="none"/>
<path d="M439.1 64.2h0" stroke="#6629a2" stroke-width="1.6" stroke-linecap="round" fill="none"/>
<path d="M438.1 47.6h0" stroke="#3c2a9a" stroke-width="1.6" stroke-linecap="round" fill="none"/>
<defs><linearGradient id="pg" x1="0" y1="0" x2="0" y2="1"><stop offset="0" stop-color="#e01a2a"/><stop offset="0.5" stop-color="#8a2470"/><stop offset="1" stop-color="#3a3298"/></linearGradient></defs>
<path d="M494,45.9 L502.6,60.6 L496.9,60.6 L496.9,143.7 L491,143.7 L491,60.6 L485.2,60.6 Z" fill="url(#pg)"/>
<text x="487.2" y="94.4" font-size="10.5" fill="#000" text-anchor="middle" textLength="55" lengthAdjust="spacingAndGlyphs" transform="rotate(-90 487.2 94.4)">Pseudotime</text>
<text x="8.4" y="170.8" font-size="14.6" fill="#000" font-weight="bold">B</text>
<text x="79.4" y="179.8" font-size="10.8" fill="#000" text-anchor="middle" font-weight="bold">E</text>
<text x="230.5" y="179.8" font-size="10.8" fill="#000" text-anchor="middle" font-weight="bold">GM</text>
<text x="384.5" y="179.8" font-size="10.8" fill="#000" text-anchor="middle" font-weight="bold">L</text>
<rect x="27.3" y="185" width="3" height="4.2" fill="#5a3b8e"/>
<rect x="30.3" y="185" width="3" height="4.2" fill="#62449a"/>
<rect x="33.3" y="185" width="3" height="4.2" fill="#62449a"/>
<rect x="36.3" y="185" width="1.6" height="4.2" fill="#62449a"/>
<rect x="37.8" y="185" width="1.6" height="4.2" fill="#62449a"/>
<rect x="39.3" y="185" width="3" height="4.2" fill="#5a3b8e"/>
<rect x="42.3" y="185" width="1.6" height="4.2" fill="#5e3f92"/>
<rect x="43.8" y="185" width="1.1" height="4.2" fill="#563888"/>
<rect x="44.8" y="185" width="3" height="4.2" fill="#563888"/>
<rect x="47.8" y="185" width="2" height="4.2" fill="#5a3b8e"/>
<rect x="49.8" y="185" width="1.6" height="4.2" fill="#a08090"/>
<rect x="51.3" y="185" width="1.1" height="4.2" fill="#a08090"/>
<rect x="52.3" y="185" width="1.1" height="4.2" fill="#7a5a98"/>
<rect x="53.3" y="185" width="2.5" height="4.2" fill="#b09098"/>
<rect x="55.8" y="185" width="3" height="4.2" fill="#7a5a98"/>
<rect x="58.8" y="185" width="1.6" height="4.2" fill="#9ab8a0"/>
<rect x="60.3" y="185" width="1.1" height="4.2" fill="#9ab8a0"/>
<rect x="61.3" y="185" width="1.1" height="4.2" fill="#a8b0a0"/>
<rect x="62.3" y="185" width="1.1" height="4.2" fill="#a8b0a0"/>
<rect x="63.3" y="185" width="1.1" height="4.2" fill="#a8b0a0"/>
<rect x="64.3" y="185" width="1.6" height="4.2" fill="#b8b8b0"/>
<rect x="65.8" y="185" width="1.6" height="4.2" fill="#b8b8b0"/>
<rect x="67.3" y="185" width="1.1" height="4.2" fill="#9ab8a0"/>
<rect x="68.3" y="185" width="3" height="4.2" fill="#c89890"/>
<rect x="71.3" y="185" width="2" height="4.2" fill="#9ab8a0"/>
<rect x="73.3" y="185" width="3" height="4.2" fill="#d02830"/>
<rect x="76.3" y="185" width="1.6" height="4.2" fill="#e06068"/>
<rect x="77.8" y="185" width="1.6" height="4.2" fill="#dc2c34"/>
<rect x="79.3" y="185" width="2" height="4.2" fill="#d84048"/>
<rect x="81.3" y="185" width="3" height="4.2" fill="#dc2c34"/>
<rect x="84.3" y="185" width="1.1" height="4.2" fill="#d02830"/>
<rect x="85.3" y="185" width="1.1" height="4.2" fill="#d84048"/>
<rect x="86.3" y="185" width="3" height="4.2" fill="#d02830"/>
<rect x="89.3" y="185" width="2" height="4.2" fill="#dc2c34"/>
<rect x="91.3" y="185" width="2.5" height="4.2" fill="#d02830"/>
<rect x="93.8" y="185" width="1.1" height="4.2" fill="#d02830"/>
<rect x="94.8" y="185" width="2" height="4.2" fill="#dc2c34"/>
<rect x="96.8" y="185" width="2" height="4.2" fill="#dc2c34"/>
<rect x="98.8" y="185" width="1.6" height="4.2" fill="#e03a40"/>
<rect x="100.3" y="185" width="2" height="4.2" fill="#e06068"/>
<rect x="102.3" y="185" width="1.1" height="4.2" fill="#e03a40"/>
<rect x="103.3" y="185" width="1.1" height="4.2" fill="#dc2c34"/>
<rect x="104.3" y="185" width="1.1" height="4.2" fill="#dc2c34"/>
<rect x="105.3" y="185" width="2.5" height="4.2" fill="#dc2c34"/>
<rect x="107.8" y="185" width="1.1" height="4.2" fill="#d02830"/>
<rect x="108.8" y="185" width="2" height="4.2" fill="#e06068"/>
<rect x="110.8" y="185" width="2.5" height="4.2" fill="#d84048"/>
<rect x="113.3" y="185" width="1.1" height="4.2" fill="#e06068"/>
<rect x="114.3" y="185" width="1.1" height="4.2" fill="#dc2c34"/>
<rect x="115.3" y="185" width="1.1" height="4.2" fill="#dc2c34"/>
<rect x="116.3" y="185" width="1.6" height="4.2" fill="#dc2c34"/>
<rect x="117.8" y="185" width="1.5" height="4.2" fill="#dc2c34"/>
<rect x="27.3" y="191" width="3" height="11.8" fill="#c6b9ce"/>
<rect x="30.3" y="191" width="3" height="11.8" fill="#8d8dd1"/>
<rect x="33.3" y="191" width="3" height="11.8" fill="#dac8c9"/>
<rect x="36.3" y="191" width="1.6" height="11.8" fill="#e6ccb9"/>
<rect x="37.8" y="191" width="1.6" height="11.8" fill="#c0b4d0"/>
<rect x="39.3" y="191" width="3" height="11.8" fill="#9694d1"/>
<rect x="42.3" y="191" width="1.6" height="11.8" fill="#a9a2d2"/>
<rect x="43.8" y="191" width="1.1" height="11.8" fill="#ddcac9"/>
<rect x="44.8" y="191" width="3" height="11.8" fill="#8d8ed1"/>
<rect x="47.8" y="191" width="2" height="11.8" fill="#beb2d1"/>
<rect x="49.8" y="191" width="1.6" height="11.8" fill="#dcc9c9"/>
<rect x="51.3" y="191" width="1.1" height="11.8" fill="#9d9ad1"/>
<rect x="52.3" y="191" width="1.1" height="11.8" fill="#d8c6ca"/>
<rect x="53.3" y="191" width="2.5" height="11.8" fill="#e6ccb9"/>
<rect x="55.8" y="191" width="3" height="11.8" fill="#9e9bd1"/>
<rect x="58.8" y="191" width="1.6" height="11.8" fill="#c0b4d0"/>
<rect x="60.3" y="191" width="1.1" height="11.8" fill="#dcc9c9"/>
<rect x="61.3" y="191" width="1.1" height="11.8" fill="#b7add2"/>
<rect x="62.3" y="191" width="1.1" height="11.8" fill="#aba5d2"/>
<rect x="63.3" y="191" width="1.1" height="11.8" fill="#dac8c9"/>
<rect x="64.3" y="191" width="1.6" height="11.8" fill="#e2ccc2"/>
<rect x="65.8" y="191" width="1.6" height="11.8" fill="#a29dd1"/>
<rect x="67.3" y="191" width="1.1" height="11.8" fill="#dcc9c9"/>
<rect x="68.3" y="191" width="3" height="11.8" fill="#d4c3cb"/>
<rect x="71.3" y="191" width="2" height="11.8" fill="#e1ccc6"/>
<rect x="73.3" y="191" width="3" height="11.8" fill="#f89e1e"/>
<rect x="76.3" y="191" width="1.6" height="11.8" fill="#f89d1a"/>
<rect x="77.8" y="191" width="1.6" height="11.8" fill="#f7a229"/>
<rect x="79.3" y="191" width="2" height="11.8" fill="#f7a22a"/>
<rect x="81.3" y="191" width="3" height="11.8" fill="#f7a128"/>
<rect x="84.3" y="191" width="1.1" height="11.8" fill="#f89c19"/>
<rect x="85.3" y="191" width="1.1" height="11.8" fill="#f89f22"/>
<rect x="86.3" y="191" width="3" height="11.8" fill="#f89911"/>
<rect x="89.3" y="191" width="2" height="11.8" fill="#f89e1e"/>
<rect x="91.3" y="191" width="2.5" height="11.8" fill="#f89d1d"/>
<rect x="93.8" y="191" width="1.1" height="11.8" fill="#f8970b"/>
<rect x="94.8" y="191" width="2" height="11.8" fill="#f89c1a"/>
<rect x="96.8" y="191" width="2" height="11.8" fill="#f89c19"/>
<rect x="98.8" y="191" width="1.6" height="11.8" fill="#f8970b"/>
<rect x="100.3" y="191" width="2" height="11.8" fill="#f89609"/>
<rect x="102.3" y="191" width="1.1" height="11.8" fill="#f8a127"/>
<rect x="103.3" y="191" width="1.1" height="11.8" fill="#f89d1a"/>
<rect x="104.3" y="191" width="1.1" height="11.8" fill="#f89a14"/>
<rect x="105.3" y="191" width="2.5" height="11.8" fill="#f89b16"/>
<rect x="107.8" y="191" width="1.1" height="11.8" fill="#f7a229"/>
<rect x="108.8" y="191" width="2" height="11.8" fill="#f8a024"/>
<rect x="110.8" y="191" width="2.5" height="11.8" fill="#f8970b"/>
<rect x="113.3" y="191" width="1.1" height="11.8" fill="#f89911"/>
<rect x="114.3" y="191" width="1.1" height="11.8" fill="#f7a229"/>
<rect x="115.3" y="191" width="1.1" height="11.8" fill="#f89d1d"/>
<rect x="116.3" y="191" width="1.6" height="11.8" fill="#f89f23"/>
<rect x="117.8" y="191" width="1.5" height="11.8" fill="#f7a22a"/>
<rect x="27.3" y="202.7" width="3" height="11.8" fill="#161995"/>
<rect x="30.3" y="202.7" width="3" height="11.8" fill="#1b1f9b"/>
<rect x="33.3" y="202.7" width="3" height="11.8" fill="#242ba5"/>
<rect x="36.3" y="202.7" width="1.6" height="11.8" fill="#121491"/>
<rect x="37.8" y="202.7" width="1.6" height="11.8" fill="#131592"/>
<rect x="39.3" y="202.7" width="3" height="11.8" fill="#1a1d99"/>
<rect x="42.3" y="202.7" width="1.6" height="11.8" fill="#171a96"/>
<rect x="43.8" y="202.7" width="1.1" height="11.8" fill="#2025a0"/>
<rect x="44.8" y="202.7" width="3" height="11.8" fill="#1b1f9b"/>
<rect x="47.8" y="202.7" width="2" height="11.8" fill="#e9ccb0"/>
<rect x="49.8" y="202.7" width="1.6" height="11.8" fill="#bcb1d1"/>
<rect x="51.3" y="202.7" width="1.1" height="11.8" fill="#e8ccb3"/>
<rect x="52.3" y="202.7" width="1.1" height="11.8" fill="#a29ed1"/>
<rect x="53.3" y="202.7" width="2.5" height="11.8" fill="#8789d0"/>
<rect x="55.8" y="202.7" width="3" height="11.8" fill="#7d81d0"/>
<rect x="58.8" y="202.7" width="1.6" height="11.8" fill="#4b54bd"/>
<rect x="60.3" y="202.7" width="1.1" height="11.8" fill="#beb2d1"/>
<rect x="61.3" y="202.7" width="1.1" height="11.8" fill="#535bc0"/>
<rect x="62.3" y="202.7" width="1.1" height="11.8" fill="#5159c0"/>
<rect x="63.3" y="202.7" width="1.1" height="11.8" fill="#7c81d0"/>
<rect x="64.3" y="202.7" width="1.6" height="11.8" fill="#5d65c5"/>
<rect x="65.8" y="202.7" width="1.6" height="11.8" fill="#525ac0"/>
<rect x="67.3" y="202.7" width="1.1" height="11.8" fill="#9d9ad1"/>
<rect x="68.3" y="202.7" width="3" height="11.8" fill="#8a8bd1"/>
<rect x="71.3" y="202.7" width="2" height="11.8" fill="#4d56be"/>
<rect x="73.3" y="202.7" width="3" height="11.8" fill="#e9ccb1"/>
<rect x="76.3" y="202.7" width="1.6" height="11.8" fill="#d8c6ca"/>
<rect x="77.8" y="202.7" width="1.6" height="11.8" fill="#5c64c4"/>
<rect x="79.3" y="202.7" width="2" height="11.8" fill="#5c64c4"/>
<rect x="81.3" y="202.7" width="3" height="11.8" fill="#2830a9"/>
<rect x="84.3" y="202.7" width="1.1" height="11.8" fill="#1f249f"/>
<rect x="85.3" y="202.7" width="1.1" height="11.8" fill="#2d37af"/>
<rect x="86.3" y="202.7" width="3" height="11.8" fill="#1f239e"/>
<rect x="89.3" y="202.7" width="2" height="11.8" fill="#5159c0"/>
<rect x="91.3" y="202.7" width="2.5" height="11.8" fill="#5a62c4"/>
<rect x="93.8" y="202.7" width="1.1" height="11.8" fill="#1d219c"/>
<rect x="94.8" y="202.7" width="2" height="11.8" fill="#2e38b0"/>
<rect x="96.8" y="202.7" width="2" height="11.8" fill="#1c209c"/>
<rect x="98.8" y="202.7" width="1.6" height="11.8" fill="#3c46b7"/>
<rect x="100.3" y="202.7" width="2" height="11.8" fill="#2a32ab"/>
<rect x="102.3" y="202.7" width="1.1" height="11.8" fill="#1c209c"/>
<rect x="103.3" y="202.7" width="1.1" height="11.8" fill="#1e239e"/>
<rect x="104.3" y="202.7" width="1.1" height="11.8" fill="#1f249f"/>
<rect x="105.3" y="202.7" width="2.5" height="11.8" fill="#2025a0"/>
<rect x="107.8" y="202.7" width="1.1" height="11.8" fill="#252ca6"/>
<rect x="108.8" y="202.7" width="2" height="11.8" fill="#2b34ad"/>
<rect x="110.8" y="202.7" width="2.5" height="11.8" fill="#2830a9"/>
<rect x="113.3" y="202.7" width="1.1" height="11.8" fill="#5961c3"/>
<rect x="114.3" y="202.7" width="1.1" height="11.8" fill="#4049b9"/>
<rect x="115.3" y="202.7" width="1.1" height="11.8" fill="#2d36ae"/>
<rect x="116.3" y="202.7" width="1.6" height="11.8" fill="#2d36af"/>
<rect x="117.8" y="202.7" width="1.5" height="11.8" fill="#303ab2"/>
<rect x="27.3" y="214.4" width="3" height="11.8" fill="#f5b966"/>
<rect x="30.3" y="214.4" width="3" height="11.8" fill="#f5b966"/>
<rect x="33.3" y="214.4" width="3" height="11.8" fill="#f4c482"/>
<rect x="36.3" y="214.4" width="1.6" height="11.8" fill="#efcc9f"/>
<rect x="37.8" y="214.4" width="1.6" height="11.8" fill="#eccca7"/>
<rect x="39.3" y="214.4" width="3" height="11.8" fill="#f7a430"/>
<rect x="42.3" y="214.4" width="1.6" height="11.8" fill="#f1cc9c"/>
<rect x="43.8" y="214.4" width="1.1" height="11.8" fill="#f7ab43"/>
<rect x="44.8" y="214.4" width="3" height="11.8" fill="#f6b152"/>
<rect x="47.8" y="214.4" width="2" height="11.8" fill="#f5ba6a"/>
<rect x="49.8" y="214.4" width="1.6" height="11.8" fill="#f7a636"/>
<rect x="51.3" y="214.4" width="1.1" height="11.8" fill="#f4c17a"/>
<rect x="52.3" y="214.4" width="1.1" height="11.8" fill="#f2cc99"/>
<rect x="53.3" y="214.4" width="2.5" height="11.8" fill="#f6b459"/>
<rect x="55.8" y="214.4" width="3" height="11.8" fill="#f5b966"/>
<rect x="58.8" y="214.4" width="1.6" height="11.8" fill="#f7ac46"/>
<rect x="60.3" y="214.4" width="1.1" height="11.8" fill="#f4c27e"/>
<rect x="61.3" y="214.4" width="1.1" height="11.8" fill="#f7a533"/>
<rect x="62.3" y="214.4" width="1.1" height="11.8" fill="#f5ba69"/>
<rect x="63.3" y="214.4" width="1.1" height="11.8" fill="#f4c88c"/>
<rect x="64.3" y="214.4" width="1.6" height="11.8" fill="#f5bf75"/>
<rect x="65.8" y="214.4" width="1.6" height="11.8" fill="#f4c78a"/>
<rect x="67.3" y="214.4" width="1.1" height="11.8" fill="#f6b256"/>
<rect x="68.3" y="214.4" width="3" height="11.8" fill="#f7aa40"/>
<rect x="71.3" y="214.4" width="2" height="11.8" fill="#f7ac46"/>
<rect x="73.3" y="214.4" width="3" height="11.8" fill="#f3ca91"/>
<rect x="76.3" y="214.4" width="1.6" height="11.8" fill="#f3c98f"/>
<rect x="77.8" y="214.4" width="1.6" height="11.8" fill="#f3c98f"/>
<rect x="79.3" y="214.4" width="2" height="11.8" fill="#f7a634"/>
<rect x="81.3" y="214.4" width="3" height="11.8" fill="#f3ca90"/>
<rect x="84.3" y="214.4" width="1.1" height="11.8" fill="#f2cc9a"/>
<rect x="85.3" y="214.4" width="1.1" height="11.8" fill="#f4c27d"/>
<rect x="86.3" y="214.4" width="3" height="11.8" fill="#f7a737"/>
<rect x="89.3" y="214.4" width="2" height="11.8" fill="#edcca5"/>
<rect x="91.3" y="214.4" width="2.5" height="11.8" fill="#eecca2"/>
<rect x="93.8" y="214.4" width="1.1" height="11.8" fill="#f7a32e"/>
<rect x="94.8" y="214.4" width="2" height="11.8" fill="#f7a93e"/>
<rect x="96.8" y="214.4" width="2" height="11.8" fill="#f1cc9c"/>
<rect x="98.8" y="214.4" width="1.6" height="11.8" fill="#f5bb6c"/>
<rect x="100.3" y="214.4" width="2" height="11.8" fill="#f7a533"/>
<rect x="102.3" y="214.4" width="1.1" height="11.8" fill="#f7a93d"/>
<rect x="103.3" y="214.4" width="1.1" height="11.8" fill="#f4c078"/>
<rect x="104.3" y="214.4" width="1.1" height="11.8" fill="#f5b966"/>
<rect x="105.3" y="214.4" width="2.5" height="11.8" fill="#f6b051"/>
<rect x="107.8" y="214.4" width="1.1" height="11.8" fill="#f7ae4b"/>
<rect x="108.8" y="214.4" width="2" height="11.8" fill="#f7a93c"/>
<rect x="110.8" y="214.4" width="2.5" height="11.8" fill="#f6b357"/>
<rect x="113.3" y="214.4" width="1.1" height="11.8" fill="#f4c481"/>
<rect x="114.3" y="214.4" width="1.1" height="11.8" fill="#f7a93e"/>
<rect x="115.3" y="214.4" width="1.1" height="11.8" fill="#f4c687"/>
<rect x="116.3" y="214.4" width="1.6" height="11.8" fill="#f6b45a"/>
<rect x="117.8" y="214.4" width="1.5" height="11.8" fill="#f7b050"/>
<rect x="27.3" y="226.2" width="3" height="11.8" fill="#f89b15"/>
<rect x="30.3" y="226.2" width="3" height="11.8" fill="#f89a13"/>
<rect x="33.3" y="226.2" width="3" height="11.8" fill="#f8980e"/>
<rect x="36.3" y="226.2" width="1.6" height="11.8" fill="#f89910"/>
<rect x="37.8" y="226.2" width="1.6" height="11.8" fill="#f8980e"/>
<rect x="39.3" y="226.2" width="3" height="11.8" fill="#f89a13"/>
<rect x="42.3" y="226.2" width="1.6" height="11.8" fill="#f89b16"/>
<rect x="43.8" y="226.2" width="1.1" height="11.8" fill="#f8970c"/>
<rect x="44.8" y="226.2" width="3" height="11.8" fill="#f89b15"/>
<rect x="47.8" y="226.2" width="2" height="11.8" fill="#f8970c"/>
<rect x="49.8" y="226.2" width="1.6" height="11.8" fill="#f8970c"/>
<rect x="51.3" y="226.2" width="1.1" height="11.8" fill="#f89608"/>
<rect x="52.3" y="226.2" width="1.1" height="11.8" fill="#f89c18"/>
<rect x="53.3" y="226.2" width="2.5" height="11.8" fill="#edcca6"/>
<rect x="55.8" y="226.2" width="3" height="11.8" fill="#575fc2"/>
<rect x="58.8" y="226.2" width="1.6" height="11.8" fill="#6169c7"/>
<rect x="60.3" y="226.2" width="1.1" height="11.8" fill="#4750bc"/>
<rect x="61.3" y="226.2" width="1.1" height="11.8" fill="#2e38b0"/>
<rect x="62.3" y="226.2" width="1.1" height="11.8" fill="#3741b5"/>
<rect x="63.3" y="226.2" width="1.1" height="11.8" fill="#7379ce"/>
<rect x="64.3" y="226.2" width="1.6" height="11.8" fill="#3d46b7"/>
<rect x="65.8" y="226.2" width="1.6" height="11.8" fill="#696fca"/>
<rect x="67.3" y="226.2" width="1.1" height="11.8" fill="#6c73cb"/>
<rect x="68.3" y="226.2" width="3" height="11.8" fill="#575fc2"/>
<rect x="71.3" y="226.2" width="2" height="11.8" fill="#2d36af"/>
<rect x="73.3" y="226.2" width="3" height="11.8" fill="#3a43b6"/>
<rect x="76.3" y="226.2" width="1.6" height="11.8" fill="#6f75cc"/>
<rect x="77.8" y="226.2" width="1.6" height="11.8" fill="#5860c3"/>
<rect x="79.3" y="226.2" width="2" height="11.8" fill="#8185d0"/>
<rect x="81.3" y="226.2" width="3" height="11.8" fill="#545cc1"/>
<rect x="84.3" y="226.2" width="1.1" height="11.8" fill="#888ad0"/>
<rect x="85.3" y="226.2" width="1.1" height="11.8" fill="#333db3"/>
<rect x="86.3" y="226.2" width="3" height="11.8" fill="#757ccf"/>
<rect x="89.3" y="226.2" width="2" height="11.8" fill="#676ec9"/>
<rect x="91.3" y="226.2" width="2.5" height="11.8" fill="#3943b6"/>
<rect x="93.8" y="226.2" width="1.1" height="11.8" fill="#4b54bd"/>
<rect x="94.8" y="226.2" width="2" height="11.8" fill="#7a80d0"/>
<rect x="96.8" y="226.2" width="2" height="11.8" fill="#4952bd"/>
<rect x="98.8" y="226.2" width="1.6" height="11.8" fill="#4f58bf"/>
<rect x="100.3" y="226.2" width="2" height="11.8" fill="#3741b5"/>
<rect x="102.3" y="226.2" width="1.1" height="11.8" fill="#7a7fd0"/>
<rect x="103.3" y="226.2" width="1.1" height="11.8" fill="#2c35ae"/>
<rect x="104.3" y="226.2" width="1.1" height="11.8" fill="#5961c3"/>
<rect x="105.3" y="226.2" width="2.5" height="11.8" fill="#636ac7"/>
<rect x="107.8" y="226.2" width="1.1" height="11.8" fill="#545cc1"/>
<rect x="108.8" y="226.2" width="2" height="11.8" fill="#7379ce"/>
<rect x="110.8" y="226.2" width="2.5" height="11.8" fill="#454ebb"/>
<rect x="113.3" y="226.2" width="1.1" height="11.8" fill="#434cba"/>
<rect x="114.3" y="226.2" width="1.1" height="11.8" fill="#8688d0"/>
<rect x="115.3" y="226.2" width="1.1" height="11.8" fill="#2f39b1"/>
<rect x="116.3" y="226.2" width="1.6" height="11.8" fill="#777dd0"/>
<rect x="117.8" y="226.2" width="1.5" height="11.8" fill="#7177cd"/>
<rect x="27.3" y="237.9" width="3" height="11.8" fill="#f6b65f"/>
<rect x="30.3" y="237.9" width="3" height="11.8" fill="#b8aed2"/>
<rect x="33.3" y="237.9" width="3" height="11.8" fill="#d1c1cc"/>
<rect x="36.3" y="237.9" width="1.6" height="11.8" fill="#e5ccbc"/>
<rect x="37.8" y="237.9" width="1.6" height="11.8" fill="#aea7d2"/>
<rect x="39.3" y="237.9" width="3" height="11.8" fill="#dfccc8"/>
<rect x="42.3" y="237.9" width="1.6" height="11.8" fill="#f6b256"/>
<rect x="43.8" y="237.9" width="1.1" height="11.8" fill="#f6b65e"/>
<rect x="44.8" y="237.9" width="3" height="11.8" fill="#d5c4cb"/>
<rect x="47.8" y="237.9" width="2" height="11.8" fill="#f4c585"/>
<rect x="49.8" y="237.9" width="1.6" height="11.8" fill="#9c99d1"/>
<rect x="51.3" y="237.9" width="1.1" height="11.8" fill="#f5b968"/>
<rect x="52.3" y="237.9" width="1.1" height="11.8" fill="#f1cc9c"/>
<rect x="53.3" y="237.9" width="2.5" height="11.8" fill="#f4c17a"/>
<rect x="55.8" y="237.9" width="3" height="11.8" fill="#f5bd71"/>
<rect x="58.8" y="237.9" width="1.6" height="11.8" fill="#f4c482"/>
<rect x="60.3" y="237.9" width="1.1" height="11.8" fill="#f7a83b"/>
<rect x="61.3" y="237.9" width="1.1" height="11.8" fill="#f4c788"/>
<rect x="62.3" y="237.9" width="1.1" height="11.8" fill="#f7aa40"/>
<rect x="63.3" y="237.9" width="1.1" height="11.8" fill="#f5bd70"/>
<rect x="64.3" y="237.9" width="1.6" height="11.8" fill="#f1cc9c"/>
<rect x="65.8" y="237.9" width="1.6" height="11.8" fill="#f5b865"/>
<rect x="67.3" y="237.9" width="1.1" height="11.8" fill="#f6b153"/>
<rect x="68.3" y="237.9" width="3" height="11.8" fill="#f7a83c"/>
<rect x="71.3" y="237.9" width="2" height="11.8" fill="#f5bb6c"/>
<rect x="73.3" y="237.9" width="3" height="11.8" fill="#f7a634"/>
<rect x="76.3" y="237.9" width="1.6" height="11.8" fill="#f7a93d"/>
<rect x="77.8" y="237.9" width="1.6" height="11.8" fill="#f5b966"/>
<rect x="79.3" y="237.9" width="2" height="11.8" fill="#f6b254"/>
<rect x="81.3" y="237.9" width="3" height="11.8" fill="#f5bc6f"/>
<rect x="84.3" y="237.9" width="1.1" height="11.8" fill="#f7a93f"/>
<rect x="85.3" y="237.9" width="1.1" height="11.8" fill="#f6b65f"/>
<rect x="86.3" y="237.9" width="3" height="11.8" fill="#f6b153"/>
<rect x="89.3" y="237.9" width="2" height="11.8" fill="#f7ae4b"/>
<rect x="91.3" y="237.9" width="2.5" height="11.8" fill="#f5bc6f"/>
<rect x="93.8" y="237.9" width="1.1" height="11.8" fill="#f6b762"/>
<rect x="94.8" y="237.9" width="2" height="11.8" fill="#f7ab43"/>
<rect x="96.8" y="237.9" width="2" height="11.8" fill="#f6b761"/>
<rect x="98.8" y="237.9" width="1.6" height="11.8" fill="#f3c98f"/>
<rect x="100.3" y="237.9" width="2" height="11.8" fill="#f5b967"/>
<rect x="102.3" y="237.9" width="1.1" height="11.8" fill="#f7a93d"/>
<rect x="103.3" y="237.9" width="1.1" height="11.8" fill="#f4c584"/>
<rect x="104.3" y="237.9" width="1.1" height="11.8" fill="#f6b255"/>
<rect x="105.3" y="237.9" width="2.5" height="11.8" fill="#f7a738"/>
<rect x="107.8" y="237.9" width="1.1" height="11.8" fill="#f7aa40"/>
<rect x="108.8" y="237.9" width="2" height="11.8" fill="#f6b55c"/>
<rect x="110.8" y="237.9" width="2.5" height="11.8" fill="#f4c37f"/>
<rect x="113.3" y="237.9" width="1.1" height="11.8" fill="#f3ca91"/>
<rect x="114.3" y="237.9" width="1.1" height="11.8" fill="#f6b863"/>
<rect x="115.3" y="237.9" width="1.1" height="11.8" fill="#f4c482"/>
<rect x="116.3" y="237.9" width="1.6" height="11.8" fill="#f5ba69"/>
<rect x="117.8" y="237.9" width="1.5" height="11.8" fill="#f5be72"/>
<rect x="27.3" y="249.6" width="3" height="11.8" fill="#f7aa40"/>
<rect x="30.3" y="249.6" width="3" height="11.8" fill="#f7ac46"/>
<rect x="33.3" y="249.6" width="3" height="11.8" fill="#f7a532"/>
<rect x="36.3" y="249.6" width="1.6" height="11.8" fill="#f7a229"/>
<rect x="37.8" y="249.6" width="1.6" height="11.8" fill="#f7ab44"/>
<rect x="39.3" y="249.6" width="3" height="11.8" fill="#f89b15"/>
<rect x="42.3" y="249.6" width="1.6" height="11.8" fill="#f7a229"/>
<rect x="43.8" y="249.6" width="1.1" height="11.8" fill="#f89911"/>
<rect x="44.8" y="249.6" width="3" height="11.8" fill="#f7aa40"/>
<rect x="47.8" y="249.6" width="2" height="11.8" fill="#f7aa41"/>
<rect x="49.8" y="249.6" width="1.6" height="11.8" fill="#f7a93d"/>
<rect x="51.3" y="249.6" width="1.1" height="11.8" fill="#f89a15"/>
<rect x="52.3" y="249.6" width="1.1" height="11.8" fill="#f7a32e"/>
<rect x="53.3" y="249.6" width="2.5" height="11.8" fill="#f89b15"/>
<rect x="55.8" y="249.6" width="3" height="11.8" fill="#f7a738"/>
<rect x="58.8" y="249.6" width="1.6" height="11.8" fill="#f5ba6a"/>
<rect x="60.3" y="249.6" width="1.1" height="11.8" fill="#f4c380"/>
<rect x="61.3" y="249.6" width="1.1" height="11.8" fill="#f6b65e"/>
<rect x="62.3" y="249.6" width="1.1" height="11.8" fill="#f5be73"/>
<rect x="63.3" y="249.6" width="1.1" height="11.8" fill="#f7a32d"/>
<rect x="64.3" y="249.6" width="1.6" height="11.8" fill="#f7a229"/>
<rect x="65.8" y="249.6" width="1.6" height="11.8" fill="#f7a22b"/>
<rect x="67.3" y="249.6" width="1.1" height="11.8" fill="#f6b459"/>
<rect x="68.3" y="249.6" width="3" height="11.8" fill="#f3cb93"/>
<rect x="71.3" y="249.6" width="2" height="11.8" fill="#f5ba68"/>
<rect x="73.3" y="249.6" width="3" height="11.8" fill="#f1cc9c"/>
<rect x="76.3" y="249.6" width="1.6" height="11.8" fill="#f4c27e"/>
<rect x="77.8" y="249.6" width="1.6" height="11.8" fill="#f7ab42"/>
<rect x="79.3" y="249.6" width="2" height="11.8" fill="#f8a025"/>
<rect x="81.3" y="249.6" width="3" height="11.8" fill="#f1cc9c"/>
<rect x="84.3" y="249.6" width="1.1" height="11.8" fill="#7278cd"/>
<rect x="85.3" y="249.6" width="1.1" height="11.8" fill="#5d64c5"/>
<rect x="86.3" y="249.6" width="3" height="11.8" fill="#888ad1"/>
<rect x="89.3" y="249.6" width="2" height="11.8" fill="#d6c5ca"/>
<rect x="91.3" y="249.6" width="2.5" height="11.8" fill="#8184d0"/>
<rect x="93.8" y="249.6" width="1.1" height="11.8" fill="#b1a9d2"/>
<rect x="94.8" y="249.6" width="2" height="11.8" fill="#b2a9d2"/>
<rect x="96.8" y="249.6" width="2" height="11.8" fill="#c0b4d0"/>
<rect x="98.8" y="249.6" width="1.6" height="11.8" fill="#e3ccc0"/>
<rect x="100.3" y="249.6" width="2" height="11.8" fill="#c6b9ce"/>
<rect x="102.3" y="249.6" width="1.1" height="11.8" fill="#d5c4cb"/>
<rect x="103.3" y="249.6" width="1.1" height="11.8" fill="#d3c2cb"/>
<rect x="104.3" y="249.6" width="1.1" height="11.8" fill="#e4ccbd"/>
<rect x="105.3" y="249.6" width="2.5" height="11.8" fill="#5f66c5"/>
<rect x="107.8" y="249.6" width="1.1" height="11.8" fill="#c8bace"/>
<rect x="108.8" y="249.6" width="2" height="11.8" fill="#e2ccc3"/>
<rect x="110.8" y="249.6" width="2.5" height="11.8" fill="#c5b8cf"/>
<rect x="113.3" y="249.6" width="1.1" height="11.8" fill="#b9afd2"/>
<rect x="114.3" y="249.6" width="1.1" height="11.8" fill="#e4ccbe"/>
<rect x="115.3" y="249.6" width="1.1" height="11.8" fill="#b8aed2"/>
<rect x="116.3" y="249.6" width="1.6" height="11.8" fill="#7c81d0"/>
<rect x="117.8" y="249.6" width="1.5" height="11.8" fill="#7b80d0"/>
<rect x="27.3" y="261.3" width="3" height="11.8" fill="#121390"/>
<rect x="30.3" y="261.3" width="3" height="11.8" fill="#121390"/>
<rect x="33.3" y="261.3" width="3" height="11.8" fill="#0f0f8d"/>
<rect x="36.3" y="261.3" width="1.6" height="11.8" fill="#141693"/>
<rect x="37.8" y="261.3" width="1.6" height="11.8" fill="#121491"/>
<rect x="39.3" y="261.3" width="3" height="11.8" fill="#10118f"/>
<rect x="42.3" y="261.3" width="1.6" height="11.8" fill="#0f108d"/>
<rect x="43.8" y="261.3" width="1.1" height="11.8" fill="#121391"/>
<rect x="44.8" y="261.3" width="3" height="11.8" fill="#141693"/>
<rect x="47.8" y="261.3" width="2" height="11.8" fill="#0f108d"/>
<rect x="49.8" y="261.3" width="1.6" height="11.8" fill="#131592"/>
<rect x="51.3" y="261.3" width="1.1" height="11.8" fill="#0f108d"/>
<rect x="52.3" y="261.3" width="1.1" height="11.8" fill="#0f0f8d"/>
<rect x="53.3" y="261.3" width="2.5" height="11.8" fill="#141693"/>
<rect x="55.8" y="261.3" width="3" height="11.8" fill="#f7a32d"/>
<rect x="58.8" y="261.3" width="1.6" height="11.8" fill="#f7a42f"/>
<rect x="60.3" y="261.3" width="1.1" height="11.8" fill="#f89f22"/>
<rect x="61.3" y="261.3" width="1.1" height="11.8" fill="#f89f20"/>
<rect x="62.3" y="261.3" width="1.1" height="11.8" fill="#f8970b"/>
<rect x="63.3" y="261.3" width="1.1" height="11.8" fill="#f89d1b"/>
<rect x="64.3" y="261.3" width="1.6" height="11.8" fill="#f89a15"/>
<rect x="65.8" y="261.3" width="1.6" height="11.8" fill="#f7a22a"/>
<rect x="67.3" y="261.3" width="1.1" height="11.8" fill="#f89c18"/>
<rect x="68.3" y="261.3" width="3" height="11.8" fill="#f89911"/>
<rect x="71.3" y="261.3" width="2" height="11.8" fill="#f7a42e"/>
<rect x="73.3" y="261.3" width="3" height="11.8" fill="#f89c1a"/>
<rect x="76.3" y="261.3" width="1.6" height="11.8" fill="#f8a023"/>
<rect x="77.8" y="261.3" width="1.6" height="11.8" fill="#f89910"/>
<rect x="79.3" y="261.3" width="2" height="11.8" fill="#f8a023"/>
<rect x="81.3" y="261.3" width="3" height="11.8" fill="#f89a15"/>
<rect x="84.3" y="261.3" width="1.1" height="11.8" fill="#f89c18"/>
<rect x="85.3" y="261.3" width="1.1" height="11.8" fill="#f8a024"/>
<rect x="86.3" y="261.3" width="3" height="11.8" fill="#f89608"/>
<rect x="89.3" y="261.3" width="2" height="11.8" fill="#f8990f"/>
<rect x="91.3" y="261.3" width="2.5" height="11.8" fill="#f89910"/>
<rect x="93.8" y="261.3" width="1.1" height="11.8" fill="#f89e1e"/>
<rect x="94.8" y="261.3" width="2" height="11.8" fill="#f7a531"/>
<rect x="96.8" y="261.3" width="2" height="11.8" fill="#f89a12"/>
<rect x="98.8" y="261.3" width="1.6" height="11.8" fill="#f89c18"/>
<rect x="100.3" y="261.3" width="2" height="11.8" fill="#f8970c"/>
<rect x="102.3" y="261.3" width="1.1" height="11.8" fill="#f3c98e"/>
<rect x="103.3" y="261.3" width="1.1" height="11.8" fill="#e2ccc4"/>
<rect x="104.3" y="261.3" width="1.1" height="11.8" fill="#d4c3cb"/>
<rect x="105.3" y="261.3" width="2.5" height="11.8" fill="#e0ccc7"/>
<rect x="107.8" y="261.3" width="1.1" height="11.8" fill="#decac9"/>
<rect x="108.8" y="261.3" width="2" height="11.8" fill="#e8ccb3"/>
<rect x="110.8" y="261.3" width="2.5" height="11.8" fill="#f5b967"/>
<rect x="113.3" y="261.3" width="1.1" height="11.8" fill="#f4c17a"/>
<rect x="114.3" y="261.3" width="1.1" height="11.8" fill="#d8c6ca"/>
<rect x="115.3" y="261.3" width="1.1" height="11.8" fill="#f5b965"/>
<rect x="116.3" y="261.3" width="1.6" height="11.8" fill="#cbbccd"/>
<rect x="117.8" y="261.3" width="1.5" height="11.8" fill="#cfbfcc"/>
<rect x="27.3" y="273.1" width="3" height="11.8" fill="#f5bf75"/>
<rect x="30.3" y="273.1" width="3" height="11.8" fill="#f5bd71"/>
<rect x="33.3" y="273.1" width="3" height="11.8" fill="#f4c079"/>
<rect x="36.3" y="273.1" width="1.6" height="11.8" fill="#f4c789"/>
<rect x="37.8" y="273.1" width="1.6" height="11.8" fill="#f5c077"/>
<rect x="39.3" y="273.1" width="3" height="11.8" fill="#f6b459"/>
<rect x="42.3" y="273.1" width="1.6" height="11.8" fill="#f1cc9c"/>
<rect x="43.8" y="273.1" width="1.1" height="11.8" fill="#f4c78b"/>
<rect x="44.8" y="273.1" width="3" height="11.8" fill="#f5be73"/>
<rect x="47.8" y="273.1" width="2" height="11.8" fill="#f4c078"/>
<rect x="49.8" y="273.1" width="1.6" height="11.8" fill="#f5c077"/>
<rect x="51.3" y="273.1" width="1.1" height="11.8" fill="#f7a83b"/>
<rect x="52.3" y="273.1" width="1.1" height="11.8" fill="#f6b55c"/>
<rect x="53.3" y="273.1" width="2.5" height="11.8" fill="#f3cc97"/>
<rect x="55.8" y="273.1" width="3" height="11.8" fill="#151794"/>
<rect x="58.8" y="273.1" width="1.6" height="11.8" fill="#11128f"/>
<rect x="60.3" y="273.1" width="1.1" height="11.8" fill="#0f0f8d"/>
<rect x="61.3" y="273.1" width="1.1" height="11.8" fill="#151794"/>
<rect x="62.3" y="273.1" width="1.1" height="11.8" fill="#151894"/>
<rect x="63.3" y="273.1" width="1.1" height="11.8" fill="#161895"/>
<rect x="64.3" y="273.1" width="1.6" height="11.8" fill="#161895"/>
<rect x="65.8" y="273.1" width="1.6" height="11.8" fill="#131491"/>
<rect x="67.3" y="273.1" width="1.1" height="11.8" fill="#10108e"/>
<rect x="68.3" y="273.1" width="3" height="11.8" fill="#131492"/>
<rect x="71.3" y="273.1" width="2" height="11.8" fill="#11128f"/>
<rect x="73.3" y="273.1" width="3" height="11.8" fill="#141693"/>
<rect x="76.3" y="273.1" width="1.6" height="11.8" fill="#10118f"/>
<rect x="77.8" y="273.1" width="1.6" height="11.8" fill="#0f0f8d"/>
<rect x="79.3" y="273.1" width="2" height="11.8" fill="#141693"/>
<rect x="81.3" y="273.1" width="3" height="11.8" fill="#0f108e"/>
<rect x="84.3" y="273.1" width="1.1" height="11.8" fill="#161895"/>
<rect x="85.3" y="273.1" width="1.1" height="11.8" fill="#0f0f8d"/>
<rect x="86.3" y="273.1" width="3" height="11.8" fill="#11128f"/>
<rect x="89.3" y="273.1" width="2" height="11.8" fill="#131491"/>
<rect x="91.3" y="273.1" width="2.5" height="11.8" fill="#111290"/>
<rect x="93.8" y="273.1" width="1.1" height="11.8" fill="#121390"/>
<rect x="94.8" y="273.1" width="2" height="11.8" fill="#10108e"/>
<rect x="96.8" y="273.1" width="2" height="11.8" fill="#10108e"/>
<rect x="98.8" y="273.1" width="1.6" height="11.8" fill="#10108e"/>
<rect x="100.3" y="273.1" width="2" height="11.8" fill="#151794"/>
<rect x="102.3" y="273.1" width="1.1" height="11.8" fill="#11118f"/>
<rect x="103.3" y="273.1" width="1.1" height="11.8" fill="#0f0f8d"/>
<rect x="104.3" y="273.1" width="1.1" height="11.8" fill="#161894"/>
<rect x="105.3" y="273.1" width="2.5" height="11.8" fill="#161995"/>
<rect x="107.8" y="273.1" width="1.1" height="11.8" fill="#161895"/>
<rect x="108.8" y="273.1" width="2" height="11.8" fill="#0e0f8c"/>
<rect x="110.8" y="273.1" width="2.5" height="11.8" fill="#10118f"/>
<rect x="113.3" y="273.1" width="1.1" height="11.8" fill="#161995"/>
<rect x="114.3" y="273.1" width="1.1" height="11.8" fill="#11118f"/>
<rect x="115.3" y="273.1" width="1.1" height="11.8" fill="#10108e"/>
<rect x="116.3" y="273.1" width="1.6" height="11.8" fill="#111290"/>
<rect x="117.8" y="273.1" width="1.5" height="11.8" fill="#10108e"/>
<rect x="178.5" y="185" width="3" height="4.2" fill="#563888"/>
<rect x="181.5" y="185" width="2" height="4.2" fill="#5a3b8e"/>
<rect x="183.5" y="185" width="2" height="4.2" fill="#563888"/>
<rect x="185.5" y="185" width="1.6" height="4.2" fill="#5e3f92"/>
<rect x="187" y="185" width="2.5" height="4.2" fill="#563888"/>
<rect x="189.5" y="185" width="1.1" height="4.2" fill="#563888"/>
<rect x="190.5" y="185" width="2" height="4.2" fill="#563888"/>
<rect x="192.5" y="185" width="3" height="4.2" fill="#5e3f92"/>
<rect x="195.5" y="185" width="2" height="4.2" fill="#5a3b8e"/>
<rect x="197.5" y="185" width="3" height="4.2" fill="#62449a"/>
<rect x="200.5" y="185" width="1.6" height="4.2" fill="#62449a"/>
<rect x="202" y="185" width="1.1" height="4.2" fill="#5a3b8e"/>
<rect x="203" y="185" width="1.6" height="4.2" fill="#5a3b8e"/>
<rect x="204.5" y="185" width="3" height="4.2" fill="#5e3f92"/>
<rect x="207.5" y="185" width="2" height="4.2" fill="#62449a"/>
<rect x="209.5" y="185" width="1.6" height="4.2" fill="#8a6a98"/>
<rect x="211" y="185" width="2" height="4.2" fill="#a89aa8"/>
<rect x="213" y="185" width="1.6" height="4.2" fill="#b09a90"/>
<rect x="214.5" y="185" width="1.1" height="4.2" fill="#7a5a98"/>
<rect x="215.5" y="185" width="1.6" height="4.2" fill="#8a6a98"/>
<rect x="217" y="185" width="1.1" height="4.2" fill="#7a5a98"/>
<rect x="218" y="185" width="2" height="4.2" fill="#b09a90"/>
<rect x="220" y="185" width="2.5" height="4.2" fill="#b09a90"/>
<rect x="222.5" y="185" width="1.1" height="4.2" fill="#8a6a98"/>
<rect x="223.5" y="185" width="1.1" height="4.2" fill="#c8b090"/>
<rect x="224.5" y="185" width="1.1" height="4.2" fill="#8a6a98"/>
<rect x="225.5" y="185" width="1.6" height="4.2" fill="#a89aa8"/>
<rect x="227" y="185" width="1.1" height="4.2" fill="#c8b090"/>
<rect x="228" y="185" width="2.5" height="4.2" fill="#a89aa8"/>
<rect x="230.5" y="185" width="3" height="4.2" fill="#90d8b0"/>
<rect x="233.5" y="185" width="1.1" height="4.2" fill="#88d0a8"/>
<rect x="234.5" y="185" width="2.5" height="4.2" fill="#78c098"/>
<rect x="237" y="185" width="1.6" height="4.2" fill="#90d8b0"/>
<rect x="238.5" y="185" width="2" height="4.2" fill="#80c8a0"/>
<rect x="240.5" y="185" width="1.6" height="4.2" fill="#90d8b0"/>
<rect x="242" y="185" width="1.1" height="4.2" fill="#90d8b0"/>
<rect x="243" y="185" width="1.6" height="4.2" fill="#78c098"/>
<rect x="244.5" y="185" width="1.1" height="4.2" fill="#78c098"/>
<rect x="245.5" y="185" width="2.5" height="4.2" fill="#78c098"/>
<rect x="248" y="185" width="2.5" height="4.2" fill="#80c8a0"/>
<rect x="250.5" y="185" width="3" height="4.2" fill="#80c8a0"/>
<rect x="253.5" y="185" width="3" height="4.2" fill="#78c098"/>
<rect x="256.5" y="185" width="2.5" height="4.2" fill="#90d8b0"/>
<rect x="259" y="185" width="1.1" height="4.2" fill="#80c8a0"/>
<rect x="260" y="185" width="1.1" height="4.2" fill="#80c8a0"/>
<rect x="261" y="185" width="1.6" height="4.2" fill="#80c8a0"/>
<rect x="262.5" y="185" width="2" height="4.2" fill="#88d0a8"/>
<rect x="264.5" y="185" width="2" height="4.2" fill="#90d8b0"/>
<rect x="266.5" y="185" width="2" height="4.2" fill="#90d8b0"/>
<rect x="268.5" y="185" width="1.4" height="4.2" fill="#80c8a0"/>
<rect x="178.5" y="191" width="3" height="11.8" fill="#8a8bd1"/>
<rect x="181.5" y="191" width="2" height="11.8" fill="#666dc8"/>
<rect x="183.5" y="191" width="2" height="11.8" fill="#6a71ca"/>
<rect x="185.5" y="191" width="1.6" height="11.8" fill="#cabbce"/>
<rect x="187" y="191" width="2.5" height="11.8" fill="#e9ccb0"/>
<rect x="189.5" y="191" width="1.1" height="11.8" fill="#eaccae"/>
<rect x="190.5" y="191" width="2" height="11.8" fill="#b9aed2"/>
<rect x="192.5" y="191" width="3" height="11.8" fill="#686fc9"/>
<rect x="195.5" y="191" width="2" height="11.8" fill="#9896d1"/>
<rect x="197.5" y="191" width="3" height="11.8" fill="#e1ccc6"/>
<rect x="200.5" y="191" width="1.6" height="11.8" fill="#e3ccc1"/>
<rect x="202" y="191" width="1.1" height="11.8" fill="#cdbecd"/>
<rect x="203" y="191" width="1.6" height="11.8" fill="#888ad0"/>
<rect x="204.5" y="191" width="3" height="11.8" fill="#bcb1d1"/>
<rect x="207.5" y="191" width="2" height="11.8" fill="#b4abd2"/>
<rect x="209.5" y="191" width="1.6" height="11.8" fill="#cbbccd"/>
<rect x="211" y="191" width="2" height="11.8" fill="#8d8ed1"/>
<rect x="213" y="191" width="1.6" height="11.8" fill="#e8ccb4"/>
<rect x="214.5" y="191" width="1.1" height="11.8" fill="#e5ccba"/>
<rect x="215.5" y="191" width="1.6" height="11.8" fill="#e1ccc5"/>
<rect x="217" y="191" width="1.1" height="11.8" fill="#e8ccb3"/>
<rect x="218" y="191" width="2" height="11.8" fill="#f6b45a"/>
<rect x="220" y="191" width="2.5" height="11.8" fill="#e7ccb5"/>
<rect x="222.5" y="191" width="1.1" height="11.8" fill="#f7b04f"/>
<rect x="223.5" y="191" width="1.1" height="11.8" fill="#f3cb94"/>
<rect x="224.5" y="191" width="1.1" height="11.8" fill="#f5bf77"/>
<rect x="225.5" y="191" width="1.6" height="11.8" fill="#f5bf75"/>
<rect x="227" y="191" width="1.1" height="11.8" fill="#e4ccbe"/>
<rect x="228" y="191" width="2.5" height="11.8" fill="#e8ccb4"/>
<rect x="230.5" y="191" width="3" height="11.8" fill="#e6ccb8"/>
<rect x="233.5" y="191" width="1.1" height="11.8" fill="#f4c079"/>
<rect x="234.5" y="191" width="2.5" height="11.8" fill="#f5c077"/>
<rect x="237" y="191" width="1.6" height="11.8" fill="#decac9"/>
<rect x="238.5" y="191" width="2" height="11.8" fill="#f6b358"/>
<rect x="240.5" y="191" width="1.6" height="11.8" fill="#efcca1"/>
<rect x="242" y="191" width="1.1" height="11.8" fill="#e5ccba"/>
<rect x="243" y="191" width="1.6" height="11.8" fill="#f8a126"/>
<rect x="244.5" y="191" width="1.1" height="11.8" fill="#f89609"/>
<rect x="245.5" y="191" width="2.5" height="11.8" fill="#f89e1f"/>
<rect x="248" y="191" width="2.5" height="11.8" fill="#f89d1c"/>
<rect x="250.5" y="191" width="3" height="11.8" fill="#f8980c"/>
<rect x="253.5" y="191" width="3" height="11.8" fill="#f8970a"/>
<rect x="256.5" y="191" width="2.5" height="11.8" fill="#f89b15"/>
<rect x="259" y="191" width="1.1" height="11.8" fill="#f8a127"/>
<rect x="260" y="191" width="1.1" height="11.8" fill="#f89e1e"/>
<rect x="261" y="191" width="1.6" height="11.8" fill="#f8980d"/>
<rect x="262.5" y="191" width="2" height="11.8" fill="#f89a13"/>
<rect x="264.5" y="191" width="2" height="11.8" fill="#f89e1e"/>
<rect x="266.5" y="191" width="2" height="11.8" fill="#f7a22b"/>
<rect x="268.5" y="191" width="1.4" height="11.8" fill="#f7a22a"/>
<rect x="178.5" y="202.7" width="3" height="11.8" fill="#252ca6"/>
<rect x="181.5" y="202.7" width="2" height="11.8" fill="#2126a1"/>
<rect x="183.5" y="202.7" width="2" height="11.8" fill="#131491"/>
<rect x="185.5" y="202.7" width="1.6" height="11.8" fill="#242ba5"/>
<rect x="187" y="202.7" width="2.5" height="11.8" fill="#2931ab"/>
<rect x="189.5" y="202.7" width="1.1" height="11.8" fill="#272ea7"/>
<rect x="190.5" y="202.7" width="2" height="11.8" fill="#2931aa"/>
<rect x="192.5" y="202.7" width="3" height="11.8" fill="#2932ab"/>
<rect x="195.5" y="202.7" width="2" height="11.8" fill="#2025a0"/>
<rect x="197.5" y="202.7" width="3" height="11.8" fill="#262ea7"/>
<rect x="200.5" y="202.7" width="1.6" height="11.8" fill="#1c209c"/>
<rect x="202" y="202.7" width="1.1" height="11.8" fill="#151794"/>
<rect x="203" y="202.7" width="1.6" height="11.8" fill="#1b1f9b"/>
<rect x="204.5" y="202.7" width="3" height="11.8" fill="#1a1e9a"/>
<rect x="207.5" y="202.7" width="2" height="11.8" fill="#2a32ab"/>
<rect x="209.5" y="202.7" width="1.6" height="11.8" fill="#242aa4"/>
<rect x="211" y="202.7" width="2" height="11.8" fill="#c1b5d0"/>
<rect x="213" y="202.7" width="1.6" height="11.8" fill="#d2c2cb"/>
<rect x="214.5" y="202.7" width="1.1" height="11.8" fill="#6067c6"/>
<rect x="215.5" y="202.7" width="1.6" height="11.8" fill="#bfb3d0"/>
<rect x="217" y="202.7" width="1.1" height="11.8" fill="#e1ccc6"/>
<rect x="218" y="202.7" width="2" height="11.8" fill="#9d9ad1"/>
<rect x="220" y="202.7" width="2.5" height="11.8" fill="#777dd0"/>
<rect x="222.5" y="202.7" width="1.1" height="11.8" fill="#a09cd1"/>
<rect x="223.5" y="202.7" width="1.1" height="11.8" fill="#8b8cd1"/>
<rect x="224.5" y="202.7" width="1.1" height="11.8" fill="#e0ccc8"/>
<rect x="225.5" y="202.7" width="1.6" height="11.8" fill="#636ac7"/>
<rect x="227" y="202.7" width="1.1" height="11.8" fill="#5961c3"/>
<rect x="228" y="202.7" width="2.5" height="11.8" fill="#888ad0"/>
<rect x="230.5" y="202.7" width="3" height="11.8" fill="#e1ccc7"/>
<rect x="233.5" y="202.7" width="1.1" height="11.8" fill="#f7a738"/>
<rect x="234.5" y="202.7" width="2.5" height="11.8" fill="#f7aa41"/>
<rect x="237" y="202.7" width="1.6" height="11.8" fill="#f7a128"/>
<rect x="238.5" y="202.7" width="2" height="11.8" fill="#f6b761"/>
<rect x="240.5" y="202.7" width="1.6" height="11.8" fill="#f4c687"/>
<rect x="242" y="202.7" width="1.1" height="11.8" fill="#f6b153"/>
<rect x="243" y="202.7" width="1.6" height="11.8" fill="#f6b358"/>
<rect x="244.5" y="202.7" width="1.1" height="11.8" fill="#f5bf76"/>
<rect x="245.5" y="202.7" width="2.5" height="11.8" fill="#f7aa40"/>
<rect x="248" y="202.7" width="2.5" height="11.8" fill="#f6b864"/>
<rect x="250.5" y="202.7" width="3" height="11.8" fill="#f5bd6f"/>
<rect x="253.5" y="202.7" width="3" height="11.8" fill="#f5b865"/>
<rect x="256.5" y="202.7" width="2.5" height="11.8" fill="#f7a128"/>
<rect x="259" y="202.7" width="1.1" height="11.8" fill="#f4c78a"/>
<rect x="260" y="202.7" width="1.1" height="11.8" fill="#f6b761"/>
<rect x="261" y="202.7" width="1.6" height="11.8" fill="#f5bb6b"/>
<rect x="262.5" y="202.7" width="2" height="11.8" fill="#f5be74"/>
<rect x="264.5" y="202.7" width="2" height="11.8" fill="#f6b459"/>
<rect x="266.5" y="202.7" width="2" height="11.8" fill="#f5bd71"/>
<rect x="268.5" y="202.7" width="1.4" height="11.8" fill="#f7a22a"/>
<rect x="178.5" y="214.4" width="3" height="11.8" fill="#f4c78a"/>
<rect x="181.5" y="214.4" width="2" height="11.8" fill="#f5bd6f"/>
<rect x="183.5" y="214.4" width="2" height="11.8" fill="#e7ccb5"/>
<rect x="185.5" y="214.4" width="1.6" height="11.8" fill="#f3c98f"/>
<rect x="187" y="214.4" width="2.5" height="11.8" fill="#f4c27c"/>
<rect x="189.5" y="214.4" width="1.1" height="11.8" fill="#f6b55c"/>
<rect x="190.5" y="214.4" width="2" height="11.8" fill="#ebccaa"/>
<rect x="192.5" y="214.4" width="3" height="11.8" fill="#f3ca90"/>
<rect x="195.5" y="214.4" width="2" height="11.8" fill="#f6b45a"/>
<rect x="197.5" y="214.4" width="3" height="11.8" fill="#f6b55d"/>
<rect x="200.5" y="214.4" width="1.6" height="11.8" fill="#eaccad"/>
<rect x="202" y="214.4" width="1.1" height="11.8" fill="#f4c585"/>
<rect x="203" y="214.4" width="1.6" height="11.8" fill="#f5b967"/>
<rect x="204.5" y="214.4" width="3" height="11.8" fill="#f2cc99"/>
<rect x="207.5" y="214.4" width="2" height="11.8" fill="#f5be73"/>
<rect x="209.5" y="214.4" width="1.6" height="11.8" fill="#f5be74"/>
<rect x="211" y="214.4" width="2" height="11.8" fill="#f7ae4a"/>
<rect x="213" y="214.4" width="1.6" height="11.8" fill="#f4c483"/>
<rect x="214.5" y="214.4" width="1.1" height="11.8" fill="#f5be72"/>
<rect x="215.5" y="214.4" width="1.6" height="11.8" fill="#f6b357"/>
<rect x="217" y="214.4" width="1.1" height="11.8" fill="#f7a531"/>
<rect x="218" y="214.4" width="2" height="11.8" fill="#f6b45a"/>
<rect x="220" y="214.4" width="2.5" height="11.8" fill="#f7ac46"/>
<rect x="222.5" y="214.4" width="1.1" height="11.8" fill="#f6b256"/>
<rect x="223.5" y="214.4" width="1.1" height="11.8" fill="#f6b55c"/>
<rect x="224.5" y="214.4" width="1.1" height="11.8" fill="#f5bd70"/>
<rect x="225.5" y="214.4" width="1.6" height="11.8" fill="#f5b965"/>
<rect x="227" y="214.4" width="1.1" height="11.8" fill="#f7ab42"/>
<rect x="228" y="214.4" width="2.5" height="11.8" fill="#f6b762"/>
<rect x="230.5" y="214.4" width="3" height="11.8" fill="#f4c17a"/>
<rect x="233.5" y="214.4" width="1.1" height="11.8" fill="#f7a22b"/>
<rect x="234.5" y="214.4" width="2.5" height="11.8" fill="#f6b65e"/>
<rect x="237" y="214.4" width="1.6" height="11.8" fill="#f89e1f"/>
<rect x="238.5" y="214.4" width="2" height="11.8" fill="#f7a93d"/>
<rect x="240.5" y="214.4" width="1.6" height="11.8" fill="#f6b153"/>
<rect x="242" y="214.4" width="1.1" height="11.8" fill="#f8a025"/>
<rect x="243" y="214.4" width="1.6" height="11.8" fill="#f8a023"/>
<rect x="244.5" y="214.4" width="1.1" height="11.8" fill="#f6b45a"/>
<rect x="245.5" y="214.4" width="2.5" height="11.8" fill="#f5bd71"/>
<rect x="248" y="214.4" width="2.5" height="11.8" fill="#f7a83a"/>
<rect x="250.5" y="214.4" width="3" height="11.8" fill="#f7a128"/>
<rect x="253.5" y="214.4" width="3" height="11.8" fill="#f7a93c"/>
<rect x="256.5" y="214.4" width="2.5" height="11.8" fill="#f7a32d"/>
<rect x="259" y="214.4" width="1.1" height="11.8" fill="#f6b050"/>
<rect x="260" y="214.4" width="1.1" height="11.8" fill="#f7a83c"/>
<rect x="261" y="214.4" width="1.6" height="11.8" fill="#f6b761"/>
<rect x="262.5" y="214.4" width="2" height="11.8" fill="#f6b051"/>
<rect x="264.5" y="214.4" width="2" height="11.8" fill="#f6b154"/>
<rect x="266.5" y="214.4" width="2" height="11.8" fill="#f6b153"/>
<rect x="268.5" y="214.4" width="1.4" height="11.8" fill="#f6b151"/>
<rect x="178.5" y="226.2" width="3" height="11.8" fill="#f8980f"/>
<rect x="181.5" y="226.2" width="2" height="11.8" fill="#f8a025"/>
<rect x="183.5" y="226.2" width="2" height="11.8" fill="#f8a024"/>
<rect x="185.5" y="226.2" width="1.6" height="11.8" fill="#f89f22"/>
<rect x="187" y="226.2" width="2.5" height="11.8" fill="#f89609"/>
<rect x="189.5" y="226.2" width="1.1" height="11.8" fill="#f89c19"/>
<rect x="190.5" y="226.2" width="2" height="11.8" fill="#f7a22a"/>
<rect x="192.5" y="226.2" width="3" height="11.8" fill="#f8980e"/>
<rect x="195.5" y="226.2" width="2" height="11.8" fill="#f8980c"/>
<rect x="197.5" y="226.2" width="3" height="11.8" fill="#f8980e"/>
<rect x="200.5" y="226.2" width="1.6" height="11.8" fill="#f89e1f"/>
<rect x="202" y="226.2" width="1.1" height="11.8" fill="#f89911"/>
<rect x="203" y="226.2" width="1.6" height="11.8" fill="#f89f21"/>
<rect x="204.5" y="226.2" width="3" height="11.8" fill="#f8a127"/>
<rect x="207.5" y="226.2" width="2" height="11.8" fill="#f8980d"/>
<rect x="209.5" y="226.2" width="1.6" height="11.8" fill="#f8980e"/>
<rect x="211" y="226.2" width="2" height="11.8" fill="#cabccd"/>
<rect x="213" y="226.2" width="1.6" height="11.8" fill="#f5b967"/>
<rect x="214.5" y="226.2" width="1.1" height="11.8" fill="#9e9bd1"/>
<rect x="215.5" y="226.2" width="1.6" height="11.8" fill="#dfcbc8"/>
<rect x="217" y="226.2" width="1.1" height="11.8" fill="#9b98d1"/>
<rect x="218" y="226.2" width="2" height="11.8" fill="#c2b5d0"/>
<rect x="220" y="226.2" width="2.5" height="11.8" fill="#c0b4d0"/>
<rect x="222.5" y="226.2" width="1.1" height="11.8" fill="#f4c585"/>
<rect x="223.5" y="226.2" width="1.1" height="11.8" fill="#ddc9c9"/>
<rect x="224.5" y="226.2" width="1.1" height="11.8" fill="#2931aa"/>
<rect x="225.5" y="226.2" width="1.6" height="11.8" fill="#2830a9"/>
<rect x="227" y="226.2" width="1.1" height="11.8" fill="#2f39b1"/>
<rect x="228" y="226.2" width="2.5" height="11.8" fill="#7e82d0"/>
<rect x="230.5" y="226.2" width="3" height="11.8" fill="#575fc2"/>
<rect x="233.5" y="226.2" width="1.1" height="11.8" fill="#242ba5"/>
<rect x="234.5" y="226.2" width="2.5" height="11.8" fill="#636ac7"/>
<rect x="237" y="226.2" width="1.6" height="11.8" fill="#4d56be"/>
<rect x="238.5" y="226.2" width="2" height="11.8" fill="#1a1d99"/>
<rect x="240.5" y="226.2" width="1.6" height="11.8" fill="#1b1f9b"/>
<rect x="242" y="226.2" width="1.1" height="11.8" fill="#1d229d"/>
<rect x="243" y="226.2" width="1.6" height="11.8" fill="#2025a0"/>
<rect x="244.5" y="226.2" width="1.1" height="11.8" fill="#1b1f9a"/>
<rect x="245.5" y="226.2" width="2.5" height="11.8" fill="#1d219d"/>
<rect x="248" y="226.2" width="2.5" height="11.8" fill="#1a1e9a"/>
<rect x="250.5" y="226.2" width="3" height="11.8" fill="#1d219d"/>
<rect x="253.5" y="226.2" width="3" height="11.8" fill="#191c98"/>
<rect x="256.5" y="226.2" width="2.5" height="11.8" fill="#191d99"/>
<rect x="259" y="226.2" width="1.1" height="11.8" fill="#1b1f9b"/>
<rect x="260" y="226.2" width="1.1" height="11.8" fill="#1e239e"/>
<rect x="261" y="226.2" width="1.6" height="11.8" fill="#171a96"/>
<rect x="262.5" y="226.2" width="2" height="11.8" fill="#2228a2"/>
<rect x="264.5" y="226.2" width="2" height="11.8" fill="#1b1e9a"/>
<rect x="266.5" y="226.2" width="2" height="11.8" fill="#2126a1"/>
<rect x="268.5" y="226.2" width="1.4" height="11.8" fill="#1e239e"/>
<rect x="178.5" y="237.9" width="3" height="11.8" fill="#f6b152"/>
<rect x="181.5" y="237.9" width="2" height="11.8" fill="#f4c482"/>
<rect x="183.5" y="237.9" width="2" height="11.8" fill="#ebccab"/>
<rect x="185.5" y="237.9" width="1.6" height="11.8" fill="#eaccae"/>
<rect x="187" y="237.9" width="2.5" height="11.8" fill="#f3c98f"/>
<rect x="189.5" y="237.9" width="1.1" height="11.8" fill="#f5bf75"/>
<rect x="190.5" y="237.9" width="2" height="11.8" fill="#f5b967"/>
<rect x="192.5" y="237.9" width="3" height="11.8" fill="#cabccd"/>
<rect x="195.5" y="237.9" width="2" height="11.8" fill="#bdb1d1"/>
<rect x="197.5" y="237.9" width="3" height="11.8" fill="#c6b8cf"/>
<rect x="200.5" y="237.9" width="1.6" height="11.8" fill="#c1b5d0"/>
<rect x="202" y="237.9" width="1.1" height="11.8" fill="#bbb1d1"/>
<rect x="203" y="237.9" width="1.6" height="11.8" fill="#b0a8d2"/>
<rect x="204.5" y="237.9" width="3" height="11.8" fill="#e1ccc6"/>
<rect x="207.5" y="237.9" width="2" height="11.8" fill="#c7b9ce"/>
<rect x="209.5" y="237.9" width="1.6" height="11.8" fill="#f4c481"/>
<rect x="211" y="237.9" width="2" height="11.8" fill="#f3c98d"/>
<rect x="213" y="237.9" width="1.6" height="11.8" fill="#f6b051"/>
<rect x="214.5" y="237.9" width="1.1" height="11.8" fill="#f6b151"/>
<rect x="215.5" y="237.9" width="1.6" height="11.8" fill="#f5bf77"/>
<rect x="217" y="237.9" width="1.1" height="11.8" fill="#f6b153"/>
<rect x="218" y="237.9" width="2" height="11.8" fill="#b5acd2"/>
<rect x="220" y="237.9" width="2.5" height="11.8" fill="#decbc8"/>
<rect x="222.5" y="237.9" width="1.1" height="11.8" fill="#f6b357"/>
<rect x="223.5" y="237.9" width="1.1" height="11.8" fill="#eecca4"/>
<rect x="224.5" y="237.9" width="1.1" height="11.8" fill="#dac7ca"/>
<rect x="225.5" y="237.9" width="1.6" height="11.8" fill="#f5bf75"/>
<rect x="227" y="237.9" width="1.1" height="11.8" fill="#ebccac"/>
<rect x="228" y="237.9" width="2.5" height="11.8" fill="#f2cc99"/>
<rect x="230.5" y="237.9" width="3" height="11.8" fill="#e5ccbc"/>
<rect x="233.5" y="237.9" width="1.1" height="11.8" fill="#e0ccc7"/>
<rect x="234.5" y="237.9" width="2.5" height="11.8" fill="#c2b5d0"/>
<rect x="237" y="237.9" width="1.6" height="11.8" fill="#f3c98f"/>
<rect x="238.5" y="237.9" width="2" height="11.8" fill="#f6b153"/>
<rect x="240.5" y="237.9" width="1.6" height="11.8" fill="#f7af4d"/>
<rect x="242" y="237.9" width="1.1" height="11.8" fill="#f5be73"/>
<rect x="243" y="237.9" width="1.6" height="11.8" fill="#f6b256"/>
<rect x="244.5" y="237.9" width="1.1" height="11.8" fill="#e7ccb5"/>
<rect x="245.5" y="237.9" width="2.5" height="11.8" fill="#e4ccbf"/>
<rect x="248" y="237.9" width="2.5" height="11.8" fill="#f6b358"/>
<rect x="250.5" y="237.9" width="3" height="11.8" fill="#f3ca90"/>
<rect x="253.5" y="237.9" width="3" height="11.8" fill="#f4c584"/>
<rect x="256.5" y="237.9" width="2.5" height="11.8" fill="#b1a9d2"/>
<rect x="259" y="237.9" width="1.1" height="11.8" fill="#decbc8"/>
<rect x="260" y="237.9" width="1.1" height="11.8" fill="#eecca3"/>
<rect x="261" y="237.9" width="1.6" height="11.8" fill="#f4c179"/>
<rect x="262.5" y="237.9" width="2" height="11.8" fill="#f5ba69"/>
<rect x="264.5" y="237.9" width="2" height="11.8" fill="#f5bf75"/>
<rect x="266.5" y="237.9" width="2" height="11.8" fill="#e6ccb8"/>
<rect x="268.5" y="237.9" width="1.4" height="11.8" fill="#e8ccb2"/>
<rect x="178.5" y="249.6" width="3" height="11.8" fill="#f89b16"/>
<rect x="181.5" y="249.6" width="2" height="11.8" fill="#f89911"/>
<rect x="183.5" y="249.6" width="2" height="11.8" fill="#f8a023"/>
<rect x="185.5" y="249.6" width="1.6" height="11.8" fill="#f7a32d"/>
<rect x="187" y="249.6" width="2.5" height="11.8" fill="#f89e1e"/>
<rect x="189.5" y="249.6" width="1.1" height="11.8" fill="#f89f21"/>
<rect x="190.5" y="249.6" width="2" height="11.8" fill="#f7a127"/>
<rect x="192.5" y="249.6" width="3" height="11.8" fill="#f7a32c"/>
<rect x="195.5" y="249.6" width="2" height="11.8" fill="#f8a127"/>
<rect x="197.5" y="249.6" width="3" height="11.8" fill="#f89e1f"/>
<rect x="200.5" y="249.6" width="1.6" height="11.8" fill="#f7a430"/>
<rect x="202" y="249.6" width="1.1" height="11.8" fill="#f89f21"/>
<rect x="203" y="249.6" width="1.6" height="11.8" fill="#f89a13"/>
<rect x="204.5" y="249.6" width="3" height="11.8" fill="#f89c1a"/>
<rect x="207.5" y="249.6" width="2" height="11.8" fill="#f7a32b"/>
<rect x="209.5" y="249.6" width="1.6" height="11.8" fill="#f8a025"/>
<rect x="211" y="249.6" width="2" height="11.8" fill="#747ace"/>
<rect x="213" y="249.6" width="1.6" height="11.8" fill="#ebccac"/>
<rect x="214.5" y="249.6" width="1.1" height="11.8" fill="#e4ccbd"/>
<rect x="215.5" y="249.6" width="1.6" height="11.8" fill="#8487d0"/>
<rect x="217" y="249.6" width="1.1" height="11.8" fill="#ddcac9"/>
<rect x="218" y="249.6" width="2" height="11.8" fill="#e2ccc3"/>
<rect x="220" y="249.6" width="2.5" height="11.8" fill="#e1ccc6"/>
<rect x="222.5" y="249.6" width="1.1" height="11.8" fill="#b9afd2"/>
<rect x="223.5" y="249.6" width="1.1" height="11.8" fill="#a7a1d1"/>
<rect x="224.5" y="249.6" width="1.1" height="11.8" fill="#b3aad2"/>
<rect x="225.5" y="249.6" width="1.6" height="11.8" fill="#f4c380"/>
<rect x="227" y="249.6" width="1.1" height="11.8" fill="#ada5d2"/>
<rect x="228" y="249.6" width="2.5" height="11.8" fill="#d3c2cb"/>
<rect x="230.5" y="249.6" width="3" height="11.8" fill="#cabccd"/>
<rect x="233.5" y="249.6" width="1.1" height="11.8" fill="#313bb3"/>
<rect x="234.5" y="249.6" width="2.5" height="11.8" fill="#4952bd"/>
<rect x="237" y="249.6" width="1.6" height="11.8" fill="#353fb4"/>
<rect x="238.5" y="249.6" width="2" height="11.8" fill="#414ab9"/>
<rect x="240.5" y="249.6" width="1.6" height="11.8" fill="#464fbb"/>
<rect x="242" y="249.6" width="1.1" height="11.8" fill="#444dba"/>
<rect x="243" y="249.6" width="1.6" height="11.8" fill="#8688d0"/>
<rect x="244.5" y="249.6" width="1.1" height="11.8" fill="#3f48b8"/>
<rect x="245.5" y="249.6" width="2.5" height="11.8" fill="#424bba"/>
<rect x="248" y="249.6" width="2.5" height="11.8" fill="#656cc8"/>
<rect x="250.5" y="249.6" width="3" height="11.8" fill="#4952bc"/>
<rect x="253.5" y="249.6" width="3" height="11.8" fill="#565ec2"/>
<rect x="256.5" y="249.6" width="2.5" height="11.8" fill="#646bc7"/>
<rect x="259" y="249.6" width="1.1" height="11.8" fill="#2d36ae"/>
<rect x="260" y="249.6" width="1.1" height="11.8" fill="#666dc9"/>
<rect x="261" y="249.6" width="1.6" height="11.8" fill="#2e37b0"/>
<rect x="262.5" y="249.6" width="2" height="11.8" fill="#3a43b6"/>
<rect x="264.5" y="249.6" width="2" height="11.8" fill="#757bcf"/>
<rect x="266.5" y="249.6" width="2" height="11.8" fill="#8d8ed1"/>
<rect x="268.5" y="249.6" width="1.4" height="11.8" fill="#666dc9"/>
<rect x="178.5" y="261.3" width="3" height="11.8" fill="#0f108e"/>
<rect x="181.5" y="261.3" width="2" height="11.8" fill="#121390"/>
<rect x="183.5" y="261.3" width="2" height="11.8" fill="#10118f"/>
<rect x="185.5" y="261.3" width="1.6" height="11.8" fill="#151794"/>
<rect x="187" y="261.3" width="2.5" height="11.8" fill="#10118e"/>
<rect x="189.5" y="261.3" width="1.1" height="11.8" fill="#10108e"/>
<rect x="190.5" y="261.3" width="2" height="11.8" fill="#131592"/>
<rect x="192.5" y="261.3" width="3" height="11.8" fill="#131592"/>
<rect x="195.5" y="261.3" width="2" height="11.8" fill="#131492"/>
<rect x="197.5" y="261.3" width="3" height="11.8" fill="#121391"/>
<rect x="200.5" y="261.3" width="1.6" height="11.8" fill="#161995"/>
<rect x="202" y="261.3" width="1.1" height="11.8" fill="#121390"/>
<rect x="203" y="261.3" width="1.6" height="11.8" fill="#161895"/>
<rect x="204.5" y="261.3" width="3" height="11.8" fill="#111290"/>
<rect x="207.5" y="261.3" width="2" height="11.8" fill="#121390"/>
<rect x="209.5" y="261.3" width="1.6" height="11.8" fill="#11128f"/>
<rect x="211" y="261.3" width="2" height="11.8" fill="#141693"/>
<rect x="213" y="261.3" width="1.6" height="11.8" fill="#141693"/>
<rect x="214.5" y="261.3" width="1.1" height="11.8" fill="#10118e"/>
<rect x="215.5" y="261.3" width="1.6" height="11.8" fill="#121491"/>
<rect x="217" y="261.3" width="1.1" height="11.8" fill="#141693"/>
<rect x="218" y="261.3" width="2" height="11.8" fill="#121491"/>
<rect x="220" y="261.3" width="2.5" height="11.8" fill="#141592"/>
<rect x="222.5" y="261.3" width="1.1" height="11.8" fill="#d9c7ca"/>
<rect x="223.5" y="261.3" width="1.1" height="11.8" fill="#decbc8"/>
<rect x="224.5" y="261.3" width="1.1" height="11.8" fill="#f89e1f"/>
<rect x="225.5" y="261.3" width="1.6" height="11.8" fill="#f89f21"/>
<rect x="227" y="261.3" width="1.1" height="11.8" fill="#f7a22b"/>
<rect x="228" y="261.3" width="2.5" height="11.8" fill="#f8970c"/>
<rect x="230.5" y="261.3" width="3" height="11.8" fill="#f8990f"/>
<rect x="233.5" y="261.3" width="1.1" height="11.8" fill="#f89e1e"/>
<rect x="234.5" y="261.3" width="2.5" height="11.8" fill="#f89609"/>
<rect x="237" y="261.3" width="1.6" height="11.8" fill="#f8970b"/>
<rect x="238.5" y="261.3" width="2" height="11.8" fill="#f8a126"/>
<rect x="240.5" y="261.3" width="1.6" height="11.8" fill="#f8980e"/>
<rect x="242" y="261.3" width="1.1" height="11.8" fill="#f89d1d"/>
<rect x="243" y="261.3" width="1.6" height="11.8" fill="#f89f20"/>
<rect x="244.5" y="261.3" width="1.1" height="11.8" fill="#f89f22"/>
<rect x="245.5" y="261.3" width="2.5" height="11.8" fill="#f89d1d"/>
<rect x="248" y="261.3" width="2.5" height="11.8" fill="#f7a22a"/>
<rect x="250.5" y="261.3" width="3" height="11.8" fill="#f7a22a"/>
<rect x="253.5" y="261.3" width="3" height="11.8" fill="#f7a127"/>
<rect x="256.5" y="261.3" width="2.5" height="11.8" fill="#f89f21"/>
<rect x="259" y="261.3" width="1.1" height="11.8" fill="#f8a126"/>
<rect x="260" y="261.3" width="1.1" height="11.8" fill="#f7a127"/>
<rect x="261" y="261.3" width="1.6" height="11.8" fill="#f8980e"/>
<rect x="262.5" y="261.3" width="2" height="11.8" fill="#f89e1e"/>
<rect x="264.5" y="261.3" width="2" height="11.8" fill="#f89c1a"/>
<rect x="266.5" y="261.3" width="2" height="11.8" fill="#f89b16"/>
<rect x="268.5" y="261.3" width="1.4" height="11.8" fill="#f8970a"/>
<rect x="178.5" y="273.1" width="3" height="11.8" fill="#f3ca91"/>
<rect x="181.5" y="273.1" width="2" height="11.8" fill="#f4c687"/>
<rect x="183.5" y="273.1" width="2" height="11.8" fill="#f7aa41"/>
<rect x="185.5" y="273.1" width="1.6" height="11.8" fill="#f7a93c"/>
<rect x="187" y="273.1" width="2.5" height="11.8" fill="#f7a83a"/>
<rect x="189.5" y="273.1" width="1.1" height="11.8" fill="#f5b865"/>
<rect x="190.5" y="273.1" width="2" height="11.8" fill="#f5c077"/>
<rect x="192.5" y="273.1" width="3" height="11.8" fill="#f4c88c"/>
<rect x="195.5" y="273.1" width="2" height="11.8" fill="#f7a93c"/>
<rect x="197.5" y="273.1" width="3" height="11.8" fill="#f7ae4a"/>
<rect x="200.5" y="273.1" width="1.6" height="11.8" fill="#f6b762"/>
<rect x="202" y="273.1" width="1.1" height="11.8" fill="#f7ac47"/>
<rect x="203" y="273.1" width="1.6" height="11.8" fill="#f4c584"/>
<rect x="204.5" y="273.1" width="3" height="11.8" fill="#f5b864"/>
<rect x="207.5" y="273.1" width="2" height="11.8" fill="#f7a93d"/>
<rect x="209.5" y="273.1" width="1.6" height="11.8" fill="#f3cc95"/>
<rect x="211" y="273.1" width="2" height="11.8" fill="#f6b45b"/>
<rect x="213" y="273.1" width="1.6" height="11.8" fill="#f3c88c"/>
<rect x="214.5" y="273.1" width="1.1" height="11.8" fill="#f7ab43"/>
<rect x="215.5" y="273.1" width="1.6" height="11.8" fill="#f7ab43"/>
<rect x="217" y="273.1" width="1.1" height="11.8" fill="#f6b358"/>
<rect x="218" y="273.1" width="2" height="11.8" fill="#f5bd70"/>
<rect x="220" y="273.1" width="2.5" height="11.8" fill="#f0cc9e"/>
<rect x="222.5" y="273.1" width="1.1" height="11.8" fill="#5f66c6"/>
<rect x="223.5" y="273.1" width="1.1" height="11.8" fill="#454ebb"/>
<rect x="224.5" y="273.1" width="1.1" height="11.8" fill="#4d55be"/>
<rect x="225.5" y="273.1" width="1.6" height="11.8" fill="#242ba5"/>
<rect x="227" y="273.1" width="1.1" height="11.8" fill="#161895"/>
<rect x="228" y="273.1" width="2.5" height="11.8" fill="#121491"/>
<rect x="230.5" y="273.1" width="3" height="11.8" fill="#131491"/>
<rect x="233.5" y="273.1" width="1.1" height="11.8" fill="#151794"/>
<rect x="234.5" y="273.1" width="2.5" height="11.8" fill="#161895"/>
<rect x="237" y="273.1" width="1.6" height="11.8" fill="#131491"/>
<rect x="238.5" y="273.1" width="2" height="11.8" fill="#131491"/>
<rect x="240.5" y="273.1" width="1.6" height="11.8" fill="#151794"/>
<rect x="242" y="273.1" width="1.1" height="11.8" fill="#111290"/>
<rect x="243" y="273.1" width="1.6" height="11.8" fill="#161895"/>
<rect x="244.5" y="273.1" width="1.1" height="11.8" fill="#0e0e8c"/>
<rect x="245.5" y="273.1" width="2.5" height="11.8" fill="#151794"/>
<rect x="248" y="273.1" width="2.5" height="11.8" fill="#121491"/>
<rect x="250.5" y="273.1" width="3" height="11.8" fill="#131592"/>
<rect x="253.5" y="273.1" width="3" height="11.8" fill="#161995"/>
<rect x="256.5" y="273.1" width="2.5" height="11.8" fill="#10108e"/>
<rect x="259" y="273.1" width="1.1" height="11.8" fill="#111290"/>
<rect x="260" y="273.1" width="1.1" height="11.8" fill="#151794"/>
<rect x="261" y="273.1" width="1.6" height="11.8" fill="#141693"/>
<rect x="262.5" y="273.1" width="2" height="11.8" fill="#121491"/>
<rect x="264.5" y="273.1" width="2" height="11.8" fill="#151793"/>
<rect x="266.5" y="273.1" width="2" height="11.8" fill="#141592"/>
<rect x="268.5" y="273.1" width="1.4" height="11.8" fill="#151894"/>
<rect x="334.7" y="185" width="2" height="4.2" fill="#5e3f92"/>
<rect x="336.7" y="185" width="2" height="4.2" fill="#62449a"/>
<rect x="338.7" y="185" width="1.6" height="4.2" fill="#5e3f92"/>
<rect x="340.2" y="185" width="1.6" height="4.2" fill="#5e3f92"/>
<rect x="341.7" y="185" width="1.6" height="4.2" fill="#5e3f92"/>
<rect x="343.2" y="185" width="1.6" height="4.2" fill="#563888"/>
<rect x="344.7" y="185" width="1.6" height="4.2" fill="#5e3f92"/>
<rect x="346.2" y="185" width="1.6" height="4.2" fill="#5a3b8e"/>
<rect x="347.7" y="185" width="1.1" height="4.2" fill="#62449a"/>
<rect x="348.7" y="185" width="1.6" height="4.2" fill="#62449a"/>
<rect x="350.2" y="185" width="2" height="4.2" fill="#62449a"/>
<rect x="352.2" y="185" width="1.1" height="4.2" fill="#5a3b8e"/>
<rect x="353.2" y="185" width="2.5" height="4.2" fill="#62449a"/>
<rect x="355.7" y="185" width="1.6" height="4.2" fill="#5a3b8e"/>
<rect x="357.2" y="185" width="1.1" height="4.2" fill="#5e3f92"/>
<rect x="358.2" y="185" width="2" height="4.2" fill="#5e3f92"/>
<rect x="360.2" y="185" width="1.6" height="4.2" fill="#62449a"/>
<rect x="361.7" y="185" width="1.1" height="4.2" fill="#62449a"/>
<rect x="362.7" y="185" width="2" height="4.2" fill="#563888"/>
<rect x="364.7" y="185" width="3" height="4.2" fill="#5e3f92"/>
<rect x="367.7" y="185" width="2.5" height="4.2" fill="#62449a"/>
<rect x="370.2" y="185" width="1.6" height="4.2" fill="#8a6aa0"/>
<rect x="371.7" y="185" width="2" height="4.2" fill="#8a6aa0"/>
<rect x="373.7" y="185" width="2" height="4.2" fill="#b090a8"/>
<rect x="375.7" y="185" width="1.6" height="4.2" fill="#8a6aa0"/>
<rect x="377.2" y="185" width="3" height="4.2" fill="#6a4a98"/>
<rect x="380.2" y="185" width="2.5" height="4.2" fill="#b090a8"/>
<rect x="382.7" y="185" width="2" height="4.2" fill="#b8b0a0"/>
<rect x="384.7" y="185" width="2.5" height="4.2" fill="#c0a890"/>
<rect x="387.2" y="185" width="2" height="4.2" fill="#b0a0a8"/>
<rect x="389.2" y="185" width="1.1" height="4.2" fill="#b8b0a0"/>
<rect x="390.2" y="185" width="2" height="4.2" fill="#a8a8c8"/>
<rect x="392.2" y="185" width="2" height="4.2" fill="#b0a0a8"/>
<rect x="394.2" y="185" width="3" height="4.2" fill="#8088b8"/>
<rect x="397.2" y="185" width="1.6" height="4.2" fill="#c0a890"/>
<rect x="398.7" y="185" width="3" height="4.2" fill="#c8b890"/>
<rect x="401.7" y="185" width="3" height="4.2" fill="#c0a890"/>
<rect x="404.7" y="185" width="1.6" height="4.2" fill="#b8b0a0"/>
<rect x="406.2" y="185" width="2" height="4.2" fill="#c0a890"/>
<rect x="408.2" y="185" width="1.6" height="4.2" fill="#c8b890"/>
<rect x="409.7" y="185" width="1.6" height="4.2" fill="#98a0c0"/>
<rect x="411.2" y="185" width="2" height="4.2" fill="#c0a890"/>
<rect x="413.2" y="185" width="2" height="4.2" fill="#b8b0a0"/>
<rect x="415.2" y="185" width="2" height="4.2" fill="#c0a890"/>
<rect x="417.2" y="185" width="3" height="4.2" fill="#98a0c0"/>
<rect x="420.2" y="185" width="2" height="4.2" fill="#b0a0a8"/>
<rect x="422.2" y="185" width="2" height="4.2" fill="#98a0c0"/>
<rect x="424.2" y="185" width="2.2" height="4.2" fill="#b0a0a8"/>
<rect x="334.7" y="191" width="2" height="11.8" fill="#7c81d0"/>
<rect x="336.7" y="191" width="2" height="11.8" fill="#d3c3cb"/>
<rect x="338.7" y="191" width="1.6" height="11.8" fill="#747ace"/>
<rect x="340.2" y="191" width="1.6" height="11.8" fill="#8789d0"/>
<rect x="341.7" y="191" width="1.6" height="11.8" fill="#6e75cc"/>
<rect x="343.2" y="191" width="1.6" height="11.8" fill="#cdbecd"/>
<rect x="344.7" y="191" width="1.6" height="11.8" fill="#c0b4d0"/>
<rect x="346.2" y="191" width="1.6" height="11.8" fill="#beb3d0"/>
<rect x="347.7" y="191" width="1.1" height="11.8" fill="#6a71ca"/>
<rect x="348.7" y="191" width="1.6" height="11.8" fill="#ada6d2"/>
<rect x="350.2" y="191" width="2" height="11.8" fill="#9c99d1"/>
<rect x="352.2" y="191" width="1.1" height="11.8" fill="#7178cd"/>
<rect x="353.2" y="191" width="2.5" height="11.8" fill="#656cc8"/>
<rect x="355.7" y="191" width="1.6" height="11.8" fill="#eaccae"/>
<rect x="357.2" y="191" width="1.1" height="11.8" fill="#757bcf"/>
<rect x="358.2" y="191" width="2" height="11.8" fill="#9493d1"/>
<rect x="360.2" y="191" width="1.6" height="11.8" fill="#8f8fd1"/>
<rect x="361.7" y="191" width="1.1" height="11.8" fill="#c7b9ce"/>
<rect x="362.7" y="191" width="2" height="11.8" fill="#6f76cc"/>
<rect x="364.7" y="191" width="3" height="11.8" fill="#b3aad2"/>
<rect x="367.7" y="191" width="2.5" height="11.8" fill="#a09cd1"/>
<rect x="370.2" y="191" width="1.6" height="11.8" fill="#e3ccc1"/>
<rect x="371.7" y="191" width="2" height="11.8" fill="#9997d1"/>
<rect x="373.7" y="191" width="2" height="11.8" fill="#c1b5d0"/>
<rect x="375.7" y="191" width="1.6" height="11.8" fill="#d2c2cb"/>
<rect x="377.2" y="191" width="3" height="11.8" fill="#eaccac"/>
<rect x="380.2" y="191" width="2.5" height="11.8" fill="#d4c3cb"/>
<rect x="382.7" y="191" width="2" height="11.8" fill="#d0c0cc"/>
<rect x="384.7" y="191" width="2.5" height="11.8" fill="#e1ccc4"/>
<rect x="387.2" y="191" width="2" height="11.8" fill="#bdb2d1"/>
<rect x="389.2" y="191" width="1.1" height="11.8" fill="#9c99d1"/>
<rect x="390.2" y="191" width="2" height="11.8" fill="#d3c2cb"/>
<rect x="392.2" y="191" width="2" height="11.8" fill="#e9ccb1"/>
<rect x="394.2" y="191" width="3" height="11.8" fill="#e3ccbf"/>
<rect x="397.2" y="191" width="1.6" height="11.8" fill="#b9afd2"/>
<rect x="398.7" y="191" width="3" height="11.8" fill="#e2ccc3"/>
<rect x="401.7" y="191" width="3" height="11.8" fill="#e7ccb6"/>
<rect x="404.7" y="191" width="1.6" height="11.8" fill="#b9afd2"/>
<rect x="406.2" y="191" width="2" height="11.8" fill="#dcc9c9"/>
<rect x="408.2" y="191" width="1.6" height="11.8" fill="#c3b6cf"/>
<rect x="409.7" y="191" width="1.6" height="11.8" fill="#b7add2"/>
<rect x="411.2" y="191" width="2" height="11.8" fill="#bcb1d1"/>
<rect x="413.2" y="191" width="2" height="11.8" fill="#b2aad2"/>
<rect x="415.2" y="191" width="2" height="11.8" fill="#c3b6cf"/>
<rect x="417.2" y="191" width="3" height="11.8" fill="#9d9ad1"/>
<rect x="420.2" y="191" width="2" height="11.8" fill="#c8bace"/>
<rect x="422.2" y="191" width="2" height="11.8" fill="#a39ed1"/>
<rect x="424.2" y="191" width="2.2" height="11.8" fill="#e4ccbd"/>
<rect x="334.7" y="202.7" width="2" height="11.8" fill="#272ea8"/>
<rect x="336.7" y="202.7" width="2" height="11.8" fill="#121491"/>
<rect x="338.7" y="202.7" width="1.6" height="11.8" fill="#2d36ae"/>
<rect x="340.2" y="202.7" width="1.6" height="11.8" fill="#191c98"/>
<rect x="341.7" y="202.7" width="1.6" height="11.8" fill="#2329a3"/>
<rect x="343.2" y="202.7" width="1.6" height="11.8" fill="#252ca6"/>
<rect x="344.7" y="202.7" width="1.6" height="11.8" fill="#1e229d"/>
<rect x="346.2" y="202.7" width="1.6" height="11.8" fill="#1c209c"/>
<rect x="347.7" y="202.7" width="1.1" height="11.8" fill="#2127a1"/>
<rect x="348.7" y="202.7" width="1.6" height="11.8" fill="#171a96"/>
<rect x="350.2" y="202.7" width="2" height="11.8" fill="#3039b2"/>
<rect x="352.2" y="202.7" width="1.1" height="11.8" fill="#161895"/>
<rect x="353.2" y="202.7" width="2.5" height="11.8" fill="#2e38b0"/>
<rect x="355.7" y="202.7" width="1.6" height="11.8" fill="#1a1d99"/>
<rect x="357.2" y="202.7" width="1.1" height="11.8" fill="#1d219c"/>
<rect x="358.2" y="202.7" width="2" height="11.8" fill="#1f25a0"/>
<rect x="360.2" y="202.7" width="1.6" height="11.8" fill="#131592"/>
<rect x="361.7" y="202.7" width="1.1" height="11.8" fill="#171996"/>
<rect x="362.7" y="202.7" width="2" height="11.8" fill="#1f239e"/>
<rect x="364.7" y="202.7" width="3" height="11.8" fill="#2127a2"/>
<rect x="367.7" y="202.7" width="2.5" height="11.8" fill="#303ab2"/>
<rect x="370.2" y="202.7" width="1.6" height="11.8" fill="#3b44b7"/>
<rect x="371.7" y="202.7" width="2" height="11.8" fill="#b5abd2"/>
<rect x="373.7" y="202.7" width="2" height="11.8" fill="#f3c98f"/>
<rect x="375.7" y="202.7" width="1.6" height="11.8" fill="#cabbce"/>
<rect x="377.2" y="202.7" width="3" height="11.8" fill="#f6b358"/>
<rect x="380.2" y="202.7" width="2.5" height="11.8" fill="#e7ccb6"/>
<rect x="382.7" y="202.7" width="2" height="11.8" fill="#f7ac45"/>
<rect x="384.7" y="202.7" width="2.5" height="11.8" fill="#f3c88d"/>
<rect x="387.2" y="202.7" width="2" height="11.8" fill="#c9bbce"/>
<rect x="389.2" y="202.7" width="1.1" height="11.8" fill="#a9a3d2"/>
<rect x="390.2" y="202.7" width="2" height="11.8" fill="#e2ccc3"/>
<rect x="392.2" y="202.7" width="2" height="11.8" fill="#f7ae4a"/>
<rect x="394.2" y="202.7" width="3" height="11.8" fill="#cfbfcc"/>
<rect x="397.2" y="202.7" width="1.6" height="11.8" fill="#f2cc9a"/>
<rect x="398.7" y="202.7" width="3" height="11.8" fill="#eaccad"/>
<rect x="401.7" y="202.7" width="3" height="11.8" fill="#e8ccb2"/>
<rect x="404.7" y="202.7" width="1.6" height="11.8" fill="#f6b358"/>
<rect x="406.2" y="202.7" width="2" height="11.8" fill="#decac9"/>
<rect x="408.2" y="202.7" width="1.6" height="11.8" fill="#f5ba69"/>
<rect x="409.7" y="202.7" width="1.6" height="11.8" fill="#f5be74"/>
<rect x="411.2" y="202.7" width="2" height="11.8" fill="#f7a93f"/>
<rect x="413.2" y="202.7" width="2" height="11.8" fill="#f3ca92"/>
<rect x="415.2" y="202.7" width="2" height="11.8" fill="#f7aa41"/>
<rect x="417.2" y="202.7" width="3" height="11.8" fill="#efcca1"/>
<rect x="420.2" y="202.7" width="2" height="11.8" fill="#f4c687"/>
<rect x="422.2" y="202.7" width="2" height="11.8" fill="#f4c27d"/>
<rect x="424.2" y="202.7" width="2.2" height="11.8" fill="#f6b050"/>
<rect x="334.7" y="214.4" width="2" height="11.8" fill="#f6b65f"/>
<rect x="336.7" y="214.4" width="2" height="11.8" fill="#e1ccc4"/>
<rect x="338.7" y="214.4" width="1.6" height="11.8" fill="#e2ccc2"/>
<rect x="340.2" y="214.4" width="1.6" height="11.8" fill="#f3ca91"/>
<rect x="341.7" y="214.4" width="1.6" height="11.8" fill="#f5bb6b"/>
<rect x="343.2" y="214.4" width="1.6" height="11.8" fill="#f3ca91"/>
<rect x="344.7" y="214.4" width="1.6" height="11.8" fill="#eaccae"/>
<rect x="346.2" y="214.4" width="1.6" height="11.8" fill="#f6b357"/>
<rect x="347.7" y="214.4" width="1.1" height="11.8" fill="#eaccae"/>
<rect x="348.7" y="214.4" width="1.6" height="11.8" fill="#e0ccc8"/>
<rect x="350.2" y="214.4" width="2" height="11.8" fill="#dbc8c9"/>
<rect x="352.2" y="214.4" width="1.1" height="11.8" fill="#d8c6ca"/>
<rect x="353.2" y="214.4" width="2.5" height="11.8" fill="#f5c077"/>
<rect x="355.7" y="214.4" width="1.6" height="11.8" fill="#e1ccc5"/>
<rect x="357.2" y="214.4" width="1.1" height="11.8" fill="#f4c078"/>
<rect x="358.2" y="214.4" width="2" height="11.8" fill="#f6b864"/>
<rect x="360.2" y="214.4" width="1.6" height="11.8" fill="#f6b151"/>
<rect x="361.7" y="214.4" width="1.1" height="11.8" fill="#f5bb6c"/>
<rect x="362.7" y="214.4" width="2" height="11.8" fill="#f0cc9f"/>
<rect x="364.7" y="214.4" width="3" height="11.8" fill="#f4c585"/>
<rect x="367.7" y="214.4" width="2.5" height="11.8" fill="#f8a026"/>
<rect x="370.2" y="214.4" width="1.6" height="11.8" fill="#f7a32e"/>
<rect x="371.7" y="214.4" width="2" height="11.8" fill="#f7af4e"/>
<rect x="373.7" y="214.4" width="2" height="11.8" fill="#f7a22b"/>
<rect x="375.7" y="214.4" width="1.6" height="11.8" fill="#f6b65e"/>
<rect x="377.2" y="214.4" width="3" height="11.8" fill="#f7ae4c"/>
<rect x="380.2" y="214.4" width="2.5" height="11.8" fill="#f89c1a"/>
<rect x="382.7" y="214.4" width="2" height="11.8" fill="#f7aa3f"/>
<rect x="384.7" y="214.4" width="2.5" height="11.8" fill="#f7b050"/>
<rect x="387.2" y="214.4" width="2" height="11.8" fill="#f7a229"/>
<rect x="389.2" y="214.4" width="1.1" height="11.8" fill="#f7aa41"/>
<rect x="390.2" y="214.4" width="2" height="11.8" fill="#f5ba68"/>
<rect x="392.2" y="214.4" width="2" height="11.8" fill="#f5b966"/>
<rect x="394.2" y="214.4" width="3" height="11.8" fill="#f6b051"/>
<rect x="397.2" y="214.4" width="1.6" height="11.8" fill="#f7ae4a"/>
<rect x="398.7" y="214.4" width="3" height="11.8" fill="#f89e1e"/>
<rect x="401.7" y="214.4" width="3" height="11.8" fill="#f6b152"/>
<rect x="404.7" y="214.4" width="1.6" height="11.8" fill="#f8a024"/>
<rect x="406.2" y="214.4" width="2" height="11.8" fill="#f8a024"/>
<rect x="408.2" y="214.4" width="1.6" height="11.8" fill="#e8ccb4"/>
<rect x="409.7" y="214.4" width="1.6" height="11.8" fill="#f5ba69"/>
<rect x="411.2" y="214.4" width="2" height="11.8" fill="#f4c789"/>
<rect x="413.2" y="214.4" width="2" height="11.8" fill="#ebccac"/>
<rect x="415.2" y="214.4" width="2" height="11.8" fill="#e1ccc7"/>
<rect x="417.2" y="214.4" width="3" height="11.8" fill="#eaccaf"/>
<rect x="420.2" y="214.4" width="2" height="11.8" fill="#f5bf76"/>
<rect x="422.2" y="214.4" width="2" height="11.8" fill="#edcca6"/>
<rect x="424.2" y="214.4" width="2.2" height="11.8" fill="#d7c5ca"/>
<rect x="334.7" y="226.2" width="2" height="11.8" fill="#f7a128"/>
<rect x="336.7" y="226.2" width="2" height="11.8" fill="#f8a024"/>
<rect x="338.7" y="226.2" width="1.6" height="11.8" fill="#f7a430"/>
<rect x="340.2" y="226.2" width="1.6" height="11.8" fill="#f89e1f"/>
<rect x="341.7" y="226.2" width="1.6" height="11.8" fill="#f7a636"/>
<rect x="343.2" y="226.2" width="1.6" height="11.8" fill="#f89b15"/>
<rect x="344.7" y="226.2" width="1.6" height="11.8" fill="#f7a430"/>
<rect x="346.2" y="226.2" width="1.6" height="11.8" fill="#f7a533"/>
<rect x="347.7" y="226.2" width="1.1" height="11.8" fill="#f89e1f"/>
<rect x="348.7" y="226.2" width="1.6" height="11.8" fill="#f7a22b"/>
<rect x="350.2" y="226.2" width="2" height="11.8" fill="#f89a12"/>
<rect x="352.2" y="226.2" width="1.1" height="11.8" fill="#f89f23"/>
<rect x="353.2" y="226.2" width="2.5" height="11.8" fill="#f89f22"/>
<rect x="355.7" y="226.2" width="1.6" height="11.8" fill="#f89a14"/>
<rect x="357.2" y="226.2" width="1.1" height="11.8" fill="#f7a42f"/>
<rect x="358.2" y="226.2" width="2" height="11.8" fill="#f89c18"/>
<rect x="360.2" y="226.2" width="1.6" height="11.8" fill="#f89d1c"/>
<rect x="361.7" y="226.2" width="1.1" height="11.8" fill="#f8a126"/>
<rect x="362.7" y="226.2" width="2" height="11.8" fill="#f8980f"/>
<rect x="364.7" y="226.2" width="3" height="11.8" fill="#f7a737"/>
<rect x="367.7" y="226.2" width="2.5" height="11.8" fill="#f89a13"/>
<rect x="370.2" y="226.2" width="1.6" height="11.8" fill="#f7a532"/>
<rect x="371.7" y="226.2" width="2" height="11.8" fill="#f89a14"/>
<rect x="373.7" y="226.2" width="2" height="11.8" fill="#f7a531"/>
<rect x="375.7" y="226.2" width="1.6" height="11.8" fill="#f7a636"/>
<rect x="377.2" y="226.2" width="3" height="11.8" fill="#f89f23"/>
<rect x="380.2" y="226.2" width="2.5" height="11.8" fill="#f89910"/>
<rect x="382.7" y="226.2" width="2" height="11.8" fill="#aaa4d2"/>
<rect x="384.7" y="226.2" width="2.5" height="11.8" fill="#e3ccc1"/>
<rect x="387.2" y="226.2" width="2" height="11.8" fill="#eccca8"/>
<rect x="389.2" y="226.2" width="1.1" height="11.8" fill="#a6a0d1"/>
<rect x="390.2" y="226.2" width="2" height="11.8" fill="#e6ccb8"/>
<rect x="392.2" y="226.2" width="2" height="11.8" fill="#626ac7"/>
<rect x="394.2" y="226.2" width="3" height="11.8" fill="#e0ccc8"/>
<rect x="397.2" y="226.2" width="1.6" height="11.8" fill="#f4c788"/>
<rect x="398.7" y="226.2" width="3" height="11.8" fill="#c3b6cf"/>
<rect x="401.7" y="226.2" width="3" height="11.8" fill="#1a1d99"/>
<rect x="404.7" y="226.2" width="1.6" height="11.8" fill="#141693"/>
<rect x="406.2" y="226.2" width="2" height="11.8" fill="#2a32ab"/>
<rect x="408.2" y="226.2" width="1.6" height="11.8" fill="#2126a1"/>
<rect x="409.7" y="226.2" width="1.6" height="11.8" fill="#343eb4"/>
<rect x="411.2" y="226.2" width="2" height="11.8" fill="#2b34ad"/>
<rect x="413.2" y="226.2" width="2" height="11.8" fill="#161895"/>
<rect x="415.2" y="226.2" width="2" height="11.8" fill="#343eb4"/>
<rect x="417.2" y="226.2" width="3" height="11.8" fill="#353fb4"/>
<rect x="420.2" y="226.2" width="2" height="11.8" fill="#2e37b0"/>
<rect x="422.2" y="226.2" width="2" height="11.8" fill="#2f38b0"/>
<rect x="424.2" y="226.2" width="2.2" height="11.8" fill="#2931ab"/>
<rect x="334.7" y="237.9" width="2" height="11.8" fill="#f0cc9f"/>
<rect x="336.7" y="237.9" width="2" height="11.8" fill="#edcca7"/>
<rect x="338.7" y="237.9" width="1.6" height="11.8" fill="#e9ccb1"/>
<rect x="340.2" y="237.9" width="1.6" height="11.8" fill="#c0b4d0"/>
<rect x="341.7" y="237.9" width="1.6" height="11.8" fill="#a6a0d1"/>
<rect x="343.2" y="237.9" width="1.6" height="11.8" fill="#f0cc9e"/>
<rect x="344.7" y="237.9" width="1.6" height="11.8" fill="#e9ccb0"/>
<rect x="346.2" y="237.9" width="1.6" height="11.8" fill="#9593d1"/>
<rect x="347.7" y="237.9" width="1.1" height="11.8" fill="#ebccaa"/>
<rect x="348.7" y="237.9" width="1.6" height="11.8" fill="#eaccaf"/>
<rect x="350.2" y="237.9" width="2" height="11.8" fill="#e4ccbc"/>
<rect x="352.2" y="237.9" width="1.1" height="11.8" fill="#f2cc97"/>
<rect x="353.2" y="237.9" width="2.5" height="11.8" fill="#f4c688"/>
<rect x="355.7" y="237.9" width="1.6" height="11.8" fill="#d7c5ca"/>
<rect x="357.2" y="237.9" width="1.1" height="11.8" fill="#f3ca91"/>
<rect x="358.2" y="237.9" width="2" height="11.8" fill="#e4ccbe"/>
<rect x="360.2" y="237.9" width="1.6" height="11.8" fill="#e8ccb4"/>
<rect x="361.7" y="237.9" width="1.1" height="11.8" fill="#ddcac9"/>
<rect x="362.7" y="237.9" width="2" height="11.8" fill="#f4c37e"/>
<rect x="364.7" y="237.9" width="3" height="11.8" fill="#e1ccc6"/>
<rect x="367.7" y="237.9" width="2.5" height="11.8" fill="#f4c17b"/>
<rect x="370.2" y="237.9" width="1.6" height="11.8" fill="#cfbfcc"/>
<rect x="371.7" y="237.9" width="2" height="11.8" fill="#f89f22"/>
<rect x="373.7" y="237.9" width="2" height="11.8" fill="#f89b15"/>
<rect x="375.7" y="237.9" width="1.6" height="11.8" fill="#f89f22"/>
<rect x="377.2" y="237.9" width="3" height="11.8" fill="#f7a532"/>
<rect x="380.2" y="237.9" width="2.5" height="11.8" fill="#f7ab42"/>
<rect x="382.7" y="237.9" width="2" height="11.8" fill="#f7a32d"/>
<rect x="384.7" y="237.9" width="2.5" height="11.8" fill="#f7a430"/>
<rect x="387.2" y="237.9" width="2" height="11.8" fill="#f89d1b"/>
<rect x="389.2" y="237.9" width="1.1" height="11.8" fill="#f89d1c"/>
<rect x="390.2" y="237.9" width="2" height="11.8" fill="#f89912"/>
<rect x="392.2" y="237.9" width="2" height="11.8" fill="#f7a42e"/>
<rect x="394.2" y="237.9" width="3" height="11.8" fill="#f7a430"/>
<rect x="397.2" y="237.9" width="1.6" height="11.8" fill="#f7a128"/>
<rect x="398.7" y="237.9" width="3" height="11.8" fill="#f89e1e"/>
<rect x="401.7" y="237.9" width="3" height="11.8" fill="#f7aa42"/>
<rect x="404.7" y="237.9" width="1.6" height="11.8" fill="#f7a83b"/>
<rect x="406.2" y="237.9" width="2" height="11.8" fill="#f7a93e"/>
<rect x="408.2" y="237.9" width="1.6" height="11.8" fill="#f7a635"/>
<rect x="409.7" y="237.9" width="1.6" height="11.8" fill="#f7a636"/>
<rect x="411.2" y="237.9" width="2" height="11.8" fill="#f89a13"/>
<rect x="413.2" y="237.9" width="2" height="11.8" fill="#f7a83b"/>
<rect x="415.2" y="237.9" width="2" height="11.8" fill="#f89a14"/>
<rect x="417.2" y="237.9" width="3" height="11.8" fill="#f7a636"/>
<rect x="420.2" y="237.9" width="2" height="11.8" fill="#f7a83b"/>
<rect x="422.2" y="237.9" width="2" height="11.8" fill="#f89a12"/>
<rect x="424.2" y="237.9" width="2.2" height="11.8" fill="#f7aa41"/>
<rect x="334.7" y="249.6" width="2" height="11.8" fill="#f7a430"/>
<rect x="336.7" y="249.6" width="2" height="11.8" fill="#f7a430"/>
<rect x="338.7" y="249.6" width="1.6" height="11.8" fill="#f7a532"/>
<rect x="340.2" y="249.6" width="1.6" height="11.8" fill="#f8a127"/>
<rect x="341.7" y="249.6" width="1.6" height="11.8" fill="#f7a32d"/>
<rect x="343.2" y="249.6" width="1.6" height="11.8" fill="#f7a42f"/>
<rect x="344.7" y="249.6" width="1.6" height="11.8" fill="#f7a634"/>
<rect x="346.2" y="249.6" width="1.6" height="11.8" fill="#f89d1c"/>
<rect x="347.7" y="249.6" width="1.1" height="11.8" fill="#f7a533"/>
<rect x="348.7" y="249.6" width="1.6" height="11.8" fill="#f7a32c"/>
<rect x="350.2" y="249.6" width="2" height="11.8" fill="#f89f20"/>
<rect x="352.2" y="249.6" width="1.1" height="11.8" fill="#f89b15"/>
<rect x="353.2" y="249.6" width="2.5" height="11.8" fill="#e7ccb5"/>
<rect x="355.7" y="249.6" width="1.6" height="11.8" fill="#eaccac"/>
<rect x="357.2" y="249.6" width="1.1" height="11.8" fill="#eaccae"/>
<rect x="358.2" y="249.6" width="2" height="11.8" fill="#f1cc9d"/>
<rect x="360.2" y="249.6" width="1.6" height="11.8" fill="#f3ca92"/>
<rect x="361.7" y="249.6" width="1.1" height="11.8" fill="#757ccf"/>
<rect x="362.7" y="249.6" width="2" height="11.8" fill="#6067c6"/>
<rect x="364.7" y="249.6" width="3" height="11.8" fill="#e4ccbc"/>
<rect x="367.7" y="249.6" width="2.5" height="11.8" fill="#d7c5ca"/>
<rect x="370.2" y="249.6" width="1.6" height="11.8" fill="#d8c6ca"/>
<rect x="371.7" y="249.6" width="2" height="11.8" fill="#efcc9f"/>
<rect x="373.7" y="249.6" width="2" height="11.8" fill="#7a80d0"/>
<rect x="375.7" y="249.6" width="1.6" height="11.8" fill="#eaccad"/>
<rect x="377.2" y="249.6" width="3" height="11.8" fill="#252ca6"/>
<rect x="380.2" y="249.6" width="2.5" height="11.8" fill="#252ca6"/>
<rect x="382.7" y="249.6" width="2" height="11.8" fill="#1f249f"/>
<rect x="384.7" y="249.6" width="2.5" height="11.8" fill="#2025a0"/>
<rect x="387.2" y="249.6" width="2" height="11.8" fill="#2a32ac"/>
<rect x="389.2" y="249.6" width="1.1" height="11.8" fill="#2931ab"/>
<rect x="390.2" y="249.6" width="2" height="11.8" fill="#3f48b8"/>
<rect x="392.2" y="249.6" width="2" height="11.8" fill="#2025a0"/>
<rect x="394.2" y="249.6" width="3" height="11.8" fill="#2f38b1"/>
<rect x="397.2" y="249.6" width="1.6" height="11.8" fill="#1a1d99"/>
<rect x="398.7" y="249.6" width="3" height="11.8" fill="#2d36ae"/>
<rect x="401.7" y="249.6" width="3" height="11.8" fill="#1c209c"/>
<rect x="404.7" y="249.6" width="1.6" height="11.8" fill="#3a44b6"/>
<rect x="406.2" y="249.6" width="2" height="11.8" fill="#454ebb"/>
<rect x="408.2" y="249.6" width="1.6" height="11.8" fill="#1f249f"/>
<rect x="409.7" y="249.6" width="1.6" height="11.8" fill="#363fb4"/>
<rect x="411.2" y="249.6" width="2" height="11.8" fill="#1e239e"/>
<rect x="413.2" y="249.6" width="2" height="11.8" fill="#2126a1"/>
<rect x="415.2" y="249.6" width="2" height="11.8" fill="#1a1e99"/>
<rect x="417.2" y="249.6" width="3" height="11.8" fill="#262ca6"/>
<rect x="420.2" y="249.6" width="2" height="11.8" fill="#1a1e99"/>
<rect x="422.2" y="249.6" width="2" height="11.8" fill="#2e38b0"/>
<rect x="424.2" y="249.6" width="2.2" height="11.8" fill="#2a32ab"/>
<rect x="334.7" y="261.3" width="2" height="11.8" fill="#121390"/>
<rect x="336.7" y="261.3" width="2" height="11.8" fill="#141693"/>
<rect x="338.7" y="261.3" width="1.6" height="11.8" fill="#10118e"/>
<rect x="340.2" y="261.3" width="1.6" height="11.8" fill="#11128f"/>
<rect x="341.7" y="261.3" width="1.6" height="11.8" fill="#11128f"/>
<rect x="343.2" y="261.3" width="1.6" height="11.8" fill="#0e0e8c"/>
<rect x="344.7" y="261.3" width="1.6" height="11.8" fill="#161894"/>
<rect x="346.2" y="261.3" width="1.6" height="11.8" fill="#0f0f8d"/>
<rect x="347.7" y="261.3" width="1.1" height="11.8" fill="#0f0f8d"/>
<rect x="348.7" y="261.3" width="1.6" height="11.8" fill="#151794"/>
<rect x="350.2" y="261.3" width="2" height="11.8" fill="#151794"/>
<rect x="352.2" y="261.3" width="1.1" height="11.8" fill="#121390"/>
<rect x="353.2" y="261.3" width="2.5" height="11.8" fill="#121390"/>
<rect x="355.7" y="261.3" width="1.6" height="11.8" fill="#0f108d"/>
<rect x="357.2" y="261.3" width="1.1" height="11.8" fill="#0e0e8c"/>
<rect x="358.2" y="261.3" width="2" height="11.8" fill="#121491"/>
<rect x="360.2" y="261.3" width="1.6" height="11.8" fill="#10118e"/>
<rect x="361.7" y="261.3" width="1.1" height="11.8" fill="#0f108d"/>
<rect x="362.7" y="261.3" width="2" height="11.8" fill="#161895"/>
<rect x="364.7" y="261.3" width="3" height="11.8" fill="#0e0e8c"/>
<rect x="367.7" y="261.3" width="2.5" height="11.8" fill="#11128f"/>
<rect x="370.2" y="261.3" width="1.6" height="11.8" fill="#141693"/>
<rect x="371.7" y="261.3" width="2" height="11.8" fill="#141693"/>
<rect x="373.7" y="261.3" width="2" height="11.8" fill="#0f0f8d"/>
<rect x="375.7" y="261.3" width="1.6" height="11.8" fill="#141693"/>
<rect x="377.2" y="261.3" width="3" height="11.8" fill="#e1ccc7"/>
<rect x="380.2" y="261.3" width="2.5" height="11.8" fill="#e5ccbb"/>
<rect x="382.7" y="261.3" width="2" height="11.8" fill="#f4c37f"/>
<rect x="384.7" y="261.3" width="2.5" height="11.8" fill="#f1cc9c"/>
<rect x="387.2" y="261.3" width="2" height="11.8" fill="#e3ccc0"/>
<rect x="389.2" y="261.3" width="1.1" height="11.8" fill="#efcca1"/>
<rect x="390.2" y="261.3" width="2" height="11.8" fill="#d1c1cc"/>
<rect x="392.2" y="261.3" width="2" height="11.8" fill="#dfcbc8"/>
<rect x="394.2" y="261.3" width="3" height="11.8" fill="#f2cc99"/>
<rect x="397.2" y="261.3" width="1.6" height="11.8" fill="#e4ccbc"/>
<rect x="398.7" y="261.3" width="3" height="11.8" fill="#b4abd2"/>
<rect x="401.7" y="261.3" width="3" height="11.8" fill="#f3cb93"/>
<rect x="404.7" y="261.3" width="1.6" height="11.8" fill="#f7a430"/>
<rect x="406.2" y="261.3" width="2" height="11.8" fill="#f5b967"/>
<rect x="408.2" y="261.3" width="1.6" height="11.8" fill="#f6b45b"/>
<rect x="409.7" y="261.3" width="1.6" height="11.8" fill="#f5bc6f"/>
<rect x="411.2" y="261.3" width="2" height="11.8" fill="#f7ae4a"/>
<rect x="413.2" y="261.3" width="2" height="11.8" fill="#f6b65f"/>
<rect x="415.2" y="261.3" width="2" height="11.8" fill="#f7a32b"/>
<rect x="417.2" y="261.3" width="3" height="11.8" fill="#f7ac45"/>
<rect x="420.2" y="261.3" width="2" height="11.8" fill="#f7ad49"/>
<rect x="422.2" y="261.3" width="2" height="11.8" fill="#f7a431"/>
<rect x="424.2" y="261.3" width="2.2" height="11.8" fill="#f6b45a"/>
<rect x="334.7" y="273.1" width="2" height="11.8" fill="#f6b359"/>
<rect x="336.7" y="273.1" width="2" height="11.8" fill="#f7aa42"/>
<rect x="338.7" y="273.1" width="1.6" height="11.8" fill="#f7ab44"/>
<rect x="340.2" y="273.1" width="1.6" height="11.8" fill="#f7ab42"/>
<rect x="341.7" y="273.1" width="1.6" height="11.8" fill="#f7a635"/>
<rect x="343.2" y="273.1" width="1.6" height="11.8" fill="#f6b256"/>
<rect x="344.7" y="273.1" width="1.6" height="11.8" fill="#f6b357"/>
<rect x="346.2" y="273.1" width="1.6" height="11.8" fill="#f4c380"/>
<rect x="347.7" y="273.1" width="1.1" height="11.8" fill="#f4c17a"/>
<rect x="348.7" y="273.1" width="1.6" height="11.8" fill="#f5b864"/>
<rect x="350.2" y="273.1" width="2" height="11.8" fill="#f6b55d"/>
<rect x="352.2" y="273.1" width="1.1" height="11.8" fill="#f7a634"/>
<rect x="353.2" y="273.1" width="2.5" height="11.8" fill="#f3ca91"/>
<rect x="355.7" y="273.1" width="1.6" height="11.8" fill="#f5bc6e"/>
<rect x="357.2" y="273.1" width="1.1" height="11.8" fill="#f7ab42"/>
<rect x="358.2" y="273.1" width="2" height="11.8" fill="#f6b762"/>
<rect x="360.2" y="273.1" width="1.6" height="11.8" fill="#f7a739"/>
<rect x="361.7" y="273.1" width="1.1" height="11.8" fill="#f4c584"/>
<rect x="362.7" y="273.1" width="2" height="11.8" fill="#f7aa40"/>
<rect x="364.7" y="273.1" width="3" height="11.8" fill="#f5b865"/>
<rect x="367.7" y="273.1" width="2.5" height="11.8" fill="#f6b255"/>
<rect x="370.2" y="273.1" width="1.6" height="11.8" fill="#f3c98f"/>
<rect x="371.7" y="273.1" width="2" height="11.8" fill="#f5ba68"/>
<rect x="373.7" y="273.1" width="2" height="11.8" fill="#f7a93d"/>
<rect x="375.7" y="273.1" width="1.6" height="11.8" fill="#f7ab43"/>
<rect x="377.2" y="273.1" width="3" height="11.8" fill="#f6b256"/>
<rect x="380.2" y="273.1" width="2.5" height="11.8" fill="#f5b966"/>
<rect x="382.7" y="273.1" width="2" height="11.8" fill="#8285d0"/>
<rect x="384.7" y="273.1" width="2.5" height="11.8" fill="#f0cc9e"/>
<rect x="387.2" y="273.1" width="2" height="11.8" fill="#e1ccc7"/>
<rect x="389.2" y="273.1" width="1.1" height="11.8" fill="#f1cc9a"/>
<rect x="390.2" y="273.1" width="2" height="11.8" fill="#ebccac"/>
<rect x="392.2" y="273.1" width="2" height="11.8" fill="#d8c6ca"/>
<rect x="394.2" y="273.1" width="3" height="11.8" fill="#f4c37f"/>
<rect x="397.2" y="273.1" width="1.6" height="11.8" fill="#9a97d1"/>
<rect x="398.7" y="273.1" width="3" height="11.8" fill="#f5bd70"/>
<rect x="401.7" y="273.1" width="3" height="11.8" fill="#8e8fd1"/>
<rect x="404.7" y="273.1" width="1.6" height="11.8" fill="#f5bc6e"/>
<rect x="406.2" y="273.1" width="2" height="11.8" fill="#e9ccb0"/>
<rect x="408.2" y="273.1" width="1.6" height="11.8" fill="#e1ccc6"/>
<rect x="409.7" y="273.1" width="1.6" height="11.8" fill="#f5be74"/>
<rect x="411.2" y="273.1" width="2" height="11.8" fill="#e5ccbc"/>
<rect x="413.2" y="273.1" width="2" height="11.8" fill="#e4ccbd"/>
<rect x="415.2" y="273.1" width="2" height="11.8" fill="#878ad0"/>
<rect x="417.2" y="273.1" width="3" height="11.8" fill="#f3c98d"/>
<rect x="420.2" y="273.1" width="2" height="11.8" fill="#eccca8"/>
<rect x="422.2" y="273.1" width="2" height="11.8" fill="#b5acd2"/>
<rect x="424.2" y="273.1" width="2.2" height="11.8" fill="#9594d1"/>
<text x="122.9" y="189.6" font-size="10.3" fill="#111">Cell type</text>
<text x="122.9" y="201.4" font-size="10.3" fill="#111">FSC-H</text>
<text x="122.9" y="213" font-size="10.3" fill="#111">CD34</text>
<text x="122.9" y="224.8" font-size="10.3" fill="#111">CD16</text>
<text x="122.9" y="236.7" font-size="10.3" fill="#111">EPCR</text>
<text x="122.9" y="248.6" font-size="10.3" fill="#111">Flk2</text>
<text x="122.9" y="260.2" font-size="10.3" fill="#111">CD150</text>
<text x="122.9" y="271.7" font-size="10.3" fill="#111">CD48</text>
<text x="122.9" y="283.5" font-size="10.3" fill="#111">Sca1</text>
<text x="274.3" y="189.6" font-size="10.3" fill="#111">Cell type</text>
<text x="274.3" y="201.4" font-size="10.3" fill="#111">FSC-H</text>
<text x="274.3" y="213" font-size="10.3" fill="#111">CD34</text>
<text x="274.3" y="224.8" font-size="10.3" fill="#111">CD16</text>
<text x="274.3" y="236.7" font-size="10.3" fill="#111">EPCR</text>
<text x="274.3" y="248.6" font-size="10.3" fill="#111">Flk2</text>
<text x="274.3" y="260.2" font-size="10.3" fill="#111">CD150</text>
<text x="274.3" y="271.7" font-size="10.3" fill="#111">CD48</text>
<text x="274.3" y="283.5" font-size="10.3" fill="#111">Sca1</text>
<text x="430.1" y="189.6" font-size="10.3" fill="#111">Cell type</text>
<text x="430.1" y="201.4" font-size="10.3" fill="#111">FSC-H</text>
<text x="430.1" y="213" font-size="10.3" fill="#111">CD34</text>
<text x="430.1" y="224.8" font-size="10.3" fill="#111">CD16</text>
<text x="430.1" y="236.7" font-size="10.3" fill="#111">EPCR</text>
<text x="430.1" y="248.6" font-size="10.3" fill="#111">Flk2</text>
<text x="430.1" y="260.2" font-size="10.3" fill="#111">CD150</text>
<text x="430.1" y="271.7" font-size="10.3" fill="#111">CD48</text>
<text x="430.1" y="283.5" font-size="10.3" fill="#111">Sca1</text>
<defs><linearGradient id="cb" x1="0" y1="0" x2="0" y2="1"><stop offset="0" stop-color="#f39020"/><stop offset="0.25" stop-color="#f6b468"/><stop offset="0.48" stop-color="#ffffff"/><stop offset="0.75" stop-color="#8e8cb4"/><stop offset="1" stop-color="#262468"/></linearGradient></defs>
<rect x="484.4" y="199.3" width="6.6" height="76.5" fill="url(#cb)"/>
<text x="478" y="196" font-size="10" fill="#111">High</text>
<text x="478" y="285.8" font-size="10" fill="#111">Low</text>
<text x="21.8" y="234" font-size="10" fill="#111" text-anchor="middle" textLength="91.2" lengthAdjust="spacingAndGlyphs" transform="rotate(-90 21.8 234)">Normalized index data</text>
<rect x="29.5" y="295.6" width="59" height="3" fill="#000"/>
<polygon points="87.5,291.8 96.3,297.1 87.5,302.4" fill="#000"/>
<text x="30" y="310" font-size="10.5" fill="#111" textLength="55" lengthAdjust="spacingAndGlyphs">Pseudotime</text>
<circle cx="108.5" cy="303" r="3.4" fill="#5b3a8c"/>
<text x="112.5" y="306.8" font-size="10" fill="#111" textLength="34.6" lengthAdjust="spacingAndGlyphs">LT-HSC</text>
<circle cx="154.4" cy="303" r="3.4" fill="#4a66c4"/>
<text x="158.5" y="306.8" font-size="10" fill="#111" textLength="27.1" lengthAdjust="spacingAndGlyphs">LMPP</text>
<circle cx="190.8" cy="303" r="3.4" fill="#a02c34"/>
<text x="195" y="306.8" font-size="10" fill="#111" textLength="28.3" lengthAdjust="spacingAndGlyphs">MPP1</text>
<circle cx="228.8" cy="303" r="3.4" fill="#d8a0cc"/>
<text x="232.3" y="306.8" font-size="10" fill="#111" textLength="26.2" lengthAdjust="spacingAndGlyphs">MPP2</text>
<circle cx="265.7" cy="303" r="3.4" fill="#f2e22e"/>
<text x="269.4" y="306.8" font-size="10" fill="#111" textLength="26" lengthAdjust="spacingAndGlyphs">MPP3</text>
<circle cx="303" cy="303" r="3.4" fill="#d68c20"/>
<text x="308" y="306.8" font-size="10" fill="#111" textLength="34.7" lengthAdjust="spacingAndGlyphs">ST-HSC</text>
<circle cx="349" cy="303" r="3.4" fill="#c8402a"/>
<text x="353.4" y="306.8" font-size="10" fill="#111" textLength="21" lengthAdjust="spacingAndGlyphs">MEP</text>
<circle cx="380.8" cy="303" r="3.4" fill="#6cb8a8"/>
<text x="385.7" y="306.8" font-size="10" fill="#111" textLength="20.4" lengthAdjust="spacingAndGlyphs">CMP</text>
<circle cx="415.5" cy="303" r="3.4" fill="#4a984e"/>
<text x="419.6" y="306.8" font-size="10" fill="#111" textLength="20.8" lengthAdjust="spacingAndGlyphs">GMP</text>
<circle cx="447.5" cy="303" r="3.4" fill="#c8c8c8"/>
<text x="451.2" y="306.8" font-size="10" fill="#111" textLength="49.7" lengthAdjust="spacingAndGlyphs">Unassigned</text>
<text x="8" y="331.7" font-size="15" fill="#000" font-weight="bold">C</text>
<text x="114.2" y="342.8" font-size="10.5" fill="#000" text-anchor="middle" font-weight="bold">E</text>
<text x="282.2" y="343" font-size="10.5" fill="#000" text-anchor="middle" font-weight="bold">GM</text>
<text x="441.4" y="343" font-size="10.5" fill="#000" text-anchor="middle" font-weight="bold">L</text>
<polygon points="55.5,385 56.3,384.2 57.1,383.1 57.9,383.5 58.7,382.7 59.5,382 60.3,382.5 61.1,382.2 61.9,381.6 62.7,381.8 63.5,383.2 64.3,382 65.1,381.5 65.9,380.7 66.7,380.8 67.5,378.4 68.3,379.4 69.1,380.1 69.9,379.6 70.7,380 71.5,379.7 72.3,377 73.1,376.1 73.9,376.1 74.7,376.9 75.5,377.7 76.3,378.7 77.1,379.9 77.9,378.9 78.7,376.7 79.5,378 80.3,377.8 81.1,378.4 81.9,379.3 82.7,379.3 83.5,378.8 84.3,378.8 85.1,377.2 85.9,378.4 86.7,377.6 87.5,375.7 88.3,373.4 89.1,372.4 89.9,371.6 90.7,368.6 91.5,367.3 92.3,366.3 93.1,366.7 93.9,366.2 94.7,366.8 95.5,365.7 96.3,364.6 97.1,364.8 97.9,364.6 98.7,362.4 99.5,362.3 100.3,363.3 101.1,363.6 101.9,363.2 102.7,363.5 103.5,362.3 104.3,361.2 105.1,359.2 105.9,359.3 106.7,360.8 107.5,359.5 108.3,359.9 109.1,360.2 109.9,359.7 110.7,358.4 111.5,358.5 112.3,358.7 113.1,357.9 113.9,357.4 114.7,355.3 115.5,355.1 115.5,370.3 114.7,370.6 113.9,371.5 113.1,371.6 112.3,372.6 111.5,371.9 110.7,372 109.9,373.1 109.1,374.6 108.3,376.3 107.5,376.2 106.7,375 105.9,374 105.1,373.7 104.3,374.5 103.5,375.5 102.7,376.3 101.9,377.1 101.1,378.6 100.3,377.5 99.5,376.7 98.7,378.2 97.9,379 97.1,379.2 96.3,380.7 95.5,381.6 94.7,383.4 93.9,383.1 93.1,383.2 92.3,383.7 91.5,386.8 90.7,389.4 89.9,390.3 89.1,391.7 88.3,393.3 87.5,394.6 86.7,394.5 85.9,395.4 85.1,397.6 84.3,400.8 83.5,400.1 82.7,400.8 81.9,401.4 81.1,402.6 80.3,401.8 79.5,402.5 78.7,401.8 77.9,401.8 77.1,400.6 76.3,400.8 75.5,399.2 74.7,396.9 73.9,397.8 73.1,397.2 72.3,397.5 71.5,399 70.7,399.3 69.9,399.1 69.1,400.3 68.3,401.7 67.5,401.4 66.7,403.5 65.9,403.1 65.1,404.7 64.3,405.3 63.5,405.2 62.7,406.2 61.9,405.9 61.1,406.1 60.3,407.3 59.5,406.3 58.7,406.9 57.9,407.4 57.1,407.9 56.3,408.9 55.5,408.5" fill="#cbcbcb"/>
<polyline points="55.5,396.6 56.3,395.7 57.1,395.5 57.9,395.1 58.7,394.5 59.5,393.9 60.3,394.3 61.1,393.4 61.9,392.8 62.7,392.4 63.5,392.9 64.3,392.5 65.1,392 65.9,391.3 66.7,391.8 67.5,390.4 68.3,390.5 69.1,389.9 69.9,389.3 70.7,389.3 71.5,389.3 72.3,387.6 73.1,387 73.9,387.8 74.7,387.8 75.5,389.1 76.3,389.4 77.1,390.3 77.9,390.1 78.7,389.4 79.5,390.2 80.3,389.8 81.1,390 81.9,390.4 82.7,390.1 83.5,389.6 84.3,389 85.1,387.2 85.9,386.4 86.7,385.4 87.5,384.8 88.3,383.3 89.1,382.5 89.9,381.4 90.7,379.6 91.5,378.5 92.3,377 93.1,376.4 93.9,375.3 94.7,374.6 95.5,373.7 96.3,372.9 97.1,372.5 97.9,372.3 98.7,371.2 99.5,369.7 100.3,370.1 101.1,370.4 101.9,369.8 102.7,369.5 103.5,368.5 104.3,368.1 105.1,367.7 105.9,368.1 106.7,368.4 107.5,367.7 108.3,367.3 109.1,367.2 109.9,366.5 110.7,365.7 111.5,365.1 112.3,365 113.1,365 113.9,364.7 114.7,363.5 115.5,363.6" fill="none" stroke="#000" stroke-width="1.8" stroke-linejoin="round"/>
<rect x="52.5" y="350.2" width="68.1" height="67.9" fill="none" stroke="#111" stroke-width="1.4"/>
<text x="116.4" y="358.8" font-size="8.3" fill="#222" text-anchor="end">n = 587</text>
<text x="86.5" y="428.6" font-size="9" fill="#222" text-anchor="middle">Up</text>
<polygon points="131.5,367.3 132.3,367.7 133.1,366.8 133.9,367.3 134.7,365.5 135.5,365 136.3,365.4 137.1,366.8 137.9,367.2 138.7,366.7 139.5,368.5 140.3,369.9 141.1,370.8 141.9,370.4 142.7,371 143.5,369.1 144.3,368.7 145.1,368.4 145.9,368 146.7,370.8 147.5,372 148.3,374.4 149.1,375.1 149.9,375.1 150.7,376.7 151.5,376.4 152.3,376.3 153.1,375.6 153.9,376.5 154.7,375.8 155.5,377.4 156.3,377.7 157.1,377.2 157.9,378.1 158.7,378 159.5,378.9 160.3,381.1 161.2,381.5 162,381.5 162.8,382.4 163.6,384.2 164.4,385.7 165.2,386.8 166,387.4 166.8,386.3 167.6,386.6 168.4,385.9 169.2,386.2 170,386 170.8,386.5 171.6,384.5 172.4,384.9 173.2,386.6 174,386.5 174.8,388.8 175.6,387.8 176.4,388.1 177.2,389.5 178,388.3 178.8,387.8 179.6,388.1 180.4,388.9 181.2,389.8 182,390.9 182.8,391.1 183.6,393.2 184.4,391.8 185.2,392.6 186,392.1 186.8,392.1 187.6,394.2 188.4,395.8 189.2,395.5 190,398.1 190.8,398.4 190.8,414.8 190,414.4 189.2,412.6 188.4,412 187.6,412.2 186.8,410.8 186,411 185.2,410.8 184.4,410.3 183.6,410 182.8,409.3 182,409.6 181.2,408.3 180.4,410.2 179.6,410.1 178.8,410.4 178,409.4 177.2,409 176.4,409.4 175.6,409.9 174.8,409.2 174,407.9 173.2,406.7 172.4,406.8 171.6,406.7 170.8,407.2 170,407.1 169.2,407.6 168.4,408.4 167.6,408.3 166.8,408.3 166,409.1 165.2,406.9 164.4,405.4 163.6,404.6 162.8,402.7 162,401.4 161.2,401.1 160.3,400.3 159.5,399 158.7,397.5 157.9,396.4 157.1,396.2 156.3,396.8 155.5,396.7 154.7,396.7 153.9,397.2 153.1,395.8 152.3,394.7 151.5,394.4 150.7,393.3 149.9,391.8 149.1,390.7 148.3,388.9 147.5,386.8 146.7,387.1 145.9,384.9 145.1,385.5 144.3,384 143.5,384.4 142.7,383.8 141.9,383.5 141.1,383.4 140.3,382.9 139.5,382 138.7,382.3 137.9,383.4 137.1,381.4 136.3,381.5 135.5,380.5 134.7,381.3 133.9,382.9 133.1,383.6 132.3,384 131.5,384" fill="#cbcbcb"/>
<polyline points="131.5,374.4 132.3,374.7 133.1,374.4 133.9,374.3 134.7,373.6 135.5,373 136.3,374.1 137.1,374.6 137.9,375.5 138.7,375.3 139.5,375.2 140.3,376 141.1,376.4 141.9,375.9 142.7,376.8 143.5,376.5 144.3,376.6 145.1,376.9 145.9,376.7 146.7,377.5 147.5,378.7 148.3,380.8 149.1,382 149.9,383.2 150.7,384.5 151.5,385.8 152.3,386 153.1,386.3 153.9,387.2 154.7,387.1 155.5,388.3 156.3,388.6 157.1,389 157.9,388.5 158.7,388.7 159.5,389.8 160.3,391.2 161.2,391.4 162,391.7 162.8,392.9 163.6,393.6 164.4,394.6 165.2,396.1 166,397.7 166.8,397.2 167.6,397.3 168.4,396.8 169.2,396.1 170,396.1 170.8,396.5 171.6,396 172.4,396.4 173.2,396.5 174,397.1 174.8,398 175.6,398 176.4,398.2 177.2,399 178,399 178.8,399.4 179.6,399.8 180.4,399.9 181.2,400.1 182,400.4 182.8,401.3 183.6,401.4 184.4,401.4 185.2,401.7 186,401.3 186.8,402 187.6,402.3 188.4,403.1 189.2,403.8 190,405 190.8,405.7" fill="none" stroke="#000" stroke-width="1.8" stroke-linejoin="round"/>
<rect x="128.3" y="350.2" width="67.3" height="67.9" fill="none" stroke="#111" stroke-width="1.4"/>
<text x="191.4" y="358.8" font-size="8.3" fill="#222" text-anchor="end">n = 112</text>
<text x="161.9" y="428.6" font-size="9" fill="#222" text-anchor="middle">Down</text>
<polygon points="214.4,383 215.2,382 216,381.7 216.8,382.3 217.6,382.4 218.4,380.6 219.2,380.9 220,379.8 220.8,380.5 221.7,379.3 222.5,380 223.3,379.7 224.1,379.5 224.9,380.4 225.7,380.9 226.5,379.8 227.3,380.4 228.1,381 228.9,381.2 229.7,380.5 230.5,379.1 231.3,379.8 232.1,380.7 232.9,380 233.7,378.8 234.5,378.8 235.4,379.4 236.2,379.2 237,379.6 237.8,379.4 238.6,378.3 239.4,379.7 240.2,380.3 241,378.9 241.8,376.9 242.6,375.5 243.4,373.8 244.2,373.6 245,373.9 245.8,374.6 246.6,374.5 247.4,374.4 248.2,373.2 249.1,373.5 249.9,373.2 250.7,371.9 251.5,369.5 252.3,367.2 253.1,367.7 253.9,367.7 254.7,365.5 255.5,364 256.3,364.4 257.1,362.4 257.9,361.1 258.7,361.7 259.5,362.6 260.3,361.5 261.1,360.2 261.9,360.4 262.8,361.4 263.6,361.8 264.4,363.2 265.2,362.2 266,362.1 266.8,362.4 267.6,362 268.4,362.5 269.2,361.6 269.2,377.1 268.4,380.1 267.6,380.4 266.8,380.3 266,380 265.2,380.2 264.4,380.2 263.6,379.4 262.8,378.6 261.9,376.3 261.1,377 260.3,377.6 259.5,378 258.7,379.1 257.9,378.9 257.1,380.6 256.3,380.7 255.5,382.7 254.7,383.5 253.9,385.2 253.1,386.8 252.3,387 251.5,389.2 250.7,391.4 249.9,392.5 249.1,393.8 248.2,393.5 247.4,395.9 246.6,395.4 245.8,395.3 245,395.1 244.2,395.6 243.4,397.1 242.6,400.8 241.8,402.7 241,404.9 240.2,406.4 239.4,406.4 238.6,406.2 237.8,407.3 237,407.4 236.2,406.1 235.4,405.6 234.5,404.4 233.7,404.8 232.9,406.3 232.1,408.1 231.3,406 230.5,404.1 229.7,406.1 228.9,407.2 228.1,406.8 227.3,407.2 226.5,407.5 225.7,408 224.9,407.2 224.1,407 223.3,406.5 222.5,406.3 221.7,407.3 220.8,408.2 220,407.5 219.2,409.1 218.4,409.2 217.6,410.2 216.8,410.7 216,409.8 215.2,410 214.4,411" fill="#cbcbcb"/>
<polyline points="214.4,397.3 215.2,396.7 216,396.2 216.8,396.4 217.6,396.3 218.4,395.5 219.2,395.2 220,394.5 220.8,395 221.7,394.5 222.5,394.5 223.3,394.6 224.1,394.4 224.9,394.8 225.7,394.8 226.5,394.8 227.3,394.4 228.1,394.7 228.9,394.5 229.7,393.7 230.5,392.8 231.3,392.5 232.1,393.3 232.9,393.6 233.7,394 234.5,393.5 235.4,393.9 236.2,393.9 237,394.8 237.8,394.5 238.6,393.3 239.4,393.7 240.2,393 241,392.1 241.8,390.7 242.6,388.6 243.4,386.9 244.2,385 245,384.3 245.8,384.7 246.6,384.8 247.4,385.4 248.2,384 249.1,383.1 249.9,381.8 250.7,380.9 251.5,379.4 252.3,377.6 253.1,376.3 253.9,375.8 254.7,374.8 255.5,373.4 256.3,371.9 257.1,371.3 257.9,369.8 258.7,369.9 259.5,369.4 260.3,369 261.1,368.2 261.9,368.1 262.8,369.3 263.6,369.8 264.4,370 265.2,370.1 266,369.6 266.8,369 267.6,369.1 268.4,368.9 269.2,368" fill="none" stroke="#000" stroke-width="1.8" stroke-linejoin="round"/>
<rect x="210.6" y="350.2" width="67.9" height="67.9" fill="none" stroke="#111" stroke-width="1.4"/>
<text x="274.3" y="358.8" font-size="8.3" fill="#222" text-anchor="end">n = 145</text>
<text x="244.6" y="428.6" font-size="9" fill="#222" text-anchor="middle">Up</text>
<polygon points="290.6,361.7 291.4,364.1 292.2,365.3 293,365.3 293.8,364.7 294.6,362.9 295.4,362.6 296.2,365.2 297,365 297.9,364.7 298.7,364.7 299.5,366 300.3,364.2 301.1,363.5 301.9,362.4 302.7,363.7 303.5,363.6 304.3,361.7 305.1,361.9 305.9,363.4 306.7,363.1 307.5,362.1 308.3,363.5 309.1,364.2 309.9,364.8 310.7,364.1 311.6,366.4 312.4,364.5 313.2,364.9 314,365.5 314.8,365.6 315.6,365.6 316.4,364.9 317.2,364.5 318,364.4 318.8,365.3 319.6,366.9 320.4,370 321.2,375.9 322,378.5 322.8,377.5 323.6,378.4 324.4,379.2 325.3,379.7 326.1,379.4 326.9,379.1 327.7,380.6 328.5,380.8 329.3,383.5 330.1,384.5 330.9,385.3 331.7,385.4 332.5,386.1 333.3,387.1 334.1,388.1 334.9,388.7 335.7,388.5 336.5,388.8 337.3,388.6 338.1,390.2 339,390.5 339.8,390.9 340.6,392.6 341.4,392.2 342.2,391.9 343,392.2 343.8,393.5 344.6,393.1 345.4,392.9 345.4,413.7 344.6,414.2 343.8,413.6 343,411.6 342.2,411.1 341.4,412.6 340.6,412.7 339.8,411.6 339,412.4 338.1,412.9 337.3,413.2 336.5,413.9 335.7,412.7 334.9,411.9 334.1,411.7 333.3,412.2 332.5,411 331.7,410.2 330.9,411 330.1,411.2 329.3,409 328.5,408 327.7,407.5 326.9,405.4 326.1,405.7 325.3,405.6 324.4,406.1 323.6,406.1 322.8,406 322,405.1 321.2,403 320.4,393.7 319.6,389.3 318.8,385.7 318,385.1 317.2,385.1 316.4,385.1 315.6,386.6 314.8,386 314,385.5 313.2,384.3 312.4,384.4 311.6,385.6 310.7,384.5 309.9,383.6 309.1,384.1 308.3,384.6 307.5,385.4 306.7,385.8 305.9,386.3 305.1,384.7 304.3,384.6 303.5,384.7 302.7,385.1 301.9,384.5 301.1,383.6 300.3,385.7 299.5,385.6 298.7,384.7 297.9,384.6 297,384.5 296.2,384.9 295.4,383 294.6,383.5 293.8,383.8 293,384.7 292.2,386.1 291.4,385.5 290.6,383" fill="#cbcbcb"/>
<polyline points="290.6,372.5 291.4,374.2 292.2,374.6 293,374.9 293.8,373.7 294.6,373.8 295.4,373.9 296.2,375.1 297,375.1 297.9,375.3 298.7,376 299.5,376.5 300.3,375.6 301.1,374.1 301.9,374.3 302.7,374.8 303.5,374.2 304.3,374.4 305.1,374.7 305.9,375.4 306.7,375.1 307.5,374.7 308.3,374.9 309.1,374.8 309.9,374.9 310.7,375.2 311.6,376.6 312.4,375.5 313.2,375.1 314,375.6 314.8,376.3 315.6,376.1 316.4,375.8 317.2,375.1 318,375.4 318.8,375.5 319.6,377.6 320.4,381.4 321.2,388.4 322,390 322.8,389.9 323.6,390.9 324.4,391.6 325.3,392.2 326.1,392.6 326.9,392.8 327.7,394.4 328.5,394.4 329.3,395.7 330.1,396.9 330.9,397.2 331.7,396.9 332.5,397.5 333.3,399.4 334.1,399.3 334.9,399.6 335.7,400.5 336.5,401 337.3,401 338.1,401.4 339,401.7 339.8,401.3 340.6,401.6 341.4,401.6 342.2,400.9 343,401.8 343.8,402.5 344.6,402.4 345.4,403" fill="none" stroke="#000" stroke-width="1.8" stroke-linejoin="round"/>
<rect x="286.3" y="350.2" width="67.2" height="67.9" fill="none" stroke="#111" stroke-width="1.4"/>
<text x="349.3" y="358.8" font-size="8.3" fill="#222" text-anchor="end">n = 56</text>
<text x="319.9" y="428.6" font-size="9" fill="#222" text-anchor="middle">Down</text>
<polygon points="376.3,392.1 377.1,392.4 377.9,393.8 378.7,392.8 379.5,393.7 380.3,392.9 381.1,392.3 381.9,394 382.8,392.9 383.6,392.5 384.4,392.1 385.2,392.7 386,392.3 386.8,390.4 387.6,389.9 388.4,390.7 389.2,390.2 390,389.4 390.8,388.6 391.6,388.8 392.4,390 393.2,389.4 394,389.7 394.8,389.6 395.7,389.5 396.5,389.2 397.3,388 398.1,385.1 398.9,381.9 399.7,380.9 400.5,379.1 401.3,377.5 402.1,377.3 402.9,375.9 403.7,373.5 404.5,370.7 405.3,370.1 406.1,367.7 406.9,367.4 407.8,367.4 408.6,366.6 409.4,365.5 410.2,366.5 411,367 411.8,366.4 412.6,366.1 413.4,366.2 414.2,365.6 415,365.7 415.8,364.5 416.6,364.2 417.4,363.7 418.2,362.8 419,360.7 419.8,361.5 420.7,362.2 421.5,361.8 422.3,362.1 423.1,364 423.9,364.6 424.7,365.4 425.5,366 426.3,366.1 426.3,381.4 425.5,379.9 424.7,380.7 423.9,381 423.1,381.9 422.3,381.1 421.5,383.3 420.7,382.5 419.8,383.3 419,382 418.2,382.7 417.4,383.8 416.6,384.5 415.8,384.7 415,386 414.2,385.6 413.4,385 412.6,384.6 411.8,387 411,387.5 410.2,388.1 409.4,389.2 408.6,390 407.8,391.2 406.9,391.3 406.1,390.2 405.3,391.6 404.5,392.6 403.7,393.8 402.9,396.7 402.1,397.3 401.3,398.5 400.5,400.4 399.7,401.9 398.9,403.9 398.1,406.5 397.3,407.1 396.5,408.5 395.7,408.8 394.8,409.9 394,410.1 393.2,409.1 392.4,409.2 391.6,407.2 390.8,406.8 390,407.8 389.2,408 388.4,409.5 387.6,409.2 386.8,411.1 386,411.6 385.2,411.6 384.4,410.7 383.6,411.7 382.8,411.6 381.9,412.6 381.1,411 380.3,411.3 379.5,413.1 378.7,412.5 377.9,411.8 377.1,410.4 376.3,411.2" fill="#cbcbcb"/>
<polyline points="376.3,401 377.1,400.9 377.9,402.2 378.7,402.4 379.5,402.6 380.3,401.8 381.1,401.9 381.9,402.2 382.8,401.8 383.6,401.5 384.4,401.3 385.2,401.1 386,401 386.8,400.2 387.6,399.4 388.4,399.1 389.2,398.8 390,398.9 390.8,398.1 391.6,398.1 392.4,399 393.2,398.5 394,399.2 394.8,399.9 395.7,399.5 396.5,399.7 397.3,396.9 398.1,395.5 398.9,393.3 399.7,391.1 400.5,389.2 401.3,387.1 402.1,386.1 402.9,385.6 403.7,382.7 404.5,380.9 405.3,380.1 406.1,379.3 406.9,379.1 407.8,379 408.6,378.4 409.4,377.1 410.2,376.6 411,376.8 411.8,375.9 412.6,375.8 413.4,375.2 414.2,375.3 415,374.8 415.8,373.7 416.6,373.4 417.4,373.2 418.2,372.9 419,371 419.8,371.6 420.7,371.7 421.5,372 422.3,371.7 423.1,372.5 423.9,372.3 424.7,372.5 425.5,372.4 426.3,372.3" fill="none" stroke="#000" stroke-width="1.8" stroke-linejoin="round"/>
<rect x="369.2" y="350.2" width="67.7" height="67.9" fill="none" stroke="#111" stroke-width="1.4"/>
<text x="432.7" y="358.8" font-size="8.3" fill="#222" text-anchor="end">n = 24</text>
<text x="403" y="428.6" font-size="9" fill="#222" text-anchor="middle">Up</text>
<polygon points="451.7,364.9 452.5,366.4 453.3,365.5 454.1,363.4 454.9,364.1 455.7,364.2 456.5,365.1 457.3,367.2 458.2,367.9 459,368.1 459.8,368.7 460.6,367.8 461.4,367.5 462.2,367.7 463,367.8 463.8,368.2 464.6,367 465.4,366.4 466.2,366.8 467,367.2 467.8,366.1 468.6,366.1 469.4,368.1 470.2,368.3 471.1,367.4 471.9,367 472.7,367.1 473.5,366.2 474.3,367 475.1,368.9 475.9,370.7 476.7,373.4 477.5,374.4 478.3,376.6 479.1,376.3 479.9,376.8 480.7,378.4 481.5,378.2 482.3,379.1 483.2,378.7 484,379.7 484.8,381.4 485.6,381.8 486.4,383.3 487.2,384.2 488,384.2 488.8,383.3 489.6,385.8 490.4,386.9 491.2,387.7 492,387.9 492.8,387.1 493.6,387 494.4,388.3 495.2,389.3 496.1,389.6 496.9,390.3 497.7,390.2 498.5,391.5 499.3,392.4 500.1,392.2 500.9,393.2 501.7,394 501.7,414.1 500.9,411.5 500.1,411.3 499.3,410.8 498.5,411.2 497.7,411.3 496.9,412.1 496.1,413 495.2,411.5 494.4,411.5 493.6,409.5 492.8,409.5 492,409.3 491.2,409.2 490.4,407.9 489.6,405.6 488.8,405.7 488,406.9 487.2,406.9 486.4,406.1 485.6,406.1 484.8,406 484,404.8 483.2,403.3 482.3,403.9 481.5,404.2 480.7,403.9 479.9,402.1 479.1,400.9 478.3,401.3 477.5,400.4 476.7,399.7 475.9,396.7 475.1,393.2 474.3,389.8 473.5,387 472.7,385.5 471.9,385.6 471.1,383.7 470.2,382.2 469.4,381.3 468.6,380.1 467.8,378.6 467,378.2 466.2,380.1 465.4,380.5 464.6,379.5 463.8,379.6 463,379.3 462.2,379.8 461.4,380.8 460.6,380.6 459.8,381.1 459,379.8 458.2,378.2 457.3,376.2 456.5,376.7 455.7,374.9 454.9,375 454.1,373.3 453.3,375.5 452.5,376.4 451.7,375.7" fill="#cbcbcb"/>
<polyline points="451.7,370.4 452.5,370.7 453.3,370.3 454.1,369.4 454.9,370 455.7,369.8 456.5,370.9 457.3,371.9 458.2,371.8 459,372.8 459.8,373.5 460.6,373.9 461.4,374.1 462.2,373.7 463,374.1 463.8,374.1 464.6,373.2 465.4,373.4 466.2,373.6 467,373.4 467.8,373.2 468.6,373.6 469.4,374.8 470.2,375.9 471.1,376.6 471.9,377 472.7,377.7 473.5,378.6 474.3,379.8 475.1,381.7 475.9,383.6 476.7,385.8 477.5,387 478.3,387.7 479.1,387.9 479.9,388.9 480.7,390.9 481.5,392.4 482.3,392.2 483.2,392.3 484,393.1 484.8,394 485.6,394.1 486.4,394.6 487.2,395.4 488,395.5 488.8,395.5 489.6,395.8 490.4,396.9 491.2,397.8 492,398.1 492.8,398.7 493.6,398.9 494.4,399.9 495.2,400.6 496.1,400.7 496.9,401 497.7,400.9 498.5,401.3 499.3,401 500.1,401.6 500.9,402.1 501.7,402.7" fill="none" stroke="#000" stroke-width="1.8" stroke-linejoin="round"/>
<rect x="445" y="350.2" width="68.3" height="67.9" fill="none" stroke="#111" stroke-width="1.4"/>
<text x="509.1" y="358.8" font-size="8.3" fill="#222" text-anchor="end">n = 20</text>
<text x="479.1" y="428.6" font-size="9" fill="#222" text-anchor="middle">Down</text>
<line x1="45.6" y1="347.7" x2="45.6" y2="422.8" stroke="#111" stroke-width="1.3"/>
<line x1="42.2" y1="351.2" x2="45.6" y2="351.2" stroke="#111" stroke-width="1.3"/>
<text x="39.6" y="354.2" font-size="8.4" fill="#333" text-anchor="end">1.00</text>
<line x1="42.2" y1="368.2" x2="45.6" y2="368.2" stroke="#111" stroke-width="1.3"/>
<text x="39.6" y="371.2" font-size="8.4" fill="#333" text-anchor="end">0.75</text>
<line x1="42.2" y1="385.2" x2="45.6" y2="385.2" stroke="#111" stroke-width="1.3"/>
<text x="39.6" y="388.2" font-size="8.4" fill="#333" text-anchor="end">0.50</text>
<line x1="42.2" y1="402.2" x2="45.6" y2="402.2" stroke="#111" stroke-width="1.3"/>
<text x="39.6" y="405.2" font-size="8.4" fill="#333" text-anchor="end">0.25</text>
<line x1="42.2" y1="419.5" x2="45.6" y2="419.5" stroke="#111" stroke-width="1.3"/>
<text x="39.6" y="422.5" font-size="8.4" fill="#333" text-anchor="end">0.00</text>
<text x="15.8" y="384.9" font-size="9.5" fill="#222" text-anchor="middle" textLength="94.2" lengthAdjust="spacingAndGlyphs" transform="rotate(-90 15.8 384.9)">Normalized expression</text>
<line x1="48.2" y1="437" x2="122.5" y2="437" stroke="#111" stroke-width="1.3"/>
<line x1="51.8" y1="437" x2="51.8" y2="440.5" stroke="#111" stroke-width="1.3"/>
<text x="54.4" y="448.5" font-size="8.6" fill="#222" text-anchor="end" transform="rotate(-45 54.4 448.5)">0.00</text>
<line x1="68.8" y1="437" x2="68.8" y2="440.5" stroke="#111" stroke-width="1.3"/>
<text x="71.3" y="448.5" font-size="8.6" fill="#222" text-anchor="end" transform="rotate(-45 71.3 448.5)">0.25</text>
<line x1="86.2" y1="437" x2="86.2" y2="440.5" stroke="#111" stroke-width="1.3"/>
<text x="88.8" y="448.5" font-size="8.6" fill="#222" text-anchor="end" transform="rotate(-45 88.8 448.5)">0.50</text>
<line x1="103" y1="437" x2="103" y2="440.5" stroke="#111" stroke-width="1.3"/>
<text x="105.6" y="448.5" font-size="8.6" fill="#222" text-anchor="end" transform="rotate(-45 105.6 448.5)">0.75</text>
<line x1="120" y1="437" x2="120" y2="440.5" stroke="#111" stroke-width="1.3"/>
<text x="122.6" y="448.5" font-size="8.6" fill="#222" text-anchor="end" transform="rotate(-45 122.6 448.5)">1.00</text>
<text x="61.2" y="473.8" font-size="9.8" fill="#222" textLength="48.8" lengthAdjust="spacingAndGlyphs">Pseudotime</text>
<text x="8.3" y="497.3" font-size="14.4" fill="#000" font-weight="bold">D</text>
<text x="8.1" y="509.6" font-size="10.6" fill="#111" font-weight="bold" textLength="135.2" lengthAdjust="spacingAndGlyphs">Gene set enrichment analysis</text>
<rect x="9.3" y="513.8" width="489.7" height="29.1" fill="#d9d9d9"/>
<rect x="9.3" y="591.3" width="489.7" height="41" fill="#d9d9d9"/>
<rect x="9.3" y="671" width="489.7" height="43.7" fill="#d9d9d9"/>
<line x1="9.3" y1="542.9" x2="499" y2="542.9" stroke="#111" stroke-width="1.7"/>
<line x1="81.3" y1="513.8" x2="81.3" y2="758.5" stroke="#111" stroke-width="1.7"/>
<rect x="9.3" y="513.8" width="489.7" height="244.7" fill="none" stroke="#111" stroke-width="2"/>
<text x="11.5" y="532" font-size="11" fill="#111" font-weight="bold">Category</text>
<text x="84.5" y="532" font-size="11" fill="#111" font-weight="bold">E up</text>
<text x="162.6" y="532" font-size="11" fill="#111" font-weight="bold">E down</text>
<text x="229" y="532" font-size="11" fill="#111" font-weight="bold">GM up</text>
<text x="303.6" y="532" font-size="11" fill="#111" font-weight="bold">GM down</text>
<text x="373.3" y="532" font-size="11" fill="#111" font-weight="bold">L up</text>
<text x="443.8" y="532" font-size="11" fill="#111" font-weight="bold">L down</text>
<text x="11.9" y="561.7" font-size="11" fill="#111" font-weight="bold">Biological</text>
<text x="11.9" y="575.2" font-size="11" fill="#111" font-weight="bold">processes</text>
<text x="11.9" y="606.9" font-size="11" fill="#111" font-weight="bold">Molecular</text>
<text x="11.9" y="620" font-size="11" fill="#111" font-weight="bold">function</text>
<text x="11.9" y="642.5" font-size="11" fill="#111" font-weight="bold">MGI</text>
<text x="11.9" y="655.6" font-size="11" fill="#111" font-weight="bold">mammalian</text>
<text x="11.9" y="668.8" font-size="11" fill="#111" font-weight="bold">phenotype</text>
<text x="11.9" y="689.6" font-size="11" fill="#111" font-weight="bold">Reactome</text>
<text x="11.9" y="702.5" font-size="11" fill="#111" font-weight="bold">(Pathways)</text>
<text x="11.9" y="726.8" font-size="11" fill="#111" font-weight="bold">Cell types</text>
<text x="11.9" y="739.9" font-size="11" fill="#111" font-weight="bold">(Mouse gene</text>
<text x="11.9" y="753.2" font-size="11" fill="#111" font-weight="bold">atlas)</text>
<text x="84.2" y="550.8" font-size="8.2" fill="#1a1a1a" font-weight="bold">Mitotic cell cycle</text>
<text x="84.2" y="560.5" font-size="8.3" fill="#333">0</text>
<text x="84.2" y="570.3" font-size="8.2" fill="#1a1a1a" font-weight="bold">Tetrapyrrole bio-</text>
<text x="84.2" y="580" font-size="8.2" fill="#1a1a1a" font-weight="bold">synthetic process</text>
<text x="84.2" y="589.8" font-size="8.3" fill="#333">8.0 X 10<tspan font-size="5" dy="-3.2">-7</tspan></text>
<text x="162.6" y="550.8" font-size="8.2" fill="#1a1a1a" font-weight="bold">No</text>
<text x="162.6" y="560.5" font-size="8.2" fill="#1a1a1a" font-weight="bold">significant</text>
<text x="162.6" y="570.3" font-size="8.2" fill="#1a1a1a" font-weight="bold">terms</text>
<text x="228.7" y="550.8" font-size="8.2" fill="#1a1a1a" font-weight="bold">Mitotic cell cycle</text>
<text x="228.7" y="560.5" font-size="8.3" fill="#333">1.01 X 10<tspan font-size="5" dy="-3.2">-8</tspan></text>
<text x="228.7" y="570.3" font-size="8.2" fill="#1a1a1a" font-weight="bold">Neutrophil medi-</text>
<text x="228.7" y="580" font-size="8.2" fill="#1a1a1a" font-weight="bold">ated immunity</text>
<text x="228.7" y="589.8" font-size="8.3" fill="#333">0.012</text>
<text x="304.5" y="550.8" font-size="8.2" fill="#1a1a1a" font-weight="bold">Coagulation</text>
<text x="304.5" y="560.5" font-size="8.3" fill="#333">0.017</text>
<text x="374.2" y="550.8" font-size="8.2" fill="#1a1a1a" font-weight="bold">Regulation of</text>
<text x="374.2" y="560.5" font-size="8.2" fill="#1a1a1a" font-weight="bold">lymphocyte</text>
<text x="374.2" y="570.3" font-size="8.2" fill="#1a1a1a" font-weight="bold">differentiation</text>
<text x="374.2" y="580" font-size="8.3" fill="#333">0.063</text>
<text x="443.8" y="550.8" font-size="8.2" fill="#1a1a1a" font-weight="bold">Hemostasis</text>
<text x="443.8" y="560.5" font-size="8.3" fill="#333">0.0091</text>
<text x="84.2" y="601.5" font-size="8.2" fill="#1a1a1a" font-weight="bold">ATP binding</text>
<text x="84.2" y="611.3" font-size="8.3" fill="#333">3.0 X 10<tspan font-size="5" dy="-3.2">-11</tspan></text>
<text x="162.6" y="601.5" font-size="8.2" fill="#1a1a1a" font-weight="bold">Leukocyte</text>
<text x="162.6" y="611.3" font-size="8.2" fill="#1a1a1a" font-weight="bold">activation</text>
<text x="162.6" y="621.1" font-size="8.3" fill="#333">0.0012</text>
<text x="228.7" y="601.5" font-size="8.2" fill="#1a1a1a" font-weight="bold">Cytochrome-c</text>
<text x="228.7" y="611.3" font-size="8.2" fill="#1a1a1a" font-weight="bold">oxidase activity</text>
<text x="228.7" y="621.1" font-size="8.3" fill="#333">0.010</text>
<text x="304.5" y="601.5" font-size="8.2" fill="#1a1a1a" font-weight="bold">Guanyl</text>
<text x="304.5" y="611.3" font-size="8.2" fill="#1a1a1a" font-weight="bold">nucleotide</text>
<text x="304.5" y="621.1" font-size="8.2" fill="#1a1a1a" font-weight="bold">binding</text>
<text x="304.5" y="630.9" font-size="8.3" fill="#333">0.035</text>
<text x="374.2" y="601.5" font-size="8.2" fill="#1a1a1a" font-weight="bold">No</text>
<text x="374.2" y="611.3" font-size="8.2" fill="#1a1a1a" font-weight="bold">significant</text>
<text x="374.2" y="621.1" font-size="8.2" fill="#1a1a1a" font-weight="bold">terms</text>
<text x="443.8" y="601.5" font-size="8.2" fill="#1a1a1a" font-weight="bold">No</text>
<text x="443.8" y="611.3" font-size="8.2" fill="#1a1a1a" font-weight="bold">significant</text>
<text x="443.8" y="621.1" font-size="8.2" fill="#1a1a1a" font-weight="bold">terms</text>
<text x="84.2" y="640.2" font-size="8.2" fill="#1a1a1a" font-weight="bold">Abnormal</text>
<text x="84.2" y="650.1" font-size="8.2" fill="#1a1a1a" font-weight="bold">hematopoietic</text>
<text x="84.2" y="659.9" font-size="8.2" fill="#1a1a1a" font-weight="bold">system</text>
<text x="84.2" y="669.8" font-size="8.3" fill="#333">9.0 X 10<tspan font-size="5" dy="-3.2">-6</tspan></text>
<text x="162.6" y="640.2" font-size="8.2" fill="#1a1a1a" font-weight="bold">Abnormal</text>
<text x="162.6" y="650.1" font-size="8.2" fill="#1a1a1a" font-weight="bold">immune</text>
<text x="162.6" y="659.9" font-size="8.2" fill="#1a1a1a" font-weight="bold">system</text>
<text x="162.6" y="669.8" font-size="8.3" fill="#333">1.8 X 10<tspan font-size="5" dy="-3.2">-7</tspan></text>
<text x="228.7" y="640.2" font-size="8.2" fill="#1a1a1a" font-weight="bold">Abnormal</text>
<text x="228.7" y="650.1" font-size="8.2" fill="#1a1a1a" font-weight="bold">immune</text>
<text x="228.7" y="659.9" font-size="8.2" fill="#1a1a1a" font-weight="bold">system</text>
<text x="228.7" y="669.8" font-size="8.3" fill="#333">7.2 X 10<tspan font-size="5" dy="-3.2">-7</tspan></text>
<text x="304.5" y="640.2" font-size="8.2" fill="#1a1a1a" font-weight="bold">Abnormal</text>
<text x="304.5" y="650.1" font-size="8.2" fill="#1a1a1a" font-weight="bold">hematopoietic</text>
<text x="304.5" y="659.9" font-size="8.2" fill="#1a1a1a" font-weight="bold">system</text>
<text x="304.5" y="669.8" font-size="8.3" fill="#333">0.0028</text>
<text x="374.2" y="640.2" font-size="8.2" fill="#1a1a1a" font-weight="bold">Abnormal</text>
<text x="374.2" y="650.1" font-size="8.2" fill="#1a1a1a" font-weight="bold">immune</text>
<text x="374.2" y="659.9" font-size="8.2" fill="#1a1a1a" font-weight="bold">system</text>
<text x="374.2" y="669.8" font-size="8.3" fill="#333">0.021</text>
<text x="443.8" y="640.2" font-size="8.2" fill="#1a1a1a" font-weight="bold">Abnormal</text>
<text x="443.8" y="650.1" font-size="8.2" fill="#1a1a1a" font-weight="bold">homeostasis</text>
<text x="443.8" y="659.9" font-size="8.3" fill="#333">0.0082</text>
<text x="84.2" y="680.8" font-size="8.2" fill="#1a1a1a" font-weight="bold">Mitotic cell cycle</text>
<text x="84.2" y="690.6" font-size="8.3" fill="#333">0</text>
<text x="162.6" y="680.8" font-size="8.2" fill="#1a1a1a" font-weight="bold">Hemostasis</text>
<text x="162.6" y="690.6" font-size="8.3" fill="#333">2.4 X 10<tspan font-size="5" dy="-3.2">-6</tspan></text>
<text x="228.7" y="680.8" font-size="8.2" fill="#1a1a1a" font-weight="bold">Mitotic cell cycle</text>
<text x="228.7" y="690.6" font-size="8.3" fill="#333">4.2 X 10<tspan font-size="5" dy="-3.2">-6</tspan></text>
<text x="304.5" y="680.8" font-size="8.2" fill="#1a1a1a" font-weight="bold">Cytokine sig-</text>
<text x="304.5" y="690.6" font-size="8.2" fill="#1a1a1a" font-weight="bold">naling in imm-</text>
<text x="304.5" y="700.4" font-size="8.2" fill="#1a1a1a" font-weight="bold">une system</text>
<text x="304.5" y="710.2" font-size="8.3" fill="#333">0.012</text>
<text x="374.2" y="680.8" font-size="8.2" fill="#1a1a1a" font-weight="bold">No</text>
<text x="374.2" y="690.6" font-size="8.2" fill="#1a1a1a" font-weight="bold">significant</text>
<text x="374.2" y="700.4" font-size="8.2" fill="#1a1a1a" font-weight="bold">terms</text>
<text x="443.8" y="680.8" font-size="8.2" fill="#1a1a1a" font-weight="bold">Hemostasis</text>
<text x="443.8" y="690.6" font-size="8.3" fill="#333">0.00081</text>
<text x="84.2" y="724.5" font-size="8.2" fill="#1a1a1a" font-weight="bold">Megakaryocyte</text>
<text x="84.2" y="734.4" font-size="8.2" fill="#1a1a1a" font-weight="bold">erythrocyte</text>
<text x="84.2" y="744.3" font-size="8.2" fill="#1a1a1a" font-weight="bold">progenitor</text>
<text x="84.2" y="754.2" font-size="8.3" fill="#333">1.7 X 10<tspan font-size="5" dy="-3.2">-21</tspan></text>
<text x="162.6" y="724.5" font-size="8.2" fill="#1a1a1a" font-weight="bold">Mast cells</text>
<text x="162.6" y="734.4" font-size="8.3" fill="#333">0.0028</text>
<text x="228.7" y="724.5" font-size="8.2" fill="#1a1a1a" font-weight="bold">Granulocyte</text>
<text x="228.7" y="734.4" font-size="8.2" fill="#1a1a1a" font-weight="bold">monocyte</text>
<text x="228.7" y="744.3" font-size="8.2" fill="#1a1a1a" font-weight="bold">progenitor</text>
<text x="228.7" y="754.2" font-size="8.3" fill="#333">1.3 X 10<tspan font-size="5" dy="-3.2">-6</tspan></text>
<text x="304.5" y="724.5" font-size="8.2" fill="#1a1a1a" font-weight="bold">Stem cells</text>
<text x="304.5" y="734.4" font-size="8.2" fill="#1a1a1a" font-weight="bold">HSC</text>
<text x="304.5" y="744.3" font-size="8.3" fill="#333">0.0032</text>
<text x="374.2" y="724.5" font-size="8.2" fill="#1a1a1a" font-weight="bold">Thymocyte</text>
<text x="374.2" y="734.4" font-size="8.2" fill="#1a1a1a" font-weight="bold">DP</text>
<text x="374.2" y="744.3" font-size="8.2" fill="#1a1a1a" font-weight="bold">CD4+CD8+</text>
<text x="374.2" y="754.2" font-size="8.3" fill="#333">0.049</text>
<text x="443.8" y="724.5" font-size="8.2" fill="#1a1a1a" font-weight="bold">Mast cells</text>
<text x="443.8" y="734.4" font-size="8.3" fill="#333">3.5 X 10<tspan font-size="5" dy="-3.2">-6</tspan></text>
<text x="15" y="768.3" font-size="9" font-weight="bold" fill="#111" textLength="472.7" lengthAdjust="spacingAndGlyphs">Terms shown with adjusted <tspan font-style="italic">P</tspan> values (Benjamini-Hochberg method for correction for multiple hypotheses testing)</text>
<rect x="0.5" y="0.5" width="519" height="776" fill="none" stroke="#333" stroke-width="1"/>
</svg>
</body></html>
